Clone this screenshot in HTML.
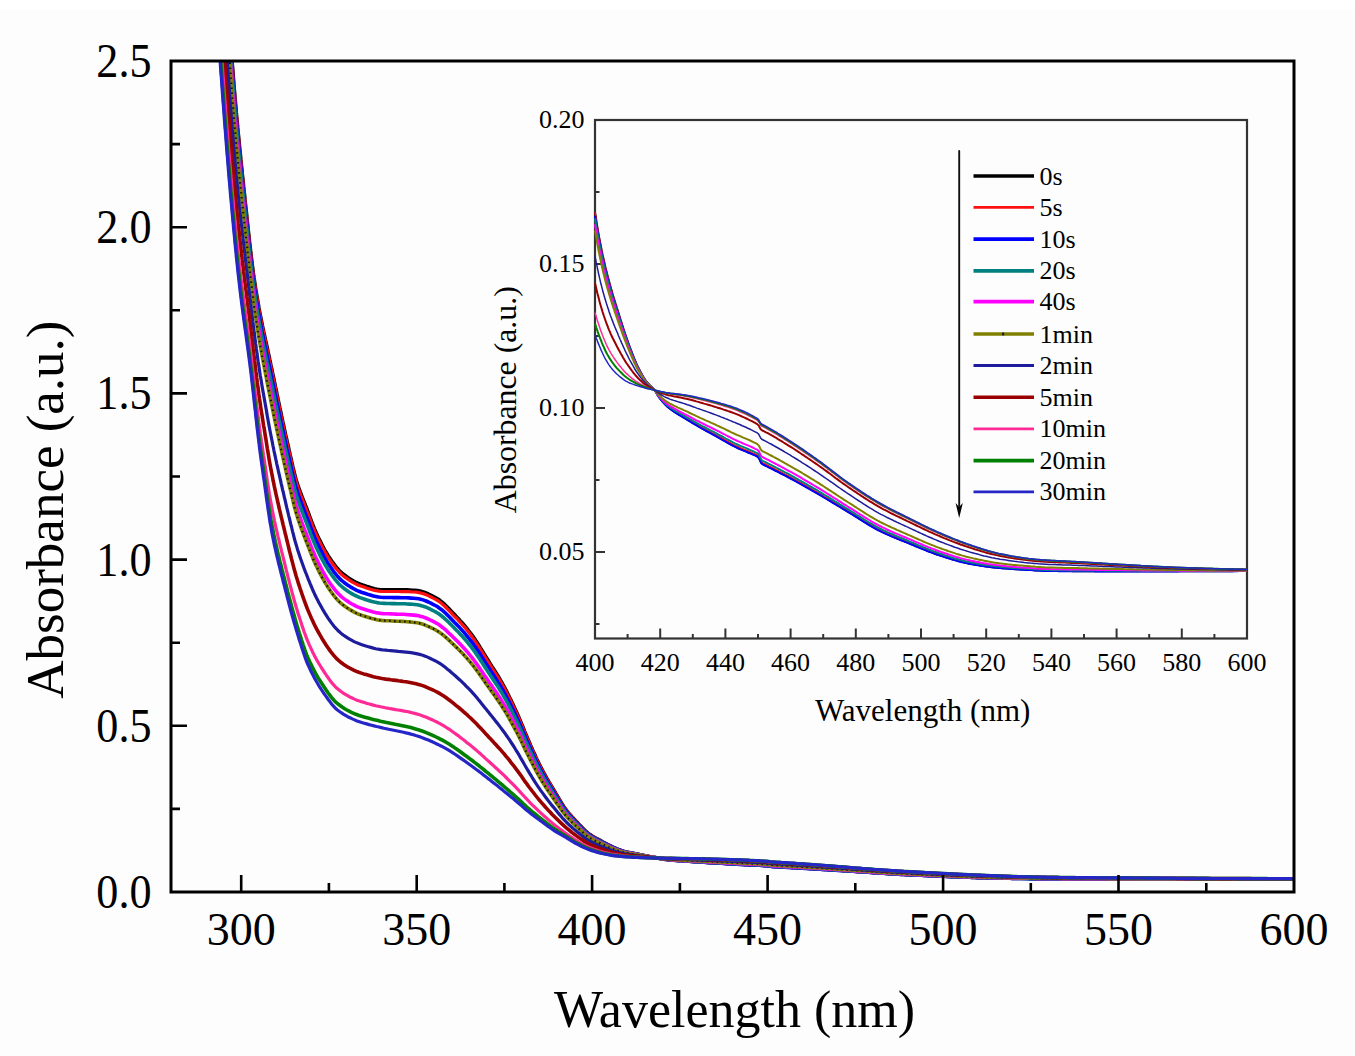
<!DOCTYPE html>
<html><head><meta charset="utf-8"><style>
html,body{margin:0;padding:0;background:#fdfdfd;}
svg{display:block;}
text{font-family:"Liberation Serif", serif;fill:#000;}
</style></head><body>
<svg width="1355" height="1056" viewBox="0 0 1355 1056">
<rect width="1355" height="1056" fill="#fdfdfd"/><rect width="1355" height="9" fill="#fff"/>
<defs>
<clipPath id="cm"><rect x="171.0" y="61.0" width="1123.0" height="831.0"/></clipPath>
<clipPath id="ci"><rect x="595.0" y="120.0" width="652.0" height="518.5"/><rect x="593.5" y="120.0" width="4" height="518.5"/></clipPath>
</defs>
<g clip-path="url(#cm)" fill="none" stroke-linejoin="round" stroke-linecap="round">
<path d="M229.8 27.1L230.0 30.2 230.2 33.4 230.4 36.5 230.7 39.8 230.9 43.1 231.1 46.4 231.3 49.8 231.5 53.0 231.7 56.1 231.9 59.1 232.1 61.9 232.3 64.7 232.6 67.4 232.8 70.1 233.0 72.7 233.2 75.4 233.4 78.0 233.6 80.6 233.8 83.2 234.0 85.8 234.2 88.3 234.4 90.8 234.7 93.3 234.9 96.6 235.2 99.9 235.5 103.1 235.8 106.3 236.1 109.5 236.3 112.7 236.6 115.8 236.9 118.9 237.2 121.9 237.5 124.9 237.7 127.9 238.0 130.9 238.3 133.9 238.6 136.8 238.9 139.7 239.2 142.6 239.4 145.5 239.7 148.3 240.0 151.1 240.3 154.0 240.6 156.8 240.8 159.5 241.1 162.3 241.4 165.0 241.7 167.8 242.0 170.5 242.2 173.2 242.5 175.9 242.8 178.6 243.1 181.3 243.4 184.0 243.6 186.7 243.9 189.3 244.2 192.0 244.5 194.6 244.8 197.3 245.0 199.9 245.3 202.6 245.6 205.2 245.9 207.9 246.2 210.6 246.5 213.2 246.7 215.8 247.0 218.5 247.3 221.1 247.6 223.7 247.9 226.4 248.1 229.0 248.4 231.5 248.7 234.1 249.0 236.7 249.3 239.2 249.5 241.7 249.8 244.2 250.2 247.3 250.5 250.3 250.9 253.3 251.2 256.3 251.6 259.2 251.9 262.1 252.3 264.9 252.6 267.6 253.0 270.3 253.3 273.0 253.7 275.5 254.0 278.0 254.5 280.9 254.9 283.7 255.3 286.4 255.7 289.1 256.1 291.7 256.6 294.2 257.0 296.7 257.5 299.6 258.0 302.4 258.5 305.1 258.9 307.8 259.4 310.5 259.9 313.1 260.4 315.6 260.9 318.1 261.4 320.6 262.0 323.3 262.5 326.1 263.1 328.8 263.6 331.4 264.2 334.1 264.8 336.7 265.3 339.3 265.9 341.9 266.5 344.4 267.0 347.0 267.6 349.5 268.1 352.1 268.7 354.7 269.3 357.2 269.8 359.8 270.4 362.5 270.9 365.1 271.5 367.8 272.1 370.5 272.6 373.2 273.2 375.9 273.8 378.6 274.3 381.3 274.9 384.0 275.4 386.8 276.0 389.5 276.6 392.2 277.1 394.9 277.7 397.5 278.2 400.2 278.8 402.9 279.4 405.6 279.9 408.2 280.5 410.9 281.1 413.5 281.6 416.2 282.2 418.8 282.7 421.4 283.3 424.0 283.9 426.6 284.4 429.2 285.0 431.8 285.5 434.3 286.1 436.9 286.7 439.4 287.2 441.9 287.8 444.5 288.4 446.9 288.9 449.4 289.5 451.9 290.0 454.3 290.6 456.8 291.2 459.2 291.7 461.7 292.3 464.2 292.8 466.6 293.5 469.3 294.1 472.0 294.7 474.5 295.4 477.2 296.1 479.7 296.9 482.2 297.7 484.7 298.5 487.2 299.4 489.6 300.3 492.1 301.2 494.5 302.1 496.9 303.1 499.4 304.1 501.9 305.1 504.3 306.0 506.8 307.0 509.2 307.9 511.6 308.8 514.0 309.7 516.5 310.6 518.9 311.5 521.3 312.4 523.7 313.3 526.0 314.3 528.5 315.3 530.8 316.4 533.2 317.4 535.4 318.5 537.8 319.7 540.1 320.8 542.4 322.0 544.8 323.2 547.1 324.4 549.3 325.6 551.5 327.0 553.8 328.3 555.9 329.7 558.0 331.2 560.2 332.6 562.2 334.2 564.3 335.7 566.3 337.3 568.3 339.0 570.2 340.9 572.0 342.7 573.7 344.8 575.3 346.8 576.8 348.9 578.2 351.0 579.6 353.2 580.9 355.5 582.1 357.8 583.2 360.1 584.1 362.5 585.0 364.9 585.8 367.2 586.6 369.6 587.3 372.1 588.1 374.5 588.7 377.0 589.2 379.5 589.6 382.1 589.8 384.6 589.8 387.1 589.8 389.6 589.8 392.2 589.8 394.7 589.8 397.2 589.8 399.7 589.8 402.3 589.8 404.8 589.9 407.3 589.9 409.8 590.0 412.4 590.2 414.9 590.4 417.4 590.6 420.0 591.0 422.4 591.7 424.8 592.5 427.2 593.4 429.5 594.5 431.7 595.6 434.0 596.8 436.2 598.0 438.4 599.3 440.4 600.8 442.4 602.4 444.3 604.1 446.1 605.9 448.0 607.7 449.7 609.5 451.5 611.4 453.2 613.2 455.0 615.1 456.7 616.9 458.5 618.8 460.2 620.7 461.9 622.5 463.6 624.5 465.3 626.5 466.9 628.4 468.5 630.5 470.1 632.5 471.6 634.5 473.1 636.6 474.6 638.7 476.0 640.9 477.4 643.0 478.8 645.2 480.1 647.4 481.4 649.5 482.8 651.7 484.1 653.9 485.4 656.0 486.8 658.2 488.1 660.3 489.4 662.4 490.8 664.7 492.2 666.9 493.7 669.1 495.0 671.2 496.3 673.3 497.7 675.5 499.0 677.7 500.3 680.0 501.6 682.2 502.8 684.4 504.1 686.7 505.3 688.9 506.5 691.2 507.7 693.5 508.8 695.8 509.9 698.0 511.1 700.4 512.2 702.7 513.3 705.1 514.4 707.5 515.5 709.8 516.5 712.1 517.6 714.4 518.6 716.8 519.6 719.1 520.6 721.5 521.6 723.9 522.6 726.3 523.6 728.7 524.5 731.1 525.5 733.5 526.5 735.8 527.5 738.1 528.5 740.5 529.6 743.0 530.6 745.4 531.7 747.8 532.7 750.1 533.8 752.5 534.9 754.8 535.9 757.2 537.0 759.6 538.2 761.9 539.3 764.2 540.5 766.6 541.7 768.9 542.9 771.1 544.1 773.4 545.4 775.7 546.6 777.9 547.9 780.1 549.2 782.3 550.5 784.5 551.8 786.8 553.2 789.0 554.5 791.2 555.8 793.5 557.2 795.8 558.5 798.0 559.8 800.3 561.2 802.5 562.5 804.6 563.9 806.7 565.4 808.8 566.9 810.8 568.5 812.8 570.2 814.8 571.9 816.7 573.7 818.6 575.4 820.5 577.2 822.3 578.9 824.2 580.7 826.0 582.4 827.9 584.3 829.7 586.1 831.5 588.1 833.1 590.1 834.6 592.2 836.0 594.4 837.3 596.6 838.5 598.9 839.7 601.1 840.9 603.4 842.2 605.6 843.4 607.8 844.6 610.1 845.7 612.4 846.8 614.7 847.8 617.0 848.8 619.4 849.8 621.7 850.6 624.2 851.4 626.7 852.0 629.1 852.5 631.6 853.0 634.2 853.4 636.6 853.9 639.1 854.4 641.5 854.9 644.0 855.4 646.5 855.9 648.9 856.4 651.4 856.9 654.0 857.3 656.5 857.8 658.9 858.3 661.4 858.8 663.9 859.2 666.5 859.5 669.0 859.8 671.5 860.0 674.0 860.2 676.6 860.4 679.1 860.6 681.6 860.8 684.1 861.0 686.7 861.1 689.2 861.3 691.7 861.4 694.2 861.6 696.8 861.8 699.3 861.9 701.8 862.1 704.4 862.2 706.9 862.4 709.4 862.6 711.9 862.7 714.5 862.8 717.0 863.0 719.5 863.1 722.0 863.3 724.6 863.4 727.1 863.6 729.6 863.7 732.1 863.9 734.7 864.0 737.2 864.2 739.7 864.3 742.3 864.5 744.8 864.6 747.3 864.7 749.8 864.9 752.4 865.0 754.9 865.1 757.4 865.2 759.9 865.3 762.5 865.4 765.0 865.6 767.5 865.7 770.0 866.2 772.5 866.5 775.0 866.7 777.6 866.8 780.1 866.9 782.6 867.1 785.1 867.2 787.7 867.3 790.2 867.5 792.7 867.6 795.2 867.8 797.8 867.9 800.3 868.0 802.8 868.2 805.4 868.3 807.9 868.5 810.4 868.6 812.9 868.8 815.5 868.9 818.0 869.1 820.5 869.2 823.0 869.4 825.6 869.5 828.1 869.7 830.6 869.9 833.1 870.0 835.7 870.2 838.2 870.3 840.7 870.5 843.3 870.7 845.8 870.8 848.3 871.0 850.8 871.2 853.4 871.3 855.9 871.5 858.4 871.7 860.9 871.8 863.5 872.0 866.0 872.1 868.5 872.3 871.1 872.5 873.6 872.6 876.1 872.8 878.6 873.0 881.2 873.2 883.7 873.3 886.2 873.5 888.7 873.7 891.3 873.8 893.8 874.0 896.3 874.1 898.8 874.3 901.4 874.4 903.9 874.5 906.4 874.6 909.0 874.8 911.5 874.9 914.0 875.0 916.5 875.1 919.1 875.2 921.6 875.3 924.1 875.4 926.6 875.5 929.2 875.6 931.7 875.8 934.2 875.9 936.7 876.0 939.3 876.1 941.8 876.2 944.3 876.3 946.9 876.4 949.4 876.5 951.9 876.6 954.4 876.7 957.0 876.8 959.5 876.9 962.0 877.0 964.5 877.1 967.1 877.2 969.6 877.3 972.1 877.4 974.6 877.5 977.2 877.6 979.7 877.6 982.2 877.7 984.8 877.8 987.3 877.9 989.8 877.9 992.3 878.0 994.9 878.0 997.4 878.1 999.9 878.1 1002.4 878.2 1005.0 878.2 1007.5 878.3 1010.0 878.3 1012.5 878.4 1015.1 878.4 1017.6 878.4 1020.1 878.5 1022.7 878.5 1025.2 878.5 1027.7 878.5 1030.2 878.6 1032.8 878.6 1035.3 878.6 1037.8 878.6 1040.3 878.6 1042.9 878.7 1045.4 878.7 1047.9 878.7 1050.4 878.7 1053.0 878.7 1055.5 878.7 1058.0 878.8 1060.6 878.8 1063.1 878.8 1065.6 878.8 1068.1 878.8 1070.7 878.8 1073.2 878.9 1075.7 878.9 1078.2 878.9 1080.8 878.9 1083.3 878.9 1085.8 878.9 1088.4 878.9 1090.9 878.9 1093.4 878.9 1095.9 878.9 1098.5 878.9 1101.0 878.9 1103.5 878.9 1106.0 878.9 1108.6 878.9 1111.1 878.9 1113.6 878.9 1116.1 878.9 1118.7 878.9 1121.2 878.9 1123.7 878.9 1126.3 878.9 1128.8 878.9 1131.3 878.9 1133.8 878.9 1136.4 878.9 1138.9 878.9 1141.4 878.9 1143.9 878.9 1146.5 878.9 1149.0 878.9 1151.5 878.9 1154.0 878.9 1156.6 878.9 1159.1 878.9 1161.6 878.9 1164.2 878.9 1166.7 878.9 1169.2 878.9 1171.7 878.9 1174.3 878.9 1176.8 878.9 1179.3 878.9 1181.8 878.9 1184.4 878.9 1186.9 878.9 1189.4 878.9 1191.9 878.9 1194.5 878.9 1197.0 878.9 1199.5 878.9 1202.1 878.9 1204.6 878.9 1207.1 878.9 1209.6 878.9 1212.2 878.9 1214.7 878.9 1217.2 878.9 1219.7 878.9 1222.3 878.9 1224.8 878.9 1227.3 878.9 1229.8 878.9 1232.4 878.9 1234.9 878.9 1237.4 878.9 1240.0 878.9 1242.5 878.9 1245.0 878.9 1247.5 878.9 1250.1 878.9 1252.6 878.9 1255.1 878.9 1257.6 878.9 1260.2 878.9 1262.7 878.9 1265.2 878.9 1267.7 878.9 1270.3 878.9 1272.8 878.9 1275.3 878.9 1277.9 878.9 1280.4 878.9 1282.9 878.9 1285.4 878.9 1288.0 878.9 1290.5 878.9 1293.0 878.9 1294.0 878.9" stroke="#000000" stroke-width="3.6"/>
<path d="M229.7 26.9L229.9 30.0 230.1 33.2 230.3 36.3 230.5 39.5 230.7 42.8 230.9 46.1 231.2 49.4 231.4 52.7 231.6 55.9 231.8 59.0 232.0 61.9 232.2 64.6 232.4 67.4 232.6 70.1 232.8 72.8 233.0 75.4 233.3 78.1 233.5 80.7 233.7 83.3 233.9 85.8 234.1 88.4 234.3 90.9 234.5 93.4 234.8 96.7 235.1 100.0 235.4 103.3 235.6 106.5 235.9 109.7 236.2 112.8 236.5 115.9 236.8 119.0 237.0 122.1 237.3 125.1 237.6 128.1 237.9 131.1 238.2 134.1 238.5 137.0 238.7 140.0 239.0 142.8 239.3 145.7 239.6 148.6 239.9 151.4 240.1 154.2 240.4 157.0 240.7 159.8 241.0 162.6 241.3 165.3 241.5 168.1 241.8 170.8 242.1 173.5 242.4 176.2 242.7 178.9 242.9 181.6 243.2 184.2 243.5 186.9 243.8 189.6 244.1 192.2 244.3 194.9 244.6 197.5 244.9 200.2 245.2 202.8 245.5 205.5 245.7 208.1 246.0 210.7 246.3 213.4 246.6 216.0 246.9 218.7 247.2 221.3 247.4 223.9 247.7 226.5 248.0 229.1 248.3 231.7 248.6 234.3 248.8 236.8 249.1 239.4 249.4 241.9 249.7 244.4 250.0 247.5 250.4 250.6 250.7 253.6 251.1 256.6 251.4 259.5 251.8 262.4 252.1 265.2 252.5 268.0 252.8 270.7 253.2 273.4 253.5 276.0 253.9 278.5 254.3 281.4 254.7 284.3 255.2 287.0 255.6 289.7 256.0 292.3 256.4 294.9 256.8 297.4 257.3 299.9 257.8 302.8 258.2 305.6 258.7 308.3 259.2 311.0 259.7 313.6 260.2 316.2 260.7 318.7 261.2 321.2 261.7 323.7 262.2 326.4 262.8 329.2 263.4 331.9 263.9 334.5 264.5 337.2 265.1 339.8 265.6 342.4 266.2 345.0 266.7 347.5 267.3 350.1 267.9 352.7 268.4 355.3 269.0 357.9 269.5 360.5 270.1 363.1 270.7 365.7 271.2 368.4 271.8 371.1 272.4 373.8 272.9 376.5 273.5 379.2 274.0 381.9 274.6 384.7 275.2 387.4 275.7 390.1 276.3 392.8 276.8 395.5 277.4 398.1 278.0 400.8 278.5 403.5 279.1 406.2 279.7 408.8 280.2 411.5 280.8 414.1 281.3 416.8 281.9 419.4 282.5 422.0 283.0 424.6 283.6 427.2 284.1 429.8 284.7 432.4 285.3 434.9 285.8 437.5 286.4 440.0 286.9 442.5 287.5 445.1 288.1 447.6 288.6 450.0 289.2 452.5 289.8 455.0 290.4 457.7 291.0 460.1 291.5 462.6 292.1 465.1 292.6 467.5 293.3 470.3 293.9 472.9 294.5 475.5 295.2 477.9 295.9 480.5 296.6 483.1 297.4 485.6 298.2 488.2 299.1 490.6 299.9 493.0 300.8 495.4 301.8 497.8 302.7 500.2 303.7 502.6 304.6 505.1 305.6 507.6 306.5 509.9 307.4 512.3 308.4 514.7 309.3 517.2 310.2 519.6 311.1 522.0 312.0 524.4 312.9 526.8 313.9 529.2 314.9 531.6 315.9 534.0 317.0 536.3 318.1 538.7 319.2 541.0 320.4 543.3 321.5 545.6 322.7 547.9 323.9 550.1 325.1 552.4 326.4 554.6 327.7 556.8 329.1 558.9 330.6 561.1 332.1 563.2 333.6 565.2 335.1 567.2 336.7 569.2 338.4 571.2 340.2 573.0 342.0 574.8 344.0 576.4 346.0 577.9 348.2 579.4 350.3 580.8 352.4 582.1 354.7 583.3 356.9 584.5 359.2 585.5 361.6 586.3 364.0 587.1 366.4 588.0 368.8 588.7 371.2 589.5 373.7 590.1 376.2 590.7 378.7 591.1 381.2 591.4 383.7 591.5 386.3 591.5 388.8 591.5 391.3 591.5 393.8 591.5 396.4 591.5 398.9 591.5 401.4 591.6 404.0 591.6 406.5 591.6 409.0 591.7 411.5 591.9 414.1 592.0 416.6 592.2 419.1 592.6 421.6 593.2 424.0 593.9 426.3 594.8 428.7 595.9 431.0 597.0 433.2 598.1 435.5 599.3 437.6 600.6 439.7 602.0 441.7 603.6 443.6 605.2 445.5 607.0 447.3 608.8 449.1 610.6 450.8 612.4 452.6 614.3 454.3 616.1 456.1 617.9 457.9 619.7 459.6 621.6 461.3 623.5 463.0 625.4 464.7 627.3 466.3 629.3 467.9 631.3 469.5 633.3 471.1 635.3 472.5 637.4 474.0 639.5 475.4 641.6 476.8 643.7 478.2 645.9 479.6 648.1 480.9 650.2 482.3 652.4 483.6 654.5 484.9 656.7 486.3 658.8 487.6 661.0 489.0 663.2 490.4 665.4 491.8 667.6 493.2 669.8 494.6 672.0 496.0 674.1 497.3 676.3 498.6 678.4 500.0 680.7 501.3 683.0 502.6 685.2 503.8 687.4 505.0 689.6 506.2 691.9 507.4 694.2 508.6 696.5 509.7 698.8 510.8 701.1 512.0 703.4 513.1 705.8 514.2 708.2 515.3 710.6 516.4 712.9 517.4 715.2 518.5 717.5 519.6 720.0 520.5 722.3 521.5 724.7 522.5 727.1 523.5 729.5 524.5 731.9 525.4 734.2 526.4 736.6 527.5 739.0 528.5 741.4 529.6 743.8 530.6 746.2 531.7 748.6 532.7 750.9 533.8 753.3 534.9 755.6 535.9 757.9 537.0 760.3 538.2 762.6 539.3 764.9 540.5 767.2 541.7 769.5 542.9 771.7 544.1 774.0 545.4 776.3 546.6 778.5 547.9 780.7 549.2 782.9 550.6 785.2 551.9 787.4 553.2 789.6 554.6 791.8 555.9 794.1 557.2 796.3 558.6 798.6 559.9 800.8 561.2 803.0 562.6 805.2 564.0 807.3 565.5 809.3 567.1 811.3 568.7 813.3 570.4 815.3 572.1 817.1 573.8 819.0 575.6 820.9 577.3 822.7 579.1 824.6 580.8 826.4 582.6 828.3 584.4 830.1 586.3 831.9 588.3 833.5 590.3 835.0 592.5 836.3 594.7 837.6 596.9 838.8 599.1 840.0 601.4 841.2 603.6 842.4 605.9 843.7 608.1 844.8 610.4 845.9 612.7 847.0 615.0 848.0 617.3 849.0 619.7 850.0 622.1 850.8 624.6 851.5 627.0 852.1 629.5 852.6 632.0 853.1 634.5 853.5 637.0 854.0 639.4 854.5 641.9 855.0 644.3 855.5 646.8 856.0 649.3 856.5 651.8 857.0 654.3 857.4 656.8 857.8 659.3 858.4 661.8 858.8 664.3 859.2 666.8 859.5 669.3 859.8 671.9 860.0 674.4 860.2 676.9 860.4 679.4 860.6 682.0 860.7 684.5 860.9 687.0 861.1 689.5 861.2 692.1 861.4 694.6 861.5 697.1 861.7 699.7 861.9 702.2 862.0 704.7 862.2 707.2 862.3 709.8 862.5 712.3 862.6 714.8 862.8 717.3 862.9 719.9 863.0 722.4 863.2 724.9 863.3 727.4 863.5 730.0 863.6 732.5 863.8 735.0 863.9 737.6 864.1 740.1 864.2 742.6 864.4 745.1 864.5 747.7 864.6 750.2 864.7 752.7 864.9 755.2 865.0 757.8 865.1 760.3 865.2 762.8 865.3 765.3 865.4 767.9 865.6 770.3 866.1 772.9 866.4 775.4 866.5 777.9 866.7 780.4 866.8 783.0 867.0 785.5 867.1 788.0 867.2 790.5 867.4 793.1 867.5 795.6 867.7 798.1 867.8 800.7 867.9 803.2 868.1 805.7 868.2 808.2 868.4 810.8 868.5 813.3 868.7 815.8 868.8 818.3 869.0 820.9 869.1 823.4 869.3 825.9 869.5 828.4 869.6 831.0 869.8 833.5 869.9 836.0 870.1 838.6 870.2 841.1 870.4 843.6 870.6 846.1 870.7 848.7 870.9 851.2 871.1 853.7 871.2 856.2 871.4 858.8 871.6 861.3 871.7 863.8 871.9 866.3 872.1 868.9 872.2 871.4 872.4 873.9 872.6 876.5 872.7 879.0 872.9 881.5 873.1 884.0 873.3 886.6 873.4 889.1 873.6 891.6 873.7 894.1 873.9 896.7 874.0 899.2 874.2 901.7 874.3 904.2 874.4 906.8 874.6 909.3 874.7 911.8 874.8 914.4 874.9 916.9 875.0 919.4 875.1 921.9 875.2 924.5 875.4 927.0 875.5 929.5 875.6 932.0 875.7 934.6 875.8 937.1 875.9 939.6 876.0 942.2 876.1 944.7 876.3 947.2 876.4 949.7 876.5 952.3 876.6 954.8 876.7 957.3 876.8 959.8 876.9 962.4 877.0 964.9 877.1 967.4 877.1 969.9 877.2 972.5 877.3 975.0 877.4 977.5 877.5 980.1 877.6 982.6 877.6 985.1 877.7 987.6 877.8 990.2 877.9 992.7 877.9 995.2 878.0 997.7 878.0 1000.3 878.1 1002.8 878.1 1005.3 878.2 1007.8 878.2 1010.4 878.3 1012.9 878.3 1015.4 878.3 1018.0 878.4 1020.5 878.4 1023.0 878.4 1025.5 878.5 1028.1 878.5 1030.6 878.5 1033.1 878.5 1035.6 878.6 1038.2 878.6 1040.7 878.6 1043.2 878.6 1045.7 878.6 1048.3 878.7 1050.8 878.7 1053.3 878.7 1055.9 878.7 1058.4 878.7 1060.9 878.7 1063.4 878.8 1066.0 878.8 1068.5 878.8 1071.0 878.8 1073.5 878.8 1076.1 878.8 1078.6 878.8 1081.1 878.9 1083.6 878.9 1086.2 878.9 1088.7 878.9 1091.2 878.9 1093.8 878.9 1096.3 878.9 1098.8 878.9 1101.3 878.9 1103.9 878.9 1106.4 878.9 1108.9 878.9 1111.4 878.9 1114.0 878.9 1116.5 878.9 1119.0 878.9 1121.5 878.9 1124.1 878.9 1126.6 878.9 1129.1 878.9 1131.7 878.9 1134.2 878.9 1136.7 878.9 1139.2 878.9 1141.8 878.9 1144.3 878.9 1146.8 878.9 1149.3 878.9 1151.9 878.9 1154.4 878.9 1156.9 878.9 1159.5 878.9 1162.0 878.9 1164.5 878.9 1167.0 878.9 1169.6 878.9 1172.1 878.9 1174.6 878.9 1177.1 878.9 1179.7 878.9 1182.2 878.9 1184.7 878.9 1187.2 878.9 1189.8 878.9 1192.3 878.9 1194.8 878.9 1197.4 878.9 1199.9 878.9 1202.4 878.9 1204.9 878.9 1207.5 878.9 1210.0 878.9 1212.5 878.9 1215.0 878.9 1217.6 878.9 1220.1 878.9 1222.6 878.9 1225.1 878.9 1227.7 878.9 1230.2 878.9 1232.7 878.9 1235.3 878.9 1237.8 878.9 1240.3 878.9 1242.8 878.9 1245.4 878.9 1247.9 878.9 1250.4 878.9 1252.9 878.9 1255.5 878.9 1258.0 878.9 1260.5 878.9 1263.0 878.9 1265.6 878.9 1268.1 878.9 1270.6 878.9 1273.2 878.9 1275.7 878.9 1278.2 878.9 1280.7 878.9 1283.3 878.9 1285.8 878.9 1288.3 878.9 1290.8 878.9 1293.4 878.9 1294.0 878.9" stroke="#ff1010" stroke-width="3.2"/>
<path d="M229.3 27.6L229.5 30.7 229.7 33.8 229.9 36.9 230.1 40.0 230.3 43.1 230.5 46.2 230.7 49.5 230.9 52.7 231.2 56.0 231.4 59.3 231.6 62.4 231.8 65.5 232.0 68.4 232.2 71.1 232.4 73.8 232.6 76.5 232.8 79.2 233.0 81.8 233.3 84.4 233.5 87.0 233.7 89.6 233.9 92.2 234.1 94.7 234.3 97.2 234.5 99.7 234.8 103.0 235.1 106.3 235.4 109.5 235.6 112.7 235.9 115.9 236.2 119.0 236.5 122.1 236.8 125.2 237.0 128.2 237.3 131.3 237.6 134.3 237.9 137.2 238.2 140.2 238.5 143.1 238.7 146.0 239.0 148.9 239.3 151.7 239.6 154.6 239.9 157.4 240.1 160.2 240.4 163.0 240.7 165.7 241.0 168.5 241.3 171.2 241.5 173.9 241.8 176.6 242.1 179.3 242.4 182.0 242.7 184.6 242.9 187.3 243.2 189.9 243.5 192.6 243.8 195.2 244.1 197.8 244.3 200.5 244.6 203.1 244.9 205.7 245.2 208.3 245.5 210.9 245.7 213.6 246.0 216.2 246.3 218.8 246.6 221.4 246.9 224.0 247.2 226.6 247.4 229.2 247.7 231.8 248.0 234.4 248.3 236.9 248.6 239.5 248.8 242.0 249.1 244.6 249.4 247.1 249.7 249.5 250.0 252.6 250.4 255.7 250.7 258.7 251.1 261.7 251.4 264.6 251.8 267.5 252.1 270.3 252.5 273.1 252.8 275.9 253.2 278.5 253.5 281.2 253.9 283.7 254.2 286.2 254.7 289.1 255.1 291.9 255.5 294.6 255.9 297.3 256.3 300.0 256.8 302.6 257.2 305.1 257.6 307.6 258.1 310.5 258.6 313.3 259.1 316.0 259.6 318.7 260.1 321.4 260.6 324.0 261.1 326.5 261.5 329.1 262.0 331.5 262.6 334.3 263.2 337.1 263.7 339.8 264.3 342.5 264.8 345.2 265.4 347.9 266.0 350.5 266.5 353.2 267.1 355.8 267.6 358.5 268.2 361.1 268.8 363.7 269.3 366.4 269.9 369.0 270.5 371.7 271.0 374.4 271.6 377.0 272.1 379.8 272.7 382.5 273.3 385.2 273.8 387.9 274.4 390.6 274.9 393.4 275.5 396.1 276.1 398.7 276.6 401.4 277.2 404.1 277.8 406.8 278.3 409.4 278.9 412.1 279.4 414.7 280.0 417.4 280.6 420.0 281.1 422.6 281.7 425.2 282.2 427.8 282.8 430.4 283.4 433.0 283.9 435.6 284.5 438.2 285.1 440.7 285.6 443.2 286.2 445.8 286.7 448.3 287.3 450.8 287.9 453.3 288.4 455.7 289.0 458.2 289.5 460.6 290.2 463.4 290.8 466.1 291.4 468.6 291.9 471.0 292.5 473.4 293.1 476.2 293.8 478.8 294.4 481.4 295.0 483.9 295.7 486.4 296.4 488.9 297.2 491.4 298.0 493.8 298.8 496.3 299.7 498.7 300.6 501.2 301.5 503.6 302.4 506.0 303.3 508.3 304.3 510.8 305.3 513.3 306.3 515.8 307.2 518.2 308.1 520.6 309.0 523.0 309.9 525.4 310.8 527.8 311.7 530.2 312.6 532.5 313.6 535.0 314.6 537.4 315.7 539.8 316.7 542.1 317.8 544.4 319.0 546.8 320.1 549.1 321.3 551.4 322.5 553.7 323.7 556.0 324.9 558.2 326.2 560.4 327.5 562.6 328.9 564.8 330.4 566.9 331.9 569.0 333.3 571.1 334.9 573.1 336.5 575.1 338.2 577.0 339.9 578.9 341.8 580.6 343.8 582.2 345.8 583.7 347.9 585.2 350.0 586.6 352.2 587.9 354.5 589.2 356.7 590.3 359.0 591.3 361.4 592.2 363.8 593.0 366.2 593.8 368.6 594.6 371.0 595.3 373.5 596.0 375.9 596.5 378.5 597.0 381.0 597.3 383.5 597.5 386.1 597.5 388.6 597.5 391.1 597.5 393.6 597.6 396.2 597.6 398.7 597.6 401.2 597.7 403.7 597.7 406.3 597.8 408.8 597.9 411.3 598.1 413.8 598.3 416.4 598.5 418.9 598.8 421.4 599.4 423.7 600.1 426.1 601.0 428.4 602.0 430.8 603.2 433.0 604.3 435.3 605.5 437.5 606.7 439.6 608.2 441.6 609.7 443.6 611.4 445.5 613.1 447.3 614.9 449.2 616.7 450.9 618.5 452.7 620.4 454.4 622.2 456.2 624.0 457.9 625.8 459.7 627.6 461.4 629.5 463.1 631.4 464.8 633.3 466.5 635.3 468.1 637.3 469.7 639.3 471.3 641.3 472.8 643.4 474.3 645.5 475.8 647.6 477.2 649.7 478.6 651.8 480.0 654.0 481.4 656.2 482.8 658.4 484.2 660.7 485.6 662.9 487.0 665.1 488.4 667.3 489.8 669.4 491.2 671.6 492.6 673.7 494.0 675.9 495.4 678.1 496.8 680.3 498.1 682.4 499.5 684.5 500.8 686.7 502.1 689.0 503.4 691.2 504.7 693.4 505.9 695.8 507.1 698.0 508.3 700.3 509.5 702.6 510.7 705.0 511.8 707.2 513.0 709.5 514.1 711.8 515.2 714.2 516.3 716.6 517.4 719.0 518.5 721.3 519.6 723.6 520.6 726.1 521.6 728.4 522.6 730.7 523.6 733.0 524.5 735.3 525.6 737.8 526.6 740.2 527.7 742.6 528.7 744.9 529.8 747.2 530.9 749.6 531.9 751.9 533.0 754.2 534.0 756.4 535.1 758.8 536.3 761.2 537.4 763.5 538.5 765.8 539.7 768.1 540.9 770.3 542.2 772.7 543.4 774.9 544.7 777.2 545.9 779.3 547.3 781.6 548.6 783.8 549.9 786.0 551.3 788.2 552.6 790.4 553.9 792.5 555.3 794.7 556.6 796.9 557.9 799.0 559.3 801.2 560.6 803.4 562.0 805.6 563.4 807.6 564.9 809.7 566.4 811.7 568.1 813.7 569.7 815.6 571.4 817.5 573.2 819.4 574.9 821.2 576.7 823.0 578.4 824.8 580.2 826.6 581.9 828.4 583.8 830.2 585.6 832.0 587.6 833.6 589.6 835.1 591.7 836.5 593.9 837.8 596.1 839.0 598.4 840.2 600.6 841.3 602.9 842.5 605.1 843.7 607.4 844.9 609.6 846.0 611.9 847.0 614.2 848.0 616.6 849.0 618.9 850.0 621.3 850.8 623.8 851.6 626.2 852.2 628.7 852.7 631.2 853.1 633.7 853.6 636.3 854.0 638.7 854.5 641.2 855.0 643.6 855.5 646.1 856.0 648.6 856.4 651.1 856.9 653.6 857.3 656.1 857.7 658.6 858.2 661.0 858.7 663.6 859.2 666.1 859.5 668.6 859.8 671.2 860.0 673.7 860.2 676.2 860.4 678.7 860.6 681.3 860.8 683.8 861.0 686.3 861.1 688.8 861.3 691.4 861.4 693.9 861.6 696.4 861.8 699.0 861.9 701.5 862.1 704.0 862.3 706.5 862.4 709.1 862.6 711.6 862.7 714.1 862.9 716.6 863.0 719.2 863.2 721.7 863.3 724.2 863.4 726.7 863.6 729.3 863.8 731.8 863.9 734.3 864.1 736.9 864.2 739.4 864.4 741.9 864.5 744.4 864.6 747.0 864.8 749.5 864.9 752.0 865.0 754.5 865.1 757.1 865.2 759.6 865.3 762.1 865.5 764.6 865.6 767.2 865.7 769.7 866.1 772.2 866.6 774.8 866.7 777.3 866.8 779.8 867.0 782.3 867.1 784.9 867.2 787.4 867.4 789.9 867.5 792.4 867.7 795.0 867.8 797.5 867.9 800.0 868.1 802.5 868.2 805.1 868.4 807.6 868.5 810.1 868.7 812.7 868.8 815.2 869.0 817.7 869.1 820.2 869.3 822.8 869.4 825.3 869.6 827.8 869.7 830.3 869.9 832.9 870.0 835.4 870.2 837.9 870.4 840.4 870.5 843.0 870.7 845.5 870.8 848.0 871.0 850.6 871.2 853.1 871.3 855.6 871.5 858.1 871.7 860.7 871.8 863.2 872.0 865.7 872.2 868.2 872.3 870.8 872.5 873.3 872.7 875.8 872.8 878.3 873.0 880.9 873.2 883.4 873.3 885.9 873.5 888.5 873.7 891.0 873.8 893.5 874.0 896.0 874.1 898.6 874.3 901.1 874.4 903.6 874.5 906.1 874.7 908.7 874.8 911.2 874.9 913.7 875.0 916.3 875.1 918.8 875.2 921.3 875.3 923.8 875.4 926.4 875.6 928.9 875.7 931.4 875.8 933.9 875.9 936.5 876.0 939.0 876.1 941.5 876.2 944.0 876.3 946.6 876.4 949.1 876.6 951.6 876.7 954.2 876.8 956.7 876.9 959.2 877.0 961.7 877.1 964.3 877.1 966.8 877.2 969.3 877.3 971.8 877.4 974.4 877.5 976.9 877.6 979.4 877.6 981.9 877.7 984.5 877.8 987.0 877.9 989.5 877.9 992.1 878.0 994.6 878.0 997.1 878.1 999.6 878.1 1002.2 878.2 1004.7 878.2 1007.2 878.3 1009.7 878.3 1012.3 878.4 1014.8 878.4 1017.3 878.4 1019.8 878.5 1022.4 878.5 1024.9 878.5 1027.4 878.6 1030.0 878.6 1032.5 878.6 1035.0 878.6 1037.5 878.6 1040.1 878.7 1042.6 878.7 1045.1 878.7 1047.6 878.7 1050.2 878.7 1052.7 878.7 1055.2 878.8 1057.7 878.8 1060.3 878.8 1062.8 878.8 1065.3 878.8 1067.9 878.8 1070.4 878.9 1072.9 878.9 1075.4 878.9 1078.0 878.9 1080.5 878.9 1083.0 878.9 1085.5 878.9 1088.1 878.9 1090.6 878.9 1093.1 878.9 1095.7 878.9 1098.2 878.9 1100.7 878.9 1103.2 878.9 1105.8 878.9 1108.3 878.9 1110.8 878.9 1113.3 878.9 1115.9 878.9 1118.4 878.9 1120.9 878.9 1123.4 878.9 1126.0 878.9 1128.5 878.9 1131.0 878.9 1133.6 878.9 1136.1 878.9 1138.6 878.9 1141.1 878.9 1143.7 878.9 1146.2 878.9 1148.7 878.9 1151.2 878.9 1153.8 878.9 1156.3 878.9 1158.8 878.9 1161.3 878.9 1163.9 878.9 1166.4 878.9 1168.9 878.9 1171.5 878.9 1174.0 878.9 1176.5 878.9 1179.0 878.9 1181.6 878.9 1184.1 878.9 1186.6 878.9 1189.1 878.9 1191.7 878.9 1194.2 878.9 1196.7 878.9 1199.2 878.9 1201.8 878.9 1204.3 878.9 1206.8 878.9 1209.4 878.9 1211.9 878.9 1214.4 878.9 1216.9 878.9 1219.5 878.9 1222.0 878.9 1224.5 878.9 1227.0 878.9 1229.6 878.9 1232.1 878.9 1234.6 878.9 1237.1 878.9 1239.7 878.9 1242.2 878.9 1244.7 878.9 1247.3 878.9 1249.8 878.9 1252.3 878.9 1254.8 878.9 1257.4 878.9 1259.9 878.9 1262.4 878.9 1264.9 878.9 1267.5 878.9 1270.0 878.9 1272.5 878.9 1275.0 878.9 1277.6 878.9 1280.1 878.9 1282.6 878.9 1285.2 878.9 1287.7 878.9 1290.2 878.9 1292.7 878.9 1294.0 878.9" stroke="#0000ff" stroke-width="3.6"/>
<path d="M228.8 27.3L229.0 30.4 229.2 33.5 229.4 36.5 229.6 39.6 229.8 42.7 230.0 45.8 230.2 48.8 230.4 51.9 230.7 55.1 230.9 58.3 231.1 61.6 231.3 64.8 231.5 67.9 231.7 71.0 231.9 73.9 232.1 76.7 232.3 79.4 232.6 82.0 232.8 84.7 233.0 87.3 233.2 89.9 233.4 92.5 233.6 95.1 233.8 97.6 234.0 100.2 234.2 102.7 234.5 106.0 234.8 109.3 235.1 112.5 235.4 115.7 235.6 118.9 235.9 122.1 236.2 125.2 236.5 128.3 236.8 131.3 237.0 134.4 237.3 137.4 237.6 140.4 237.9 143.3 238.2 146.2 238.5 149.2 238.7 152.0 239.0 154.9 239.3 157.7 239.6 160.6 239.9 163.4 240.1 166.1 240.4 168.9 240.7 171.6 241.0 174.4 241.3 177.1 241.5 179.8 241.8 182.4 242.1 185.1 242.4 187.7 242.7 190.4 242.9 193.0 243.2 195.6 243.5 198.3 243.8 200.9 244.1 203.5 244.3 206.1 244.6 208.7 244.9 211.3 245.2 213.8 245.5 216.4 245.7 219.0 246.0 221.6 246.3 224.2 246.6 226.8 246.9 229.4 247.2 231.9 247.4 234.5 247.7 237.1 248.0 239.6 248.3 242.2 248.6 244.7 248.8 247.2 249.1 249.7 249.4 252.2 249.8 255.3 250.1 258.4 250.5 261.4 250.8 264.4 251.2 267.4 251.5 270.3 251.9 273.2 252.2 276.0 252.6 278.8 252.9 281.5 253.3 284.2 253.6 286.9 254.0 289.4 254.3 292.0 254.7 294.9 255.2 297.7 255.6 300.5 256.0 303.2 256.4 305.9 256.8 308.6 257.3 311.1 257.7 313.7 258.1 316.2 258.6 319.1 259.1 321.9 259.6 324.6 260.1 327.3 260.6 330.0 261.1 332.6 261.5 335.2 262.0 337.7 262.5 340.2 263.0 342.6 263.6 345.4 264.1 348.2 264.7 350.9 265.3 353.7 265.8 356.4 266.4 359.1 266.9 361.8 267.5 364.5 268.1 367.2 268.6 369.9 269.2 372.6 269.8 375.3 270.3 378.0 270.9 380.7 271.4 383.4 272.0 386.1 272.6 388.8 273.1 391.6 273.7 394.3 274.2 397.0 274.8 399.7 275.4 402.4 275.9 405.1 276.5 407.7 277.1 410.4 277.6 413.1 278.2 415.7 278.7 418.4 279.3 421.0 279.9 423.6 280.4 426.2 281.0 428.8 281.5 431.4 282.1 434.0 282.7 436.6 283.2 439.2 283.8 441.7 284.4 444.3 284.9 446.8 285.5 449.3 286.0 451.8 286.6 454.3 287.2 456.8 287.7 459.3 288.3 461.8 288.8 464.2 289.5 467.0 290.1 469.7 290.7 472.4 291.4 475.1 292.0 477.8 292.6 480.6 293.3 483.2 293.9 485.9 294.5 488.4 295.2 490.8 295.9 493.4 296.6 496.0 297.4 498.5 298.2 501.1 299.1 503.5 299.9 505.9 300.8 508.4 301.8 510.9 302.7 513.2 303.6 515.6 304.6 518.1 305.5 520.6 306.5 522.9 307.4 525.3 308.3 527.7 309.2 530.1 310.1 532.5 311.0 534.9 311.9 537.2 312.9 539.7 313.9 542.1 314.9 544.4 315.9 546.8 317.1 549.2 318.2 551.5 319.3 553.8 320.4 556.1 321.6 558.4 322.8 560.6 324.1 562.9 325.3 565.2 326.7 567.4 328.0 569.6 329.4 571.7 330.9 573.8 332.4 575.9 333.9 577.9 335.4 579.9 337.1 581.8 338.7 583.7 340.6 585.5 342.5 587.2 344.5 588.8 346.5 590.2 348.6 591.7 350.8 593.1 353.0 594.3 355.2 595.5 357.6 596.6 359.9 597.6 362.3 598.4 364.6 599.2 367.0 600.0 369.4 600.7 371.9 601.5 374.3 602.1 376.8 602.6 379.3 603.0 381.8 603.3 384.4 603.4 386.9 603.5 389.4 603.5 392.0 603.6 394.5 603.6 397.0 603.7 399.5 603.7 402.1 603.8 404.6 603.8 407.1 604.0 409.6 604.1 412.2 604.3 414.7 604.5 417.2 604.8 419.7 605.3 422.2 605.9 424.6 606.7 427.0 607.7 429.3 608.7 431.6 609.8 433.9 611.0 436.1 612.2 438.3 613.5 440.4 615.0 442.3 616.5 444.2 618.1 446.1 619.9 448.0 621.6 449.8 623.5 451.6 625.3 453.4 627.1 455.2 628.9 457.0 630.8 458.8 632.6 460.5 634.4 462.3 636.3 464.0 638.2 465.6 640.1 467.3 642.1 468.9 644.0 470.6 646.1 472.1 648.1 473.6 650.2 475.1 652.2 476.6 654.4 478.0 656.4 479.4 658.5 480.8 660.7 482.2 662.8 483.6 665.0 485.0 667.2 486.4 669.3 487.8 671.5 489.2 673.6 490.6 675.7 492.0 677.8 493.4 679.9 494.8 682.0 496.2 684.2 497.7 686.3 499.1 688.6 500.4 690.7 501.7 692.9 503.1 695.1 504.3 697.3 505.6 699.5 506.8 701.8 508.0 704.0 509.2 706.3 510.4 708.6 511.6 710.9 512.8 713.3 513.9 715.5 515.1 717.8 516.2 720.1 517.3 722.4 518.4 724.8 519.5 727.2 520.5 729.5 521.6 731.9 522.6 734.3 523.7 736.7 524.7 739.1 525.8 741.5 526.9 743.9 527.9 746.2 529.0 748.6 530.1 751.0 531.3 753.4 532.4 755.8 533.5 758.1 534.6 760.5 535.8 762.8 536.9 765.0 538.1 767.4 539.3 769.7 540.5 771.9 541.7 774.2 543.0 776.4 544.3 778.6 545.6 780.8 546.9 783.0 548.3 785.2 549.6 787.3 550.9 789.5 552.3 791.7 553.7 793.9 555.1 796.1 556.5 798.2 557.8 800.4 559.1 802.5 560.5 804.7 561.9 806.8 563.4 808.9 565.0 811.0 566.6 813.1 568.2 815.0 569.9 816.9 571.6 818.8 573.4 820.6 575.1 822.4 577.0 824.2 578.8 826.1 580.6 827.9 582.4 829.7 584.3 831.5 586.2 833.2 588.1 834.8 590.2 836.2 592.4 837.6 594.7 838.8 596.9 840.0 599.1 841.1 601.4 842.3 603.6 843.4 605.9 844.6 608.1 845.7 610.4 846.8 612.8 847.8 615.1 848.7 617.5 849.7 619.8 850.6 622.2 851.4 624.7 852.0 627.1 852.6 629.6 853.0 632.1 853.5 634.7 853.9 637.2 854.3 639.7 854.8 642.2 855.3 644.6 855.8 647.1 856.2 649.6 856.7 652.1 857.1 654.7 857.5 657.2 857.9 659.6 858.4 662.2 858.9 664.7 859.2 667.2 859.5 669.8 859.8 672.3 860.0 674.8 860.2 677.3 860.3 679.9 860.5 682.4 860.7 684.9 860.8 687.4 861.0 690.0 861.1 692.5 861.3 695.0 861.4 697.5 861.6 700.1 861.7 702.6 861.9 705.1 862.0 707.7 862.2 710.2 862.3 712.7 862.5 715.2 862.6 717.8 862.7 720.3 862.9 722.8 863.0 725.3 863.1 727.9 863.3 730.4 863.4 732.9 863.6 735.4 863.7 738.0 863.9 740.5 864.0 743.0 864.2 745.6 864.3 748.1 864.4 750.6 864.5 753.1 864.6 755.7 864.8 758.2 864.9 760.7 865.0 763.2 865.1 765.8 865.2 768.3 865.4 770.8 866.0 773.3 866.2 775.8 866.3 778.3 866.5 780.9 866.6 783.4 866.8 785.9 866.9 788.4 867.0 791.0 867.2 793.5 867.3 796.0 867.5 798.5 867.6 801.1 867.7 803.6 867.9 806.1 868.0 808.7 868.2 811.2 868.3 813.7 868.5 816.2 868.7 818.8 868.8 821.3 869.0 823.8 869.1 826.3 869.3 828.9 869.4 831.4 869.6 833.9 869.8 836.4 869.9 839.0 870.1 841.5 870.2 844.0 870.4 846.6 870.6 849.1 870.8 851.6 870.9 854.1 871.1 856.7 871.3 859.2 871.4 861.7 871.6 864.2 871.8 866.8 871.9 869.3 872.1 871.8 872.3 874.3 872.4 876.9 872.6 879.4 872.8 881.9 872.9 884.5 873.1 887.0 873.3 889.5 873.4 892.0 873.6 894.6 873.8 897.1 873.9 899.6 874.0 902.1 874.2 904.7 874.3 907.2 874.4 909.7 874.5 912.3 874.7 914.8 874.8 917.3 874.9 919.8 875.0 922.4 875.1 924.9 875.2 927.4 875.3 929.9 875.4 932.5 875.6 935.0 875.7 937.5 875.8 940.0 875.9 942.6 876.0 945.1 876.1 947.6 876.2 950.2 876.4 952.7 876.5 955.2 876.6 957.7 876.7 960.3 876.8 962.8 876.9 965.3 876.9 967.8 877.0 970.4 877.1 972.9 877.2 975.4 877.3 977.9 877.4 980.5 877.5 983.0 877.5 985.5 877.6 988.1 877.7 990.6 877.8 993.1 877.8 995.6 877.9 998.2 877.9 1000.7 878.0 1003.2 878.0 1005.7 878.1 1008.3 878.1 1010.8 878.2 1013.3 878.2 1015.8 878.3 1018.4 878.3 1020.9 878.3 1023.4 878.4 1026.0 878.4 1028.5 878.4 1031.0 878.4 1033.5 878.5 1036.1 878.5 1038.6 878.5 1041.1 878.5 1043.6 878.6 1046.2 878.6 1048.7 878.6 1051.2 878.6 1053.7 878.6 1056.3 878.6 1058.8 878.7 1061.3 878.7 1063.9 878.7 1066.4 878.7 1068.9 878.7 1071.4 878.7 1074.0 878.8 1076.5 878.8 1079.0 878.8 1081.5 878.8 1084.1 878.8 1086.6 878.8 1089.1 878.8 1091.6 878.8 1094.2 878.8 1096.7 878.8 1099.2 878.8 1101.8 878.8 1104.3 878.8 1106.8 878.8 1109.3 878.8 1111.9 878.8 1114.4 878.8 1116.9 878.8 1119.4 878.8 1122.0 878.8 1124.5 878.8 1127.0 878.8 1129.6 878.8 1132.1 878.8 1134.6 878.8 1137.1 878.9 1139.7 878.9 1142.2 878.9 1144.7 878.9 1147.2 878.9 1149.8 878.9 1152.3 878.9 1154.8 878.9 1157.3 878.9 1159.9 878.9 1162.4 878.9 1164.9 878.9 1167.5 878.9 1170.0 878.9 1172.5 878.9 1175.0 878.9 1177.6 878.9 1180.1 878.9 1182.6 878.9 1185.1 878.9 1187.7 878.9 1190.2 878.9 1192.7 878.9 1195.2 878.9 1197.8 878.9 1200.3 878.9 1202.8 878.9 1205.4 878.9 1207.9 878.9 1210.4 878.9 1212.9 878.9 1215.5 878.9 1218.0 878.9 1220.5 878.9 1223.0 878.9 1225.6 878.9 1228.1 878.9 1230.6 878.9 1233.1 878.9 1235.7 878.9 1238.2 878.9 1240.7 878.9 1243.3 878.9 1245.8 878.9 1248.3 878.9 1250.8 878.9 1253.4 878.9 1255.9 878.9 1258.4 878.9 1260.9 878.9 1263.5 878.9 1266.0 878.9 1268.5 878.9 1271.0 878.9 1273.6 878.9 1276.1 878.9 1278.6 878.9 1281.2 878.9 1283.7 878.9 1286.2 878.9 1288.7 878.9 1291.3 878.9 1293.8 878.9 1294.0 878.9" stroke="#008080" stroke-width="3.6"/>
<path d="M227.9 27.3L228.1 30.3 228.3 33.3 228.6 36.4 228.8 39.4 229.0 42.4 229.2 45.4 229.4 48.4 229.6 51.4 229.8 54.5 230.0 57.5 230.2 60.5 230.4 63.5 230.7 66.7 230.9 69.8 231.1 73.0 231.3 76.1 231.5 79.2 231.7 82.2 231.9 85.1 232.1 87.8 232.3 90.5 232.6 93.1 232.8 95.7 233.0 98.3 233.2 100.9 233.4 103.5 233.6 106.0 233.8 108.6 234.0 111.1 234.3 114.4 234.6 117.6 234.9 120.9 235.2 124.1 235.4 127.3 235.7 130.4 236.0 133.5 236.3 136.6 236.6 139.7 236.8 142.7 237.1 145.7 237.4 148.7 237.7 151.6 238.0 154.5 238.2 157.4 238.5 160.3 238.8 163.1 239.1 166.0 239.4 168.8 239.6 171.6 239.9 174.3 240.2 177.1 240.5 179.8 240.8 182.5 241.0 185.2 241.3 187.8 241.6 190.5 241.9 193.1 242.2 195.7 242.5 198.3 242.7 200.9 243.0 203.5 243.3 206.1 243.6 208.7 243.9 211.2 244.1 213.8 244.4 216.3 244.7 218.9 245.0 221.4 245.3 224.0 245.5 226.5 245.8 229.1 246.1 231.6 246.4 234.1 246.7 236.7 246.9 239.2 247.2 241.8 247.5 244.3 247.8 246.8 248.1 249.3 248.3 251.8 248.6 254.3 249.0 257.4 249.3 260.5 249.7 263.6 250.0 266.6 250.4 269.6 250.7 272.6 251.1 275.6 251.4 278.5 251.8 281.4 252.1 284.3 252.5 287.1 252.8 289.9 253.2 292.6 253.5 295.3 253.9 297.9 254.2 300.5 254.6 303.0 255.0 306.0 255.4 308.8 255.9 311.7 256.3 314.5 256.7 317.2 257.1 319.9 257.5 322.6 258.0 325.2 258.4 327.7 258.8 330.3 259.2 332.7 259.7 335.6 260.2 338.4 260.7 341.1 261.2 343.8 261.7 346.4 262.2 349.0 262.7 351.6 263.2 354.1 263.6 356.6 264.1 359.1 264.6 361.6 265.1 364.1 265.6 366.6 266.1 369.0 266.6 371.5 267.1 373.9 267.6 376.7 268.2 379.5 268.8 382.3 269.3 385.1 269.9 387.8 270.5 390.6 271.0 393.3 271.6 396.1 272.1 398.8 272.7 401.6 273.3 404.3 273.8 407.0 274.4 409.7 274.9 412.4 275.5 415.1 276.1 417.8 276.6 420.4 277.2 423.1 277.8 425.7 278.3 428.3 278.9 430.9 279.4 433.5 280.0 436.1 280.6 438.7 281.1 441.3 281.7 443.8 282.2 446.4 282.8 448.9 283.4 451.5 283.9 454.0 284.5 456.5 285.1 459.0 285.6 461.5 286.2 464.0 286.7 466.5 287.3 468.9 287.9 471.4 288.5 474.1 289.1 476.8 289.8 479.5 290.4 482.2 291.0 484.9 291.7 487.6 292.3 490.3 292.9 492.9 293.5 495.6 294.2 498.1 294.8 500.6 295.5 503.2 296.2 505.7 297.0 508.2 297.8 510.6 298.6 513.2 299.4 515.7 300.3 518.0 301.2 520.5 302.1 523.0 303.0 525.4 303.9 527.8 304.8 530.1 305.8 532.4 306.7 534.8 307.6 537.2 308.5 539.5 309.4 541.9 310.3 544.3 311.2 546.6 312.2 549.1 313.2 551.5 314.2 553.8 315.2 556.2 316.3 558.5 317.4 560.8 318.5 563.1 319.7 565.4 320.9 567.7 322.0 570.0 323.3 572.3 324.6 574.5 325.8 576.7 327.2 578.9 328.6 581.1 330.0 583.2 331.5 585.3 333.1 587.4 334.6 589.4 336.2 591.4 337.9 593.3 339.7 595.1 341.6 596.8 343.5 598.4 345.6 599.9 347.7 601.3 349.8 602.7 351.9 604.0 354.2 605.2 356.4 606.3 358.8 607.3 361.1 608.2 363.5 609.0 365.9 609.8 368.3 610.6 370.8 611.3 373.2 612.0 375.7 612.6 378.1 613.0 380.7 613.4 383.2 613.6 385.7 613.7 388.2 613.8 390.8 613.9 393.3 614.0 395.8 614.1 398.3 614.2 400.9 614.3 403.4 614.3 405.9 614.5 408.4 614.7 411.0 614.9 413.5 615.1 416.0 615.4 418.6 615.8 421.0 616.4 423.5 617.1 425.9 618.0 428.2 619.0 430.5 620.1 432.7 621.2 435.0 622.4 437.2 623.6 439.4 625.0 441.4 626.5 443.4 628.1 445.3 629.7 447.2 631.4 449.0 633.2 450.8 634.9 452.7 636.7 454.5 638.5 456.3 640.3 458.1 642.1 460.0 644.0 461.7 645.8 463.5 647.7 465.2 649.5 466.8 651.4 468.5 653.4 470.1 655.3 471.8 657.3 473.3 659.3 474.8 661.4 476.3 663.4 477.8 665.5 479.3 667.6 480.7 669.8 482.1 671.8 483.5 673.9 484.9 676.0 486.4 678.1 487.8 680.2 489.3 682.4 490.8 684.5 492.2 686.6 493.7 688.8 495.2 690.9 496.7 693.1 498.1 695.2 499.5 697.3 500.9 699.5 502.3 701.7 503.6 703.9 505.0 706.1 506.2 708.2 507.5 710.5 508.7 712.7 510.0 715.0 511.2 717.2 512.4 719.5 513.6 721.7 514.8 724.0 516.0 726.4 517.2 728.7 518.3 731.0 519.4 733.3 520.5 735.7 521.6 738.0 522.6 740.3 523.7 742.6 524.7 744.8 525.9 747.2 527.0 749.6 528.1 751.9 529.2 754.2 530.4 756.5 531.5 758.8 532.6 761.0 533.7 763.3 534.9 765.6 536.1 767.9 537.3 770.2 538.5 772.4 539.8 774.7 541.0 776.9 542.4 779.1 543.7 781.3 545.0 783.5 546.4 785.6 547.8 787.8 549.2 790.0 550.6 792.1 552.0 794.3 553.4 796.4 554.8 798.5 556.2 800.6 557.6 802.7 559.0 804.8 560.4 806.9 561.9 809.0 563.3 811.1 564.9 813.1 566.5 815.0 568.2 816.9 569.9 818.8 571.7 820.7 573.5 822.5 575.4 824.3 577.2 826.1 579.0 827.8 580.8 829.6 582.6 831.3 584.5 833.1 586.5 834.7 588.5 836.3 590.7 837.6 592.8 838.9 595.1 840.1 597.3 841.2 599.6 842.3 601.9 843.4 604.1 844.5 606.4 845.7 608.8 846.7 611.1 847.7 613.5 848.7 615.8 849.6 618.2 850.5 620.6 851.3 623.1 852.0 625.5 852.6 628.0 853.1 630.5 853.5 633.0 853.9 635.6 854.3 638.1 854.7 640.6 855.2 643.2 855.6 645.7 856.1 648.2 856.5 650.7 856.9 653.3 857.3 655.8 857.7 658.3 858.1 660.8 858.6 663.4 859.0 665.9 859.3 668.4 859.5 670.9 859.7 673.5 859.9 676.0 860.1 678.5 860.2 681.1 860.4 683.6 860.5 686.1 860.6 688.6 860.8 691.2 860.9 693.7 861.1 696.2 861.2 698.7 861.4 701.3 861.5 703.8 861.6 706.3 861.8 708.8 861.9 711.4 862.1 713.9 862.2 716.4 862.3 719.0 862.4 721.5 862.6 724.0 862.7 726.5 862.9 729.1 863.0 731.6 863.1 734.1 863.3 736.6 863.4 739.2 863.6 741.7 863.7 744.2 863.8 746.7 863.9 749.3 864.1 751.8 864.2 754.3 864.3 756.9 864.4 759.4 864.5 761.9 864.6 764.4 864.8 767.0 864.9 769.5 865.3 772.0 865.7 774.5 865.9 777.1 866.0 779.6 866.1 782.1 866.3 784.6 866.4 787.2 866.6 789.7 866.7 792.2 866.8 794.8 867.0 797.3 867.1 799.8 867.3 802.3 867.4 804.9 867.6 807.4 867.7 809.9 867.9 812.4 868.0 815.0 868.2 817.5 868.4 820.0 868.5 822.6 868.7 825.1 868.8 827.6 869.0 830.1 869.2 832.7 869.3 835.2 869.5 837.7 869.7 840.2 869.8 842.8 870.0 845.3 870.2 847.8 870.3 850.3 870.5 852.9 870.7 855.4 870.9 857.9 871.0 860.5 871.2 863.0 871.4 865.5 871.5 868.0 871.7 870.6 871.9 873.1 872.0 875.6 872.2 878.1 872.4 880.7 872.6 883.2 872.7 885.7 872.9 888.2 873.1 890.8 873.2 893.3 873.4 895.8 873.5 898.4 873.7 900.9 873.8 903.4 873.9 905.9 874.1 908.5 874.2 911.0 874.3 913.5 874.4 916.0 874.6 918.6 874.7 921.1 874.8 923.6 874.9 926.1 875.0 928.7 875.1 931.2 875.2 933.7 875.4 936.3 875.5 938.8 875.6 941.3 875.7 943.8 875.8 946.4 875.9 948.9 876.0 951.4 876.2 953.9 876.3 956.5 876.4 959.0 876.5 961.5 876.6 964.0 876.7 966.6 876.8 969.1 876.9 971.6 876.9 974.2 877.0 976.7 877.1 979.2 877.2 981.7 877.3 984.3 877.4 986.8 877.4 989.3 877.5 991.8 877.6 994.4 877.6 996.9 877.7 999.4 877.8 1001.9 877.8 1004.5 877.9 1007.0 877.9 1009.5 878.0 1012.1 878.0 1014.6 878.1 1017.1 878.1 1019.6 878.1 1022.2 878.2 1024.7 878.2 1027.2 878.2 1029.7 878.3 1032.3 878.3 1034.8 878.3 1037.3 878.4 1039.9 878.4 1042.4 878.4 1044.9 878.4 1047.4 878.5 1050.0 878.5 1052.5 878.5 1055.0 878.5 1057.5 878.5 1060.1 878.5 1062.6 878.6 1065.1 878.6 1067.6 878.6 1070.2 878.6 1072.7 878.6 1075.2 878.7 1077.8 878.7 1080.3 878.7 1082.8 878.7 1085.3 878.7 1087.9 878.7 1090.4 878.7 1092.9 878.7 1095.4 878.7 1098.0 878.7 1100.5 878.7 1103.0 878.7 1105.5 878.7 1108.1 878.7 1110.6 878.7 1113.1 878.7 1115.7 878.7 1118.2 878.7 1120.7 878.7 1123.2 878.7 1125.8 878.7 1128.3 878.8 1130.8 878.8 1133.3 878.8 1135.9 878.8 1138.4 878.8 1140.9 878.8 1143.4 878.8 1146.0 878.8 1148.5 878.8 1151.0 878.8 1153.6 878.8 1156.1 878.8 1158.6 878.8 1161.1 878.8 1163.7 878.8 1166.2 878.8 1168.7 878.8 1171.2 878.8 1173.8 878.8 1176.3 878.8 1178.8 878.8 1181.3 878.8 1183.9 878.8 1186.4 878.8 1188.9 878.8 1191.5 878.8 1194.0 878.8 1196.5 878.8 1199.0 878.8 1201.6 878.8 1204.1 878.8 1206.6 878.8 1209.1 878.8 1211.7 878.8 1214.2 878.8 1216.7 878.9 1219.3 878.9 1221.8 878.9 1224.3 878.9 1226.8 878.9 1229.4 878.9 1231.9 878.9 1234.4 878.9 1236.9 878.9 1239.5 878.9 1242.0 878.9 1244.5 878.9 1247.0 878.9 1249.6 878.9 1252.1 878.9 1254.6 878.9 1257.2 878.9 1259.7 878.9 1262.2 878.9 1264.7 878.9 1267.3 878.9 1269.8 878.9 1272.3 878.9 1274.8 878.9 1277.4 878.9 1279.9 878.9 1282.4 878.9 1284.9 878.9 1287.5 878.9 1290.0 878.9 1292.5 878.9 1294.0 878.9" stroke="#ff00ff" stroke-width="3.6"/>
<path d="M227.4 27.6L227.6 30.6 227.8 33.5 228.0 36.5 228.2 39.5 228.4 42.5 228.6 45.5 228.8 48.5 229.0 51.5 229.3 54.5 229.5 57.5 229.7 60.4 229.9 63.4 230.1 66.4 230.3 69.4 230.5 72.4 230.7 75.5 230.9 78.6 231.2 81.7 231.4 84.8 231.6 87.8 231.8 90.8 232.0 93.5 232.2 96.2 232.4 98.9 232.6 101.5 232.8 104.1 233.0 106.6 233.3 109.2 233.5 111.7 233.7 114.3 233.9 116.8 234.2 120.1 234.4 123.3 234.7 126.6 235.0 129.8 235.3 132.9 235.6 136.1 235.9 139.2 236.1 142.3 236.4 145.3 236.7 148.3 237.0 151.3 237.3 154.3 237.5 157.2 237.8 160.2 238.1 163.1 238.4 165.9 238.7 168.8 238.9 171.6 239.2 174.4 239.5 177.1 239.8 179.9 240.1 182.6 240.3 185.3 240.6 188.0 240.9 190.7 241.2 193.3 241.5 196.0 241.7 198.6 242.0 201.2 242.3 203.8 242.6 206.3 242.9 208.9 243.2 211.5 243.4 214.0 243.7 216.5 244.0 219.1 244.3 221.6 244.6 224.1 244.8 226.6 245.1 229.1 245.4 231.6 245.7 234.2 246.0 236.7 246.2 239.2 246.5 241.7 246.8 244.2 247.1 246.7 247.4 249.2 247.6 251.7 247.9 254.2 248.3 257.3 248.6 260.4 249.0 263.4 249.3 266.5 249.7 269.5 250.0 272.6 250.4 275.6 250.7 278.5 251.1 281.5 251.4 284.4 251.8 287.3 252.1 290.2 252.5 293.1 252.8 295.9 253.2 298.6 253.5 301.3 253.9 304.0 254.2 306.6 254.6 309.2 254.9 311.7 255.4 314.6 255.8 317.5 256.2 320.4 256.6 323.2 257.0 326.0 257.5 328.7 257.9 331.4 258.3 334.0 258.7 336.6 259.2 339.1 259.6 341.6 260.1 344.5 260.6 347.3 261.1 350.0 261.5 352.7 262.0 355.4 262.5 358.0 263.0 360.6 263.5 363.2 264.0 365.7 264.5 368.3 265.0 370.8 265.5 373.4 266.0 375.9 266.5 378.4 266.9 381.0 267.4 383.5 267.9 386.0 268.4 388.5 268.9 391.0 269.4 393.4 269.9 395.9 270.5 398.7 271.0 401.5 271.6 404.2 272.1 407.0 272.7 409.7 273.3 412.5 273.8 415.2 274.4 417.9 274.9 420.6 275.5 423.2 276.1 425.9 276.6 428.5 277.2 431.2 277.8 433.8 278.3 436.4 278.9 439.0 279.4 441.6 280.0 444.1 280.6 446.7 281.1 449.2 281.7 451.8 282.2 454.3 282.8 456.8 283.4 459.3 283.9 461.9 284.5 464.4 285.1 466.8 285.6 469.3 286.2 471.8 286.7 474.2 287.3 476.7 287.9 479.4 288.6 482.1 289.2 484.8 289.8 487.5 290.5 490.1 291.1 492.8 291.7 495.5 292.4 498.2 293.0 500.8 293.6 503.4 294.2 505.9 294.9 508.4 295.6 511.0 296.3 513.4 297.1 515.9 297.8 518.4 298.7 520.9 299.5 523.4 300.4 525.8 301.3 528.3 302.2 530.8 303.1 533.2 304.0 535.6 304.9 537.9 305.8 540.3 306.7 542.6 307.7 545.0 308.6 547.3 309.5 549.7 310.4 552.0 311.4 554.5 312.4 556.9 313.3 559.3 314.4 561.8 315.4 564.1 316.6 566.5 317.7 568.8 318.8 571.1 320.0 573.4 321.2 575.7 322.4 577.9 323.7 580.2 324.9 582.4 326.3 584.6 327.6 586.7 329.0 588.9 330.5 591.0 331.9 593.0 333.5 595.1 335.1 597.1 336.8 599.1 338.5 601.0 340.4 602.8 342.3 604.4 344.4 606.0 346.4 607.4 348.5 608.8 350.7 610.2 352.9 611.4 355.1 612.6 357.4 613.7 359.8 614.6 362.2 615.5 364.6 616.2 367.0 617.0 369.4 617.8 371.9 618.5 374.3 619.1 376.8 619.7 379.3 620.1 381.8 620.4 384.4 620.6 386.9 620.7 389.4 620.8 392.0 621.0 394.5 621.1 397.0 621.2 399.5 621.3 402.1 621.4 404.6 621.5 407.1 621.7 409.6 621.9 412.2 622.2 414.7 622.5 417.2 622.8 419.7 623.3 422.1 624.0 424.5 624.8 426.9 625.8 429.2 626.8 431.5 627.9 433.8 629.0 436.0 630.2 438.2 631.5 440.3 632.9 442.3 634.4 444.3 636.0 446.2 637.7 448.1 639.4 449.9 641.1 451.7 642.9 453.6 644.6 455.4 646.4 457.2 648.1 459.0 649.9 460.9 651.8 462.6 653.6 464.4 655.5 466.1 657.4 467.8 659.3 469.5 661.2 471.1 663.1 472.7 665.1 474.3 667.1 475.8 669.2 477.4 671.3 478.8 673.3 480.3 675.4 481.8 677.5 483.3 679.6 484.7 681.7 486.2 683.9 487.7 686.0 489.2 688.0 490.6 690.1 492.1 692.2 493.6 694.2 495.1 696.3 496.5 698.4 498.0 700.6 499.5 702.7 500.9 704.8 502.3 707.0 503.7 709.2 505.0 711.4 506.4 713.6 507.7 715.9 509.0 718.1 510.2 720.3 511.5 722.6 512.7 724.9 513.9 727.1 515.1 729.3 516.3 731.5 517.5 733.8 518.7 736.2 519.8 738.4 521.0 740.7 522.1 743.1 523.2 745.4 524.3 747.8 525.4 750.1 526.6 752.4 527.7 754.7 528.9 757.0 530.1 759.4 531.3 761.7 532.5 764.0 533.7 766.3 534.9 768.6 536.0 770.8 537.3 773.1 538.6 775.4 539.8 777.5 541.2 779.8 542.5 782.0 543.8 784.1 545.2 786.3 546.6 788.4 548.0 790.6 549.5 792.7 550.9 794.8 552.4 797.0 553.9 799.1 555.3 801.2 556.8 803.4 558.3 805.5 559.8 807.7 561.2 809.7 562.8 811.8 564.3 813.8 565.9 815.7 567.6 817.6 569.4 819.5 571.1 821.3 573.0 823.2 574.8 824.9 576.6 826.6 578.4 828.3 580.3 830.1 582.2 831.8 584.1 833.5 586.0 835.2 588.1 836.7 590.2 838.1 592.3 839.3 594.6 840.5 596.8 841.6 599.1 842.7 601.5 843.8 603.8 844.9 606.1 846.0 608.4 847.1 610.7 848.0 613.1 849.0 615.5 849.9 617.9 850.7 620.3 851.5 622.7 852.2 625.2 852.8 627.6 853.3 630.2 853.7 632.7 854.1 635.2 854.5 637.7 854.9 640.3 855.3 642.8 855.7 645.3 856.1 647.9 856.6 650.4 857.0 652.9 857.3 655.4 857.7 658.0 858.1 660.5 858.5 663.0 858.8 665.5 859.0 668.1 859.3 670.6 859.4 673.1 859.6 675.6 859.7 678.2 859.9 680.7 860.0 683.2 860.1 685.8 860.2 688.3 860.4 690.8 860.5 693.3 860.6 695.9 860.7 698.4 860.9 700.9 861.0 703.4 861.1 706.0 861.2 708.5 861.4 711.0 861.5 713.5 861.6 716.1 861.7 718.6 861.9 721.1 862.0 723.7 862.1 726.2 862.2 728.7 862.4 731.2 862.5 733.8 862.6 736.3 862.7 738.8 862.9 741.3 863.0 743.9 863.1 746.4 863.2 748.9 863.4 751.5 863.5 754.0 863.6 756.5 863.7 759.0 863.8 761.6 864.0 764.1 864.1 766.6 864.2 769.1 864.6 771.7 865.0 774.2 865.2 776.7 865.3 779.2 865.4 781.8 865.6 784.3 865.7 786.8 865.9 789.4 866.0 791.9 866.2 794.4 866.3 796.9 866.5 799.5 866.6 802.0 866.8 804.5 866.9 807.0 867.1 809.6 867.2 812.1 867.4 814.6 867.6 817.1 867.7 819.7 867.9 822.2 868.0 824.7 868.2 827.3 868.4 829.8 868.5 832.3 868.7 834.8 868.9 837.4 869.1 839.9 869.2 842.4 869.4 844.9 869.6 847.5 869.8 850.0 869.9 852.5 870.1 855.0 870.3 857.6 870.5 860.1 870.7 862.6 870.8 865.2 871.0 867.7 871.2 870.2 871.3 872.7 871.5 875.3 871.7 877.8 871.9 880.3 872.0 882.8 872.2 885.4 872.4 887.9 872.6 890.4 872.7 892.9 872.9 895.5 873.0 898.0 873.2 900.5 873.3 903.1 873.4 905.6 873.6 908.1 873.7 910.6 873.8 913.2 874.0 915.7 874.1 918.2 874.2 920.7 874.3 923.3 874.4 925.8 874.5 928.3 874.7 930.8 874.8 933.4 874.9 935.9 875.0 938.4 875.1 941.0 875.3 943.5 875.4 946.0 875.5 948.5 875.6 951.1 875.7 953.6 875.8 956.1 876.0 958.6 876.1 961.2 876.2 963.7 876.3 966.2 876.4 968.8 876.5 971.3 876.6 973.8 876.6 976.3 876.7 978.9 876.8 981.4 876.9 983.9 877.0 986.4 877.1 989.0 877.2 991.5 877.2 994.0 877.3 996.5 877.4 999.1 877.4 1001.6 877.5 1004.1 877.6 1006.7 877.6 1009.2 877.7 1011.7 877.7 1014.2 877.8 1016.8 877.8 1019.3 877.9 1021.8 877.9 1024.3 878.0 1026.9 878.0 1029.4 878.0 1031.9 878.1 1034.4 878.1 1037.0 878.1 1039.5 878.2 1042.0 878.2 1044.6 878.2 1047.1 878.2 1049.6 878.3 1052.1 878.3 1054.7 878.3 1057.2 878.3 1059.7 878.3 1062.2 878.4 1064.8 878.4 1067.3 878.4 1069.8 878.4 1072.3 878.4 1074.9 878.5 1077.4 878.5 1079.9 878.5 1082.5 878.5 1085.0 878.5 1087.5 878.5 1090.0 878.5 1092.6 878.5 1095.1 878.5 1097.6 878.5 1100.1 878.5 1102.7 878.5 1105.2 878.5 1107.7 878.6 1110.2 878.6 1112.8 878.6 1115.3 878.6 1117.8 878.6 1120.4 878.6 1122.9 878.6 1125.4 878.6 1127.9 878.6 1130.5 878.6 1133.0 878.6 1135.5 878.6 1138.0 878.6 1140.6 878.6 1143.1 878.6 1145.6 878.6 1148.2 878.7 1150.7 878.7 1153.2 878.7 1155.7 878.7 1158.3 878.7 1160.8 878.7 1163.3 878.7 1165.8 878.7 1168.4 878.7 1170.9 878.7 1173.4 878.7 1175.9 878.7 1178.5 878.7 1181.0 878.7 1183.5 878.7 1186.1 878.7 1188.6 878.7 1191.1 878.7 1193.6 878.7 1196.2 878.7 1198.7 878.8 1201.2 878.8 1203.7 878.8 1206.3 878.8 1208.8 878.8 1211.3 878.8 1213.8 878.8 1216.4 878.8 1218.9 878.8 1221.4 878.8 1224.0 878.8 1226.5 878.8 1229.0 878.8 1231.5 878.8 1234.1 878.8 1236.6 878.8 1239.1 878.8 1241.6 878.8 1244.2 878.8 1246.7 878.8 1249.2 878.8 1251.7 878.8 1254.3 878.8 1256.8 878.8 1259.3 878.8 1261.9 878.8 1264.4 878.8 1266.9 878.8 1269.4 878.8 1272.0 878.8 1274.5 878.8 1277.0 878.8 1279.5 878.8 1282.1 878.8 1284.6 878.8 1287.1 878.8 1289.6 878.8 1292.2 878.8 1294.0 878.8" stroke="#808000" stroke-width="3.6"/>
<path d="M227.4 27.6L227.6 30.6 227.8 33.5 228.0 36.5 228.2 39.5 228.4 42.5 228.6 45.5 228.8 48.5 229.0 51.5 229.3 54.5 229.5 57.5 229.7 60.4 229.9 63.4 230.1 66.4 230.3 69.4 230.5 72.4 230.7 75.5 230.9 78.6 231.2 81.7 231.4 84.8 231.6 87.8 231.8 90.8 232.0 93.5 232.2 96.2 232.4 98.9 232.6 101.5 232.8 104.1 233.0 106.6 233.3 109.2 233.5 111.7 233.7 114.3 233.9 116.8 234.2 120.1 234.4 123.3 234.7 126.6 235.0 129.8 235.3 132.9 235.6 136.1 235.9 139.2 236.1 142.3 236.4 145.3 236.7 148.3 237.0 151.3 237.3 154.3 237.5 157.2 237.8 160.2 238.1 163.1 238.4 165.9 238.7 168.8 238.9 171.6 239.2 174.4 239.5 177.1 239.8 179.9 240.1 182.6 240.3 185.3 240.6 188.0 240.9 190.7 241.2 193.3 241.5 196.0 241.7 198.6 242.0 201.2 242.3 203.8 242.6 206.3 242.9 208.9 243.2 211.5 243.4 214.0 243.7 216.5 244.0 219.1 244.3 221.6 244.6 224.1 244.8 226.6 245.1 229.1 245.4 231.6 245.7 234.2 246.0 236.7 246.2 239.2 246.5 241.7 246.8 244.2 247.1 246.7 247.4 249.2 247.6 251.7 247.9 254.2 248.3 257.3 248.6 260.4 249.0 263.4 249.3 266.5 249.7 269.5 250.0 272.6 250.4 275.6 250.7 278.5 251.1 281.5 251.4 284.4 251.8 287.3 252.1 290.2 252.5 293.1 252.8 295.9 253.2 298.6 253.5 301.3 253.9 304.0 254.2 306.6 254.6 309.2 254.9 311.7 255.4 314.6 255.8 317.5 256.2 320.4 256.6 323.2 257.0 326.0 257.5 328.7 257.9 331.4 258.3 334.0 258.7 336.6 259.2 339.1 259.6 341.6 260.1 344.5 260.6 347.3 261.1 350.0 261.5 352.7 262.0 355.4 262.5 358.0 263.0 360.6 263.5 363.2 264.0 365.7 264.5 368.3 265.0 370.8 265.5 373.4 266.0 375.9 266.5 378.4 266.9 381.0 267.4 383.5 267.9 386.0 268.4 388.5 268.9 391.0 269.4 393.4 269.9 395.9 270.5 398.7 271.0 401.5 271.6 404.2 272.1 407.0 272.7 409.7 273.3 412.5 273.8 415.2 274.4 417.9 274.9 420.6 275.5 423.2 276.1 425.9 276.6 428.5 277.2 431.2 277.8 433.8 278.3 436.4 278.9 439.0 279.4 441.6 280.0 444.1 280.6 446.7 281.1 449.2 281.7 451.8 282.2 454.3 282.8 456.8 283.4 459.3 283.9 461.9 284.5 464.4 285.1 466.8 285.6 469.3 286.2 471.8 286.7 474.2 287.3 476.7 287.9 479.4 288.6 482.1 289.2 484.8 289.8 487.5 290.5 490.1 291.1 492.8 291.7 495.5 292.4 498.2 293.0 500.8 293.6 503.4 294.2 505.9 294.9 508.4 295.6 511.0 296.3 513.4 297.1 515.9 297.8 518.4 298.7 520.9 299.5 523.4 300.4 525.8 301.3 528.3 302.2 530.8 303.1 533.2 304.0 535.6 304.9 537.9 305.8 540.3 306.7 542.6 307.7 545.0 308.6 547.3 309.5 549.7 310.4 552.0 311.4 554.5 312.4 556.9 313.3 559.3 314.4 561.8 315.4 564.1 316.6 566.5 317.7 568.8 318.8 571.1 320.0 573.4 321.2 575.7 322.4 577.9 323.7 580.2 324.9 582.4 326.3 584.6 327.6 586.7 329.0 588.9 330.5 591.0 331.9 593.0 333.5 595.1 335.1 597.1 336.8 599.1 338.5 601.0 340.4 602.8 342.3 604.4 344.4 606.0 346.4 607.4 348.5 608.8 350.7 610.2 352.9 611.4 355.1 612.6 357.4 613.7 359.8 614.6 362.2 615.5 364.6 616.2 367.0 617.0 369.4 617.8 371.9 618.5 374.3 619.1 376.8 619.7 379.3 620.1 381.8 620.4 384.4 620.6 386.9 620.7 389.4 620.8 392.0 621.0 394.5 621.1 397.0 621.2 399.5 621.3 402.1 621.4 404.6 621.5 407.1 621.7 409.6 621.9 412.2 622.2 414.7 622.5 417.2 622.8 419.7 623.3 422.1 624.0 424.5 624.8 426.9 625.8 429.2 626.8 431.5 627.9 433.8 629.0 436.0 630.2 438.2 631.5 440.3 632.9 442.3 634.4 444.3 636.0 446.2 637.7 448.1 639.4 449.9 641.1 451.7 642.9 453.6 644.6 455.4 646.4 457.2 648.1 459.0 649.9 460.9 651.8 462.6 653.6 464.4 655.5 466.1 657.4 467.8 659.3 469.5 661.2 471.1 663.1 472.7 665.1 474.3 667.1 475.8 669.2 477.4 671.3 478.8 673.3 480.3 675.4 481.8 677.5 483.3 679.6 484.7 681.7 486.2 683.9 487.7 686.0 489.2 688.0 490.6 690.1 492.1 692.2 493.6 694.2 495.1 696.3 496.5 698.4 498.0 700.6 499.5 702.7 500.9 704.8 502.3 707.0 503.7 709.2 505.0 711.4 506.4 713.6 507.7 715.9 509.0 718.1 510.2 720.3 511.5 722.6 512.7 724.9 513.9 727.1 515.1 729.3 516.3 731.5 517.5 733.8 518.7 736.2 519.8 738.4 521.0 740.7 522.1 743.1 523.2 745.4 524.3 747.8 525.4 750.1 526.6 752.4 527.7 754.7 528.9 757.0 530.1 759.4 531.3 761.7 532.5 764.0 533.7 766.3 534.9 768.6 536.0 770.8 537.3 773.1 538.6 775.4 539.8 777.5 541.2 779.8 542.5 782.0 543.8 784.1 545.2 786.3 546.6 788.4 548.0 790.6 549.5 792.7 550.9 794.8 552.4 797.0 553.9 799.1 555.3 801.2 556.8 803.4 558.3 805.5 559.8 807.7 561.2 809.7 562.8 811.8 564.3 813.8 565.9 815.7 567.6 817.6 569.4 819.5 571.1 821.3 573.0 823.2 574.8 824.9 576.6 826.6 578.4 828.3 580.3 830.1 582.2 831.8 584.1 833.5 586.0 835.2 588.1 836.7 590.2 838.1 592.3 839.3 594.6 840.5 596.8 841.6 599.1 842.7 601.5 843.8 603.8 844.9 606.1 846.0 608.4 847.1 610.7 848.0 613.1 849.0 615.5 849.9 617.9 850.7 620.3 851.5 622.7 852.2 625.2 852.8 627.6 853.3 630.2 853.7 632.7 854.1 635.2 854.5 637.7 854.9 640.3 855.3 642.8 855.7 645.3 856.1 647.9 856.6 650.4 857.0 652.9 857.3 655.4 857.7 658.0 858.1 660.5 858.5 663.0 858.8 665.5 859.0 668.1 859.3 670.6 859.4 673.1 859.6 675.6 859.7 678.2 859.9 680.7 860.0 683.2 860.1 685.8 860.2 688.3 860.4 690.8 860.5 693.3 860.6 695.9 860.7 698.4 860.9 700.9 861.0 703.4 861.1 706.0 861.2 708.5 861.4 711.0 861.5 713.5 861.6 716.1 861.7 718.6 861.9 721.1 862.0 723.7 862.1 726.2 862.2 728.7 862.4 731.2 862.5 733.8 862.6 736.3 862.7 738.8 862.9 741.3 863.0 743.9 863.1 746.4 863.2 748.9 863.4 751.5 863.5 754.0 863.6 756.5 863.7 759.0 863.8 761.6 864.0 764.1 864.1 766.6 864.2 769.1 864.6 771.7 865.0 774.2 865.2 776.7 865.3 779.2 865.4 781.8 865.6 784.3 865.7 786.8 865.9 789.4 866.0 791.9 866.2 794.4 866.3 796.9 866.5 799.5 866.6 802.0 866.8 804.5 866.9 807.0 867.1 809.6 867.2 812.1 867.4 814.6 867.6 817.1 867.7 819.7 867.9 822.2 868.0 824.7 868.2 827.3 868.4 829.8 868.5 832.3 868.7 834.8 868.9 837.4 869.1 839.9 869.2 842.4 869.4 844.9 869.6 847.5 869.8 850.0 869.9 852.5 870.1 855.0 870.3 857.6 870.5 860.1 870.7 862.6 870.8 865.2 871.0 867.7 871.2 870.2 871.3 872.7 871.5 875.3 871.7 877.8 871.9 880.3 872.0 882.8 872.2 885.4 872.4 887.9 872.6 890.4 872.7 892.9 872.9 895.5 873.0 898.0 873.2 900.5 873.3 903.1 873.4 905.6 873.6 908.1 873.7 910.6 873.8 913.2 874.0 915.7 874.1 918.2 874.2 920.7 874.3 923.3 874.4 925.8 874.5 928.3 874.7 930.8 874.8 933.4 874.9 935.9 875.0 938.4 875.1 941.0 875.3 943.5 875.4 946.0 875.5 948.5 875.6 951.1 875.7 953.6 875.8 956.1 876.0 958.6 876.1 961.2 876.2 963.7 876.3 966.2 876.4 968.8 876.5 971.3 876.6 973.8 876.6 976.3 876.7 978.9 876.8 981.4 876.9 983.9 877.0 986.4 877.1 989.0 877.2 991.5 877.2 994.0 877.3 996.5 877.4 999.1 877.4 1001.6 877.5 1004.1 877.6 1006.7 877.6 1009.2 877.7 1011.7 877.7 1014.2 877.8 1016.8 877.8 1019.3 877.9 1021.8 877.9 1024.3 878.0 1026.9 878.0 1029.4 878.0 1031.9 878.1 1034.4 878.1 1037.0 878.1 1039.5 878.2 1042.0 878.2 1044.6 878.2 1047.1 878.2 1049.6 878.3 1052.1 878.3 1054.7 878.3 1057.2 878.3 1059.7 878.3 1062.2 878.4 1064.8 878.4 1067.3 878.4 1069.8 878.4 1072.3 878.4 1074.9 878.5 1077.4 878.5 1079.9 878.5 1082.5 878.5 1085.0 878.5 1087.5 878.5 1090.0 878.5 1092.6 878.5 1095.1 878.5 1097.6 878.5 1100.1 878.5 1102.7 878.5 1105.2 878.5 1107.7 878.6 1110.2 878.6 1112.8 878.6 1115.3 878.6 1117.8 878.6 1120.4 878.6 1122.9 878.6 1125.4 878.6 1127.9 878.6 1130.5 878.6 1133.0 878.6 1135.5 878.6 1138.0 878.6 1140.6 878.6 1143.1 878.6 1145.6 878.6 1148.2 878.7 1150.7 878.7 1153.2 878.7 1155.7 878.7 1158.3 878.7 1160.8 878.7 1163.3 878.7 1165.8 878.7 1168.4 878.7 1170.9 878.7 1173.4 878.7 1175.9 878.7 1178.5 878.7 1181.0 878.7 1183.5 878.7 1186.1 878.7 1188.6 878.7 1191.1 878.7 1193.6 878.7 1196.2 878.7 1198.7 878.8 1201.2 878.8 1203.7 878.8 1206.3 878.8 1208.8 878.8 1211.3 878.8 1213.8 878.8 1216.4 878.8 1218.9 878.8 1221.4 878.8 1224.0 878.8 1226.5 878.8 1229.0 878.8 1231.5 878.8 1234.1 878.8 1236.6 878.8 1239.1 878.8 1241.6 878.8 1244.2 878.8 1246.7 878.8 1249.2 878.8 1251.7 878.8 1254.3 878.8 1256.8 878.8 1259.3 878.8 1261.9 878.8 1264.4 878.8 1266.9 878.8 1269.4 878.8 1272.0 878.8 1274.5 878.8 1277.0 878.8 1279.5 878.8 1282.1 878.8 1284.6 878.8 1287.1 878.8 1289.6 878.8 1292.2 878.8 1294.0 878.8" stroke="#111" stroke-width="2.2" stroke-dasharray="1.5 3.5" stroke-linecap="butt"/>
<path d="M224.8 27.2L225.0 30.1 225.2 33.0 225.4 35.9 225.6 38.9 225.8 41.8 226.0 44.7 226.2 47.6 226.4 50.5 226.7 53.4 226.9 56.2 227.1 59.1 227.3 62.0 227.5 64.9 227.7 67.8 227.9 70.7 228.1 73.5 228.3 76.4 228.6 79.3 228.8 82.1 229.0 85.0 229.2 87.8 229.4 90.7 229.6 93.5 229.8 96.4 230.0 99.2 230.2 102.0 230.4 104.9 230.7 107.7 230.9 110.6 231.1 113.6 231.3 116.5 231.5 119.3 231.7 122.1 231.9 124.8 232.1 127.4 232.3 129.9 232.6 132.5 232.8 135.0 233.0 137.5 233.3 140.8 233.5 144.1 233.8 147.3 234.1 150.5 234.4 153.7 234.7 156.9 234.9 160.0 235.2 163.1 235.5 166.1 235.8 169.2 236.1 172.2 236.3 175.2 236.6 178.1 236.9 181.0 237.2 183.9 237.5 186.8 237.7 189.6 238.0 192.5 238.3 195.3 238.6 198.0 238.9 200.8 239.2 203.5 239.4 206.2 239.7 208.9 240.0 211.5 240.3 214.1 240.6 216.7 240.8 219.3 241.1 221.8 241.4 224.3 241.7 226.8 242.0 229.3 242.3 232.4 242.7 235.5 243.0 238.5 243.4 241.6 243.7 244.6 244.1 247.6 244.4 250.6 244.8 253.5 245.1 256.5 245.5 259.5 245.8 262.4 246.2 265.4 246.5 268.4 246.9 271.3 247.2 274.3 247.6 277.3 247.9 280.2 248.3 283.2 248.6 286.2 249.0 289.1 249.3 292.1 249.7 295.0 250.0 298.0 250.4 300.9 250.7 303.9 251.1 306.8 251.4 309.7 251.8 312.7 252.1 315.6 252.5 318.5 252.8 321.4 253.2 324.2 253.5 327.1 253.9 329.9 254.2 332.6 254.6 335.4 254.9 338.1 255.3 340.7 255.6 343.3 256.0 346.0 256.3 348.5 256.7 351.1 257.0 353.6 257.4 356.1 257.8 359.1 258.2 362.0 258.7 364.8 259.1 367.6 259.5 370.4 259.9 373.1 260.3 375.7 260.8 378.3 261.2 380.8 261.6 383.3 262.0 385.8 262.5 388.6 263.0 391.5 263.5 394.3 264.0 397.1 264.5 399.9 265.0 402.7 265.5 405.5 266.0 408.3 266.5 411.1 266.9 413.9 267.4 416.7 267.9 419.4 268.4 422.2 268.9 424.9 269.4 427.5 269.9 430.2 270.4 432.8 270.9 435.3 271.4 437.8 271.9 440.3 272.4 442.7 272.9 445.5 273.5 448.2 274.0 451.0 274.6 453.6 275.2 456.3 275.7 458.9 276.3 461.5 276.8 464.1 277.4 466.7 278.0 469.2 278.5 471.7 279.1 474.2 279.7 476.7 280.2 479.2 280.8 481.6 281.3 484.1 281.9 486.5 282.5 489.3 283.2 492.0 283.8 494.7 284.4 497.5 285.1 500.2 285.7 502.9 286.3 505.6 286.9 508.2 287.6 510.9 288.2 513.5 288.8 516.1 289.5 518.7 290.1 521.3 290.7 523.9 291.4 526.5 292.0 529.0 292.6 531.6 293.3 534.1 293.9 536.6 294.6 539.3 295.3 541.9 296.0 544.3 296.8 546.9 297.5 549.4 298.3 551.8 299.2 554.4 300.0 556.9 300.8 559.3 301.7 561.7 302.6 564.2 303.5 566.7 304.4 569.2 305.3 571.6 306.3 574.0 307.2 576.3 308.1 578.8 309.1 581.2 310.1 583.7 311.1 586.0 312.1 588.3 313.1 590.8 314.2 593.1 315.3 595.5 316.4 597.8 317.6 600.1 318.8 602.4 320.0 604.6 321.3 606.9 322.5 609.1 323.9 611.4 325.2 613.6 326.5 615.7 327.9 617.9 329.4 620.0 330.9 622.1 332.4 624.1 334.0 626.2 335.7 628.1 337.5 630.0 339.3 631.8 341.2 633.4 343.2 635.0 345.3 636.4 347.5 637.8 349.6 639.2 351.9 640.4 354.1 641.6 356.4 642.6 358.8 643.6 361.1 644.4 363.5 645.2 365.9 646.0 368.4 646.7 370.8 647.4 373.3 648.1 375.7 648.7 378.2 649.2 380.7 649.6 383.2 650.0 385.8 650.2 388.3 650.5 390.8 650.7 393.4 650.9 395.9 651.1 398.4 651.4 400.9 651.6 403.5 651.8 406.0 652.1 408.5 652.4 411.0 652.7 413.6 653.1 416.1 653.6 418.6 654.1 421.0 654.8 423.4 655.5 425.8 656.4 428.1 657.4 430.4 658.5 432.7 659.6 435.0 660.7 437.2 661.9 439.4 663.1 441.5 664.5 443.5 666.0 445.6 667.6 447.5 669.2 449.5 670.8 451.4 672.5 453.3 674.1 455.2 675.8 457.1 677.5 459.0 679.2 460.9 680.9 462.7 682.7 464.5 684.4 466.3 686.3 468.1 688.0 469.9 689.9 471.6 691.7 473.3 693.6 475.0 695.5 476.7 697.5 478.3 699.5 479.9 701.4 481.5 703.5 483.1 705.5 484.7 707.5 486.4 709.5 488.0 711.6 489.6 713.6 491.2 715.5 492.8 717.5 494.4 719.5 496.0 721.6 497.7 723.6 499.2 725.6 500.7 727.6 502.3 729.7 503.8 731.8 505.3 733.8 506.8 736.0 508.3 738.1 509.7 740.2 511.1 742.4 512.5 744.5 513.9 746.7 515.3 749.0 516.6 751.1 517.9 753.2 519.3 755.5 520.5 757.7 521.8 759.9 523.1 762.1 524.3 764.3 525.6 766.5 526.9 768.7 528.2 770.9 529.5 773.1 530.9 775.3 532.2 777.5 533.5 779.6 534.9 781.8 536.3 784.0 537.7 786.2 539.1 788.2 540.6 790.4 542.1 792.4 543.6 794.4 545.1 796.5 546.6 798.5 548.2 800.6 549.7 802.5 551.3 804.6 553.0 806.6 554.6 808.5 556.2 810.5 557.8 812.5 559.4 814.4 561.0 816.3 562.7 818.3 564.5 820.2 566.2 822.0 568.1 823.8 569.9 825.5 571.8 827.2 573.7 828.9 575.6 830.5 577.6 832.2 579.6 833.8 581.5 835.4 583.5 836.9 585.5 838.5 587.6 839.9 589.8 841.2 592.1 842.3 594.4 843.4 596.7 844.4 599.0 845.4 601.3 846.4 603.6 847.3 606.0 848.3 608.4 849.2 610.8 850.0 613.2 850.8 615.6 851.5 618.1 852.3 620.6 852.9 623.0 853.5 625.5 853.9 628.1 854.3 630.6 854.7 633.1 855.0 635.6 855.3 638.2 855.6 640.7 856.0 643.2 856.3 645.7 856.6 648.3 857.0 650.8 857.3 653.3 857.5 655.9 857.8 658.4 858.1 660.9 858.3 663.4 858.6 666.0 858.7 668.5 858.9 671.0 859.0 673.5 859.1 676.1 859.2 678.6 859.3 681.1 859.3 683.6 859.4 686.2 859.5 688.7 859.6 691.2 859.7 693.8 859.8 696.3 859.9 698.8 860.0 701.3 860.1 703.9 860.2 706.4 860.3 708.9 860.4 711.4 860.5 714.0 860.6 716.5 860.7 719.0 860.8 721.6 860.9 724.1 861.0 726.6 861.1 729.1 861.2 731.7 861.3 734.2 861.4 736.7 861.5 739.2 861.6 741.8 861.7 744.3 861.8 746.8 861.9 749.3 862.1 751.9 862.2 754.4 862.3 756.9 862.4 759.5 862.6 762.0 862.7 764.5 862.8 767.0 863.0 769.6 863.4 772.1 863.7 774.6 863.8 777.1 864.0 779.7 864.1 782.2 864.3 784.7 864.4 787.2 864.6 789.8 864.7 792.3 864.9 794.8 865.1 797.4 865.2 799.9 865.4 802.4 865.5 804.9 865.7 807.5 865.9 810.0 866.0 812.5 866.2 815.0 866.4 817.6 866.6 820.1 866.7 822.6 866.9 825.1 867.1 827.7 867.3 830.2 867.4 832.7 867.6 835.3 867.8 837.8 868.0 840.3 868.2 842.8 868.4 845.4 868.5 847.9 868.7 850.4 868.9 852.9 869.1 855.5 869.3 858.0 869.5 860.5 869.7 863.0 869.9 865.6 870.1 868.1 870.2 870.6 870.4 873.2 870.6 875.7 870.8 878.2 870.9 880.7 871.1 883.3 871.3 885.8 871.5 888.3 871.6 890.8 871.8 893.4 872.0 895.9 872.1 898.4 872.3 900.9 872.4 903.5 872.5 906.0 872.7 908.5 872.8 911.1 873.0 913.6 873.1 916.1 873.2 918.6 873.3 921.2 873.5 923.7 873.6 926.2 873.7 928.7 873.8 931.3 874.0 933.8 874.1 936.3 874.2 938.9 874.3 941.4 874.5 943.9 874.6 946.4 874.7 949.0 874.8 951.5 875.0 954.0 875.1 956.5 875.2 959.1 875.3 961.6 875.4 964.1 875.5 966.6 875.6 969.2 875.7 971.7 875.8 974.2 875.9 976.8 876.0 979.3 876.1 981.8 876.2 984.3 876.3 986.9 876.4 989.4 876.5 991.9 876.6 994.4 876.7 997.0 876.7 999.5 876.8 1002.0 876.9 1004.5 877.0 1007.1 877.0 1009.6 877.1 1012.1 877.2 1014.7 877.2 1017.2 877.3 1019.7 877.4 1022.2 877.4 1024.8 877.5 1027.3 877.5 1029.8 877.6 1032.3 877.6 1034.9 877.6 1037.4 877.7 1039.9 877.7 1042.4 877.8 1045.0 877.8 1047.5 877.8 1050.0 877.9 1052.6 877.9 1055.1 877.9 1057.6 877.9 1060.1 878.0 1062.7 878.0 1065.2 878.0 1067.7 878.0 1070.2 878.1 1072.8 878.1 1075.3 878.1 1077.8 878.1 1080.3 878.1 1082.9 878.1 1085.4 878.1 1087.9 878.2 1090.5 878.2 1093.0 878.2 1095.5 878.2 1098.0 878.2 1100.6 878.2 1103.1 878.2 1105.6 878.2 1108.1 878.2 1110.7 878.2 1113.2 878.2 1115.7 878.3 1118.3 878.3 1120.8 878.3 1123.3 878.3 1125.8 878.3 1128.4 878.3 1130.9 878.3 1133.4 878.3 1135.9 878.3 1138.5 878.4 1141.0 878.4 1143.5 878.4 1146.0 878.4 1148.6 878.4 1151.1 878.4 1153.6 878.4 1156.2 878.4 1158.7 878.4 1161.2 878.5 1163.7 878.5 1166.3 878.5 1168.8 878.5 1171.3 878.5 1173.8 878.5 1176.4 878.5 1178.9 878.5 1181.4 878.5 1183.9 878.5 1186.5 878.6 1189.0 878.6 1191.5 878.6 1194.1 878.6 1196.6 878.6 1199.1 878.6 1201.6 878.6 1204.2 878.6 1206.7 878.6 1209.2 878.6 1211.7 878.6 1214.3 878.6 1216.8 878.6 1219.3 878.7 1221.8 878.7 1224.4 878.7 1226.9 878.7 1229.4 878.7 1232.0 878.7 1234.5 878.7 1237.0 878.7 1239.5 878.7 1242.1 878.7 1244.6 878.7 1247.1 878.7 1249.6 878.7 1252.2 878.7 1254.7 878.7 1257.2 878.7 1259.7 878.7 1262.3 878.7 1264.8 878.7 1267.3 878.8 1269.9 878.8 1272.4 878.8 1274.9 878.8 1277.4 878.8 1280.0 878.8 1282.5 878.8 1285.0 878.8 1287.5 878.8 1290.1 878.8 1292.6 878.8 1294.0 878.8" stroke="#1c1c9c" stroke-width="3.2"/>
<path d="M222.2 27.2L222.4 30.2 222.6 33.1 222.8 36.0 223.0 38.9 223.2 41.8 223.4 44.7 223.6 47.5 223.9 50.4 224.1 53.3 224.3 56.2 224.5 59.0 224.7 61.9 224.9 64.7 225.1 67.6 225.3 70.4 225.5 73.3 225.7 76.1 226.0 78.9 226.2 81.7 226.4 84.5 226.6 87.4 226.8 90.1 227.0 92.9 227.2 95.7 227.4 98.5 227.6 101.3 227.9 104.0 228.1 106.8 228.3 109.5 228.5 112.3 228.7 115.0 228.9 117.7 229.1 120.5 229.3 123.2 229.5 125.9 229.7 128.6 230.0 131.3 230.2 133.9 230.4 136.6 230.6 139.3 230.8 142.0 231.0 144.7 231.2 147.4 231.4 150.1 231.6 152.8 231.9 155.3 232.1 157.9 232.3 161.1 232.6 164.4 232.9 167.6 233.2 170.8 233.5 174.0 233.7 177.2 234.0 180.3 234.3 183.4 234.6 186.5 234.9 189.5 235.2 192.5 235.4 195.5 235.7 198.5 236.0 201.4 236.3 204.3 236.6 207.2 236.8 210.1 237.1 212.9 237.4 215.7 237.7 218.5 238.0 221.2 238.2 223.9 238.5 226.6 238.8 229.3 239.1 231.9 239.4 234.6 239.6 237.2 239.9 239.7 240.2 242.2 240.5 244.7 240.8 247.8 241.2 250.9 241.5 253.9 241.9 256.9 242.2 259.8 242.6 262.7 242.9 265.6 243.3 268.5 243.6 271.4 244.0 274.2 244.3 277.0 244.7 279.9 245.0 282.7 245.4 285.5 245.7 288.3 246.1 291.1 246.5 293.9 246.8 296.7 247.2 299.5 247.5 302.3 247.9 305.1 248.2 308.0 248.6 310.8 248.9 313.6 249.3 316.5 249.6 319.3 250.0 322.2 250.3 325.1 250.7 328.0 251.0 330.9 251.4 333.9 251.7 336.8 252.1 339.8 252.4 342.7 252.8 345.7 253.1 348.7 253.5 351.6 253.8 354.5 254.2 357.5 254.5 360.4 254.9 363.2 255.2 366.1 255.6 368.9 255.9 371.8 256.3 374.6 256.6 377.3 257.0 380.1 257.3 382.8 257.7 385.5 258.0 388.1 258.4 390.8 258.7 393.3 259.1 395.9 259.4 398.3 259.9 401.3 260.3 404.1 260.7 406.9 261.1 409.7 261.5 412.4 262.0 415.0 262.4 417.7 262.8 420.3 263.2 422.9 263.6 425.5 264.1 428.1 264.5 430.7 264.9 433.3 265.3 435.9 265.8 438.6 266.2 441.2 266.6 443.8 267.0 446.5 267.4 449.1 267.9 451.6 268.3 454.2 268.7 456.7 269.1 459.2 269.6 462.1 270.1 464.8 270.6 467.5 271.1 470.2 271.6 472.7 272.1 475.2 272.6 477.7 273.1 480.5 273.7 483.2 274.2 485.9 274.8 488.6 275.4 491.2 275.9 493.7 276.5 496.3 277.1 498.8 277.6 501.3 278.2 503.7 278.8 506.5 279.4 509.2 280.1 511.9 280.7 514.6 281.3 517.2 282.0 519.9 282.6 522.5 283.2 525.1 283.9 527.8 284.5 530.4 285.1 533.0 285.8 535.6 286.4 538.2 287.0 540.8 287.7 543.4 288.3 545.9 288.9 548.5 289.5 551.0 290.2 553.5 290.8 556.0 291.4 558.4 292.1 560.9 292.7 563.4 293.4 566.1 294.1 568.7 294.8 571.3 295.5 573.8 296.2 576.2 297.0 578.7 297.8 581.2 298.5 583.7 299.4 586.3 300.2 588.8 301.1 591.3 301.9 593.8 302.7 596.2 303.6 598.6 304.5 601.1 305.4 603.6 306.3 606.0 307.2 608.3 308.2 610.8 309.2 613.1 310.3 615.6 311.3 618.0 312.4 620.3 313.5 622.7 314.6 625.0 315.8 627.4 317.0 629.7 318.3 632.0 319.5 634.2 320.8 636.4 322.1 638.7 323.4 640.8 324.8 643.0 326.2 645.2 327.6 647.3 329.1 649.4 330.5 651.4 332.1 653.4 333.7 655.4 335.4 657.3 337.2 659.2 339.1 660.9 341.1 662.5 343.1 664.0 345.2 665.4 347.4 666.8 349.6 668.0 351.8 669.2 354.1 670.3 356.4 671.4 358.8 672.3 361.2 673.1 363.6 673.9 366.1 674.6 368.5 675.3 371.0 676.0 373.4 676.7 375.9 677.3 378.3 677.8 380.8 678.3 383.3 678.7 385.8 679.1 388.4 679.4 390.9 679.8 393.4 680.1 396.0 680.4 398.5 680.8 401.0 681.1 403.5 681.5 406.1 681.8 408.6 682.2 411.1 682.7 413.6 683.2 416.0 683.7 418.5 684.4 420.9 685.1 423.3 685.9 425.7 686.8 428.0 687.8 430.3 688.8 432.7 689.9 435.0 691.0 437.2 692.1 439.5 693.4 441.6 694.7 443.7 696.0 445.9 697.5 447.9 699.0 449.9 700.5 452.0 702.1 453.9 703.7 455.9 705.3 457.9 706.9 459.8 708.5 461.8 710.2 463.7 711.9 465.6 713.5 467.5 715.2 469.4 717.0 471.3 718.7 473.1 720.5 474.9 722.3 476.7 724.1 478.4 725.9 480.2 727.8 481.9 729.6 483.7 731.5 485.4 733.4 487.2 735.3 488.9 737.2 490.7 739.1 492.5 741.0 494.2 742.9 496.0 744.8 497.7 746.7 499.4 748.5 501.1 750.4 502.8 752.4 504.5 754.3 506.1 756.3 507.7 758.2 509.3 760.2 510.9 762.3 512.5 764.3 514.0 766.2 515.6 768.3 517.1 770.3 518.6 772.4 520.1 774.4 521.6 776.5 523.1 778.7 524.5 780.8 526.0 782.8 527.5 784.9 529.0 787.0 530.6 789.0 532.1 791.0 533.7 793.0 535.2 795.0 536.8 797.0 538.4 799.0 540.0 800.9 541.7 802.9 543.4 804.8 545.1 806.7 546.8 808.6 548.5 810.5 550.3 812.3 552.0 814.2 553.8 816.0 555.6 817.8 557.5 819.6 559.3 821.4 561.1 823.1 563.0 824.9 564.9 826.6 566.9 828.3 568.8 829.9 570.8 831.5 572.8 833.1 574.8 834.6 576.8 836.1 578.9 837.6 581.0 839.1 583.1 840.5 585.2 841.9 587.4 843.2 589.7 844.3 592.0 845.4 594.3 846.3 596.7 847.3 599.1 848.1 601.5 849.0 603.8 849.8 606.2 850.6 608.7 851.4 611.1 852.1 613.6 852.7 616.1 853.2 618.5 853.8 621.0 854.3 623.5 854.7 626.0 855.0 628.6 855.3 631.1 855.6 633.6 855.9 636.1 856.1 638.7 856.4 641.2 856.6 643.7 856.9 646.2 857.1 648.8 857.3 651.3 857.5 653.8 857.7 656.3 857.9 658.9 858.1 661.4 858.2 663.9 858.4 666.5 858.5 669.0 858.5 671.5 858.6 674.0 858.7 676.6 858.7 679.1 858.8 681.6 858.8 684.1 858.9 686.7 858.9 689.2 859.0 691.7 859.1 694.2 859.1 696.8 859.2 699.3 859.3 701.8 859.3 704.4 859.4 706.9 859.5 709.4 859.6 711.9 859.6 714.5 859.7 717.0 859.8 719.5 859.9 722.0 860.0 724.6 860.1 727.1 860.1 729.6 860.2 732.1 860.3 734.7 860.4 737.2 860.5 739.7 860.6 742.3 860.7 744.8 860.8 747.3 860.9 749.8 861.0 752.4 861.2 754.9 861.3 757.4 861.4 759.9 861.6 762.5 861.7 765.0 861.8 767.5 862.0 770.1 862.4 772.6 862.7 775.1 862.8 777.6 863.0 780.2 863.1 782.7 863.3 785.2 863.4 787.7 863.6 790.3 863.7 792.8 863.9 795.3 864.1 797.8 864.2 800.4 864.4 802.9 864.6 805.4 864.8 808.0 864.9 810.5 865.1 813.0 865.3 815.5 865.5 818.1 865.6 820.6 865.8 823.1 866.0 825.6 866.2 828.2 866.4 830.7 866.6 833.2 866.8 835.7 866.9 838.3 867.1 840.8 867.3 843.3 867.5 845.9 867.7 848.4 867.9 850.9 868.1 853.4 868.3 856.0 868.5 858.5 868.7 861.0 868.9 863.5 869.1 866.1 869.3 868.6 869.5 871.1 869.7 873.6 869.9 876.2 870.0 878.7 870.2 881.2 870.4 883.8 870.6 886.3 870.7 888.8 870.9 891.3 871.1 893.9 871.2 896.4 871.4 898.9 871.5 901.4 871.7 904.0 871.8 906.5 872.0 909.0 872.1 911.5 872.3 914.1 872.4 916.6 872.5 919.1 872.7 921.7 872.8 924.2 872.9 926.7 873.0 929.2 873.2 931.8 873.3 934.3 873.4 936.8 873.6 939.3 873.7 941.9 873.8 944.4 874.0 946.9 874.1 949.4 874.2 952.0 874.4 954.5 874.5 957.0 874.6 959.6 874.7 962.1 874.8 964.6 874.9 967.1 875.1 969.7 875.2 972.2 875.3 974.7 875.4 977.2 875.5 979.8 875.6 982.3 875.7 984.8 875.8 987.4 875.9 989.9 876.0 992.4 876.1 994.9 876.2 997.5 876.3 1000.0 876.3 1002.5 876.4 1005.0 876.5 1007.6 876.6 1010.1 876.7 1012.6 876.7 1015.1 876.8 1017.7 876.9 1020.2 877.0 1022.7 877.0 1025.3 877.1 1027.8 877.1 1030.3 877.2 1032.8 877.2 1035.4 877.3 1037.9 877.3 1040.4 877.4 1042.9 877.4 1045.5 877.5 1048.0 877.5 1050.5 877.5 1053.0 877.6 1055.6 877.6 1058.1 877.6 1060.6 877.7 1063.2 877.7 1065.7 877.7 1068.2 877.8 1070.7 877.8 1073.3 877.8 1075.8 877.8 1078.3 877.8 1080.8 877.8 1083.4 877.9 1085.9 877.9 1088.4 877.9 1090.9 877.9 1093.5 877.9 1096.0 877.9 1098.5 877.9 1101.1 877.9 1103.6 878.0 1106.1 878.0 1108.6 878.0 1111.2 878.0 1113.7 878.0 1116.2 878.0 1118.7 878.0 1121.3 878.0 1123.8 878.1 1126.3 878.1 1128.8 878.1 1131.4 878.1 1133.9 878.1 1136.4 878.1 1139.0 878.1 1141.5 878.2 1144.0 878.2 1146.5 878.2 1149.1 878.2 1151.6 878.2 1154.1 878.2 1156.6 878.2 1159.2 878.3 1161.7 878.3 1164.2 878.3 1166.8 878.3 1169.3 878.3 1171.8 878.3 1174.3 878.3 1176.9 878.4 1179.4 878.4 1181.9 878.4 1184.4 878.4 1187.0 878.4 1189.5 878.4 1192.0 878.4 1194.5 878.4 1197.1 878.5 1199.6 878.5 1202.1 878.5 1204.7 878.5 1207.2 878.5 1209.7 878.5 1212.2 878.5 1214.8 878.5 1217.3 878.5 1219.8 878.6 1222.3 878.6 1224.9 878.6 1227.4 878.6 1229.9 878.6 1232.4 878.6 1235.0 878.6 1237.5 878.6 1240.0 878.6 1242.6 878.6 1245.1 878.6 1247.6 878.6 1250.1 878.6 1252.7 878.7 1255.2 878.7 1257.7 878.7 1260.2 878.7 1262.8 878.7 1265.3 878.7 1267.8 878.7 1270.3 878.7 1272.9 878.7 1275.4 878.7 1277.9 878.7 1280.5 878.7 1283.0 878.7 1285.5 878.7 1288.0 878.7 1290.6 878.7 1293.1 878.7 1294.0 878.7" stroke="#990000" stroke-width="3.6"/>
<path d="M219.6 27.7L219.9 30.8 220.1 33.9 220.3 36.9 220.5 39.8 220.7 42.8 220.9 45.7 221.1 48.7 221.3 51.6 221.5 54.5 221.7 57.4 222.0 60.3 222.2 63.2 222.4 66.1 222.6 69.0 222.8 71.9 223.0 74.8 223.2 77.6 223.4 80.5 223.6 83.3 223.9 86.1 224.1 89.0 224.3 91.8 224.5 94.6 224.7 97.4 224.9 100.2 225.1 103.0 225.3 105.7 225.5 108.5 225.7 111.2 226.0 114.0 226.2 116.7 226.4 119.4 226.6 122.1 226.8 124.8 227.0 127.5 227.2 130.2 227.4 132.9 227.6 135.6 227.9 138.2 228.1 140.8 228.3 143.5 228.5 146.1 228.7 148.7 228.9 151.3 229.1 153.9 229.3 156.5 229.5 159.0 229.7 161.6 230.0 164.1 230.2 166.7 230.4 169.2 230.6 171.7 230.8 174.2 231.0 176.8 231.2 179.3 231.5 182.6 231.8 185.8 232.1 189.0 232.3 192.2 232.6 195.4 232.9 198.5 233.2 201.6 233.5 204.6 233.7 207.7 234.0 210.7 234.3 213.7 234.6 216.7 234.9 219.7 235.2 222.6 235.4 225.5 235.7 228.4 236.0 231.2 236.3 234.1 236.6 236.9 236.8 239.7 237.1 242.4 237.4 245.1 237.7 247.8 238.0 250.5 238.2 253.2 238.5 255.8 238.8 258.4 239.1 260.9 239.4 263.5 239.6 266.0 240.0 269.1 240.3 272.1 240.7 275.1 241.0 278.0 241.4 280.9 241.7 283.8 242.1 286.6 242.5 289.4 242.8 292.1 243.2 294.9 243.5 297.6 243.9 300.3 244.2 302.9 244.6 305.6 244.9 308.2 245.3 310.9 245.6 313.5 246.0 316.2 246.3 318.8 246.7 321.4 247.0 324.1 247.4 326.7 247.7 329.4 248.1 332.1 248.4 334.8 248.8 337.5 249.1 340.3 249.5 343.0 249.8 345.8 250.2 348.6 250.5 351.5 250.9 354.4 251.2 357.3 251.6 360.2 251.9 363.2 252.3 366.2 252.6 369.3 253.0 372.3 253.3 375.4 253.7 378.4 254.0 381.5 254.4 384.6 254.7 387.6 255.1 390.7 255.4 393.7 255.8 396.8 256.1 399.8 256.5 402.8 256.8 405.7 257.2 408.7 257.5 411.6 257.9 414.5 258.2 417.3 258.6 420.1 258.9 422.9 259.3 425.6 259.6 428.2 260.0 430.8 260.3 433.4 260.7 435.9 261.1 438.8 261.5 441.7 262.0 444.6 262.4 447.4 262.8 450.2 263.2 453.0 263.6 455.8 264.1 458.6 264.5 461.4 264.9 464.2 265.3 467.1 265.8 469.9 266.2 472.8 266.6 475.6 267.0 478.5 267.4 481.3 267.9 484.1 268.3 486.9 268.7 489.6 269.1 492.2 269.5 494.8 270.0 497.4 270.4 499.9 270.9 502.6 271.4 505.3 271.9 507.9 272.4 510.4 272.8 512.9 273.4 515.6 274.0 518.3 274.5 521.0 275.1 523.6 275.6 526.2 276.2 528.7 276.8 531.1 277.4 533.9 278.0 536.6 278.7 539.2 279.3 541.9 279.9 544.5 280.6 547.0 281.2 549.6 281.8 552.1 282.5 554.7 283.1 557.2 283.7 559.8 284.4 562.3 285.0 564.9 285.6 567.4 286.2 569.9 286.9 572.4 287.5 574.9 288.1 577.4 288.8 579.8 289.4 582.3 290.1 584.9 290.8 587.6 291.5 590.3 292.2 592.9 292.9 595.5 293.6 598.0 294.3 600.6 295.0 603.1 295.7 605.5 296.5 608.1 297.3 610.7 298.0 613.2 298.8 615.6 299.6 618.0 300.4 620.4 301.2 623.0 302.0 625.6 302.9 628.1 303.7 630.6 304.6 633.0 305.5 635.5 306.4 637.9 307.4 640.4 308.4 642.7 309.4 645.1 310.5 647.4 311.6 649.8 312.7 652.2 313.8 654.4 315.0 656.7 316.2 658.9 317.5 661.2 318.7 663.3 320.1 665.5 321.4 667.7 322.8 669.9 324.2 672.0 325.6 674.2 327.0 676.2 328.5 678.3 330.0 680.4 331.6 682.4 333.2 684.4 334.9 686.3 336.7 688.1 338.7 689.7 340.7 691.3 342.8 692.8 344.9 694.1 347.1 695.4 349.3 696.7 351.6 697.8 353.9 698.9 356.2 699.9 358.6 700.8 361.0 701.6 363.5 702.3 365.9 703.1 368.4 703.8 370.8 704.4 373.3 705.1 375.7 705.7 378.2 706.2 380.7 706.8 383.1 707.3 385.6 707.8 388.0 708.2 390.5 708.7 393.1 709.1 395.6 709.6 398.1 710.0 400.7 710.4 403.2 710.9 405.6 711.3 408.1 711.8 410.5 712.4 413.0 713.0 415.5 713.6 417.9 714.3 420.3 715.1 422.7 715.9 425.1 716.8 427.5 717.8 429.8 718.8 432.1 719.8 434.4 720.9 436.7 722.0 439.0 723.2 441.2 724.4 443.5 725.6 445.6 727.0 447.7 728.3 449.9 729.7 452.0 731.2 454.0 732.7 456.0 734.1 458.1 735.6 460.1 737.2 462.1 738.8 464.2 740.3 466.1 741.9 468.1 743.5 470.1 745.0 472.0 746.6 474.0 748.3 476.0 749.9 477.9 751.6 479.8 753.2 481.6 754.9 483.5 756.6 485.4 758.4 487.3 760.1 489.2 761.8 491.1 763.5 493.0 765.2 494.9 767.0 496.8 768.7 498.7 770.5 500.6 772.2 502.4 773.9 504.3 775.7 506.1 777.5 507.9 779.3 509.7 781.1 511.5 782.9 513.3 784.7 515.1 786.5 516.8 788.4 518.6 790.2 520.3 792.1 522.0 794.0 523.7 795.8 525.4 797.7 527.2 799.6 529.0 801.5 530.7 803.3 532.5 805.1 534.4 806.9 536.2 808.6 538.0 810.4 539.9 812.1 541.8 813.9 543.7 815.6 545.6 817.3 547.5 819.0 549.4 820.6 551.3 822.3 553.3 823.9 555.3 825.5 557.3 827.0 559.3 828.5 561.4 830.0 563.4 831.5 565.5 833.0 567.6 834.5 569.7 836.0 571.8 837.4 573.9 838.9 576.1 840.2 578.2 841.5 580.4 842.8 582.6 844.1 584.8 845.3 587.1 846.4 589.4 847.4 591.8 848.3 594.2 849.2 596.5 850.0 598.9 850.8 601.4 851.5 603.8 852.2 606.3 852.8 608.8 853.4 611.2 854.0 613.7 854.4 616.3 854.8 618.8 855.2 621.3 855.6 623.8 855.9 626.4 856.1 628.9 856.3 631.4 856.5 634.0 856.7 636.5 856.9 639.0 857.1 641.5 857.2 644.1 857.4 646.6 857.5 649.1 857.7 651.6 857.8 654.2 857.9 656.7 858.0 659.2 858.1 661.8 858.2 664.3 858.3 666.8 858.3 669.3 858.4 671.9 858.4 674.4 858.5 676.9 858.5 679.4 858.6 682.0 858.6 684.5 858.6 687.0 858.7 689.5 858.7 692.1 858.8 694.6 858.8 697.1 858.9 699.7 859.0 702.2 859.0 704.7 859.1 707.2 859.2 709.8 859.2 712.3 859.3 714.8 859.4 717.3 859.4 719.9 859.5 722.4 859.6 724.9 859.7 727.4 859.7 730.0 859.8 732.5 859.9 735.0 860.0 737.6 860.1 740.1 860.2 742.6 860.3 745.1 860.4 747.7 860.5 750.2 860.6 752.7 860.7 755.2 860.9 757.8 861.0 760.3 861.1 762.8 861.3 765.3 861.4 767.9 861.6 770.4 862.1 772.9 862.2 775.5 862.4 778.0 862.5 780.5 862.7 783.0 862.8 785.6 863.0 788.1 863.2 790.6 863.3 793.1 863.5 795.7 863.7 798.2 863.8 800.7 864.0 803.2 864.2 805.8 864.3 808.3 864.5 810.8 864.7 813.4 864.9 815.9 865.1 818.4 865.3 820.9 865.4 823.5 865.6 826.0 865.8 828.5 866.0 831.0 866.2 833.6 866.4 836.1 866.6 838.6 866.8 841.2 867.0 843.7 867.2 846.2 867.4 848.7 867.6 851.3 867.8 853.8 868.0 856.3 868.2 858.8 868.4 861.4 868.6 863.9 868.8 866.4 869.0 868.9 869.2 871.5 869.4 874.0 869.5 876.5 869.7 879.1 869.9 881.6 870.1 884.1 870.3 886.6 870.4 889.2 870.6 891.7 870.8 894.2 870.9 896.7 871.1 899.3 871.2 901.8 871.4 904.3 871.5 906.8 871.7 909.4 871.8 911.9 872.0 914.4 872.1 917.0 872.2 919.5 872.4 922.0 872.5 924.5 872.6 927.1 872.8 929.6 872.9 932.1 873.0 934.6 873.2 937.2 873.3 939.7 873.4 942.2 873.6 944.7 873.7 947.3 873.8 949.8 874.0 952.3 874.1 954.9 874.2 957.4 874.3 959.9 874.5 962.4 874.6 965.0 874.7 967.5 874.8 970.0 874.9 972.5 875.0 975.1 875.2 977.6 875.3 980.1 875.4 982.6 875.5 985.2 875.6 987.7 875.7 990.2 875.8 992.8 875.9 995.3 876.0 997.8 876.1 1000.3 876.1 1002.9 876.2 1005.4 876.3 1007.9 876.4 1010.4 876.5 1013.0 876.6 1015.5 876.6 1018.0 876.7 1020.5 876.8 1023.1 876.9 1025.6 876.9 1028.1 877.0 1030.7 877.0 1033.2 877.1 1035.7 877.1 1038.2 877.2 1040.8 877.2 1043.3 877.3 1045.8 877.3 1048.3 877.4 1050.9 877.4 1053.4 877.4 1055.9 877.5 1058.5 877.5 1061.0 877.5 1063.5 877.6 1066.0 877.6 1068.6 877.6 1071.1 877.6 1073.6 877.7 1076.1 877.7 1078.7 877.7 1081.2 877.7 1083.7 877.7 1086.2 877.8 1088.8 877.8 1091.3 877.8 1093.8 877.8 1096.4 877.8 1098.9 877.8 1101.4 877.8 1103.9 877.8 1106.5 877.9 1109.0 877.9 1111.5 877.9 1114.0 877.9 1116.6 877.9 1119.1 877.9 1121.6 877.9 1124.1 878.0 1126.7 878.0 1129.2 878.0 1131.7 878.0 1134.3 878.0 1136.8 878.0 1139.3 878.1 1141.8 878.1 1144.4 878.1 1146.9 878.1 1149.4 878.1 1151.9 878.1 1154.5 878.2 1157.0 878.2 1159.5 878.2 1162.0 878.2 1164.6 878.2 1167.1 878.2 1169.6 878.2 1172.2 878.3 1174.7 878.3 1177.2 878.3 1179.7 878.3 1182.3 878.3 1184.8 878.3 1187.3 878.4 1189.8 878.4 1192.4 878.4 1194.9 878.4 1197.4 878.4 1199.9 878.4 1202.5 878.4 1205.0 878.4 1207.5 878.5 1210.1 878.5 1212.6 878.5 1215.1 878.5 1217.6 878.5 1220.2 878.5 1222.7 878.5 1225.2 878.5 1227.7 878.5 1230.3 878.5 1232.8 878.6 1235.3 878.6 1237.8 878.6 1240.4 878.6 1242.9 878.6 1245.4 878.6 1248.0 878.6 1250.5 878.6 1253.0 878.6 1255.5 878.6 1258.1 878.6 1260.6 878.6 1263.1 878.6 1265.6 878.7 1268.2 878.7 1270.7 878.7 1273.2 878.7 1275.8 878.7 1278.3 878.7 1280.8 878.7 1283.3 878.7 1285.9 878.7 1288.4 878.7 1290.9 878.7 1293.4 878.7 1294.0 878.7" stroke="#ff2a95" stroke-width="3.2"/>
<path d="M218.4 27.7L218.7 31.0 218.9 34.2 219.1 37.4 219.3 40.7 219.5 43.9 219.7 47.0 219.9 50.1 220.1 53.2 220.3 56.1 220.6 59.1 220.8 62.1 221.0 65.0 221.2 67.9 221.4 70.9 221.6 73.8 221.8 76.7 222.0 79.6 222.2 82.5 222.4 85.3 222.7 88.2 222.9 91.1 223.1 93.9 223.3 96.7 223.5 99.6 223.7 102.4 223.9 105.2 224.1 108.0 224.3 110.8 224.6 113.5 224.8 116.3 225.0 119.1 225.2 121.8 225.4 124.5 225.6 127.3 225.8 130.0 226.0 132.7 226.2 135.3 226.4 138.0 226.7 140.7 226.9 143.3 227.1 146.0 227.3 148.6 227.5 151.2 227.7 153.8 227.9 156.4 228.1 159.0 228.3 161.5 228.6 164.1 228.8 166.6 229.0 169.2 229.2 171.7 229.4 174.2 229.6 176.7 229.9 180.0 230.2 183.3 230.4 186.5 230.7 189.8 231.0 193.0 231.3 196.2 231.6 199.4 231.9 202.5 232.1 205.6 232.4 208.7 232.7 211.8 233.0 214.9 233.3 217.9 233.5 220.9 233.8 223.9 234.1 226.9 234.4 229.9 234.7 232.8 234.9 235.7 235.2 238.6 235.5 241.4 235.8 244.3 236.1 247.1 236.3 249.9 236.6 252.6 236.9 255.4 237.2 258.1 237.5 260.8 237.7 263.4 238.0 266.0 238.3 268.6 238.6 271.2 238.9 273.8 239.2 276.3 239.4 278.8 239.8 281.8 240.1 284.8 240.5 287.8 240.8 290.7 241.2 293.5 241.5 296.3 241.9 299.1 242.2 301.8 242.6 304.5 242.9 307.2 243.3 309.9 243.6 312.5 244.0 315.1 244.3 317.7 244.7 320.2 245.0 322.8 245.4 325.4 245.7 327.9 246.1 330.5 246.5 333.0 246.8 335.6 247.2 338.2 247.5 340.7 247.9 343.4 248.2 346.0 248.6 348.6 248.9 351.3 249.3 354.0 249.6 356.7 250.0 359.5 250.3 362.3 250.7 365.1 251.0 368.0 251.4 370.9 251.7 373.9 252.1 376.9 252.4 380.0 252.8 383.0 253.1 386.1 253.4 388.6 253.7 391.1 254.0 393.7 254.2 396.2 254.5 398.7 254.8 401.2 255.1 403.7 255.4 406.2 255.6 408.8 255.9 411.3 256.2 413.7 256.6 416.8 256.9 419.9 257.3 423.0 257.6 426.0 258.0 429.0 258.3 431.9 258.7 434.8 259.0 437.7 259.4 440.4 259.7 443.2 260.1 445.9 260.4 448.5 260.8 451.1 261.1 453.6 261.5 456.1 261.9 459.1 262.3 462.0 262.7 464.9 263.2 467.8 263.6 470.7 264.0 473.5 264.4 476.4 264.8 479.4 265.3 482.3 265.6 484.8 266.0 487.3 266.3 489.8 266.7 492.8 267.2 495.7 267.6 498.6 268.0 501.5 268.4 504.4 268.8 507.2 269.3 509.9 269.7 512.6 270.1 515.2 270.5 517.7 271.0 520.5 271.5 523.1 272.0 525.7 272.5 528.2 273.0 530.7 273.5 533.4 274.1 536.1 274.7 538.8 275.2 541.4 275.8 543.9 276.4 546.4 277.0 549.1 277.6 551.8 278.2 554.4 278.9 557.0 279.5 559.6 280.1 562.1 280.8 564.7 281.4 567.2 282.0 569.7 282.7 572.1 283.3 574.6 283.9 577.1 284.6 579.6 285.2 582.1 285.8 584.6 286.5 587.1 287.1 589.5 287.7 592.0 288.4 594.4 289.1 597.1 289.8 599.7 290.5 602.3 291.2 605.0 291.9 607.5 292.6 610.1 293.3 612.6 294.0 615.1 294.7 617.6 295.4 620.0 296.1 622.6 296.9 625.2 297.7 627.8 298.5 630.3 299.2 632.7 300.0 635.2 300.8 637.6 301.5 640.0 302.4 642.6 303.2 645.1 304.1 647.6 304.9 650.0 305.8 652.5 306.7 654.9 307.7 657.3 308.8 659.7 309.8 662.0 311.0 664.4 312.1 666.7 313.3 669.0 314.5 671.3 315.7 673.6 317.0 675.8 318.3 678.1 319.7 680.3 321.1 682.5 322.5 684.6 323.9 686.7 325.3 688.8 326.7 690.9 328.2 693.0 329.8 695.1 331.3 697.1 332.9 699.1 334.6 700.9 336.4 702.7 338.4 704.3 340.4 705.8 342.5 707.3 344.7 708.7 346.9 710.0 349.1 711.2 351.4 712.3 353.7 713.3 356.0 714.3 358.4 715.2 360.8 716.0 363.2 716.7 365.7 717.4 368.2 718.1 370.6 718.8 373.1 719.4 375.5 720.0 378.0 720.6 380.4 721.2 382.9 721.7 385.4 722.3 387.8 722.8 390.3 723.3 392.7 723.8 395.2 724.3 397.6 724.7 400.1 725.2 402.5 725.7 405.0 726.2 407.5 726.8 409.9 727.3 412.4 728.0 414.8 728.7 417.3 729.4 419.7 730.2 422.1 731.0 424.4 731.9 426.8 732.9 429.1 733.9 431.5 734.9 433.8 735.9 436.1 737.0 438.4 738.1 440.7 739.3 442.9 740.4 445.2 741.7 447.3 743.0 449.5 744.3 451.6 745.7 453.7 747.1 455.8 748.6 457.9 750.0 460.0 751.5 462.0 753.0 464.0 754.5 466.1 756.0 468.1 757.5 470.1 759.0 472.2 760.5 474.2 762.1 476.2 763.6 478.3 765.2 480.2 766.8 482.2 768.4 484.2 770.0 486.1 771.6 488.1 773.2 490.1 774.8 492.0 776.4 494.0 778.1 496.0 779.7 497.9 781.3 499.9 783.0 501.9 784.6 503.8 786.3 505.8 788.0 507.7 789.6 509.6 791.3 511.5 793.0 513.4 794.6 515.3 796.3 517.2 798.0 519.1 799.7 521.0 801.5 522.8 803.3 524.7 805.0 526.6 806.8 528.5 808.5 530.4 810.1 532.4 811.8 534.4 813.4 536.3 815.0 538.3 816.6 540.3 818.2 542.2 819.7 544.2 821.3 546.2 822.8 548.2 824.4 550.2 826.0 552.3 827.5 554.4 828.9 556.5 830.3 558.6 831.7 560.8 833.0 563.0 834.4 565.2 835.7 567.3 837.1 569.5 838.5 571.6 839.8 573.7 841.2 575.9 842.5 578.2 843.7 580.4 844.9 582.6 846.1 585.0 847.2 587.3 848.2 589.7 849.1 592.1 850.0 594.4 850.8 596.9 851.6 599.4 852.2 601.8 852.9 604.3 853.5 606.7 854.0 609.2 854.5 611.7 855.0 614.2 855.4 616.8 855.7 619.3 856.0 621.8 856.2 624.3 856.5 626.9 856.6 629.4 856.8 631.9 857.0 634.4 857.1 637.0 857.3 639.5 857.4 642.0 857.5 644.6 857.6 647.1 857.7 649.6 857.8 652.1 857.9 654.7 858.0 657.2 858.1 659.7 858.1 662.2 858.2 664.8 858.3 667.3 858.3 669.8 858.4 672.3 858.4 674.9 858.4 677.4 858.5 679.9 858.5 682.5 858.5 685.0 858.6 687.5 858.6 690.0 858.7 692.6 858.7 695.1 858.8 697.6 858.8 700.1 858.9 702.7 858.9 705.2 859.0 707.7 859.1 710.3 859.1 712.8 859.2 715.3 859.3 717.8 859.3 720.4 859.4 722.9 859.5 725.4 859.6 727.9 859.6 730.5 859.7 733.0 859.8 735.5 859.9 738.0 860.0 740.6 860.1 743.1 860.1 745.6 860.3 748.2 860.4 750.7 860.5 753.2 860.6 755.7 860.7 758.3 860.9 760.8 861.0 763.3 861.2 765.8 861.3 768.4 861.5 770.9 862.0 773.4 862.1 775.9 862.3 778.5 862.4 781.0 862.6 783.5 862.7 786.1 862.9 788.6 863.1 791.1 863.2 793.6 863.4 796.2 863.6 798.7 863.7 801.2 863.9 803.7 864.1 806.3 864.3 808.8 864.4 811.3 864.6 813.8 864.8 816.4 865.0 818.9 865.2 821.4 865.4 824.0 865.5 826.5 865.7 829.0 865.9 831.5 866.1 834.1 866.3 836.6 866.5 839.1 866.7 841.6 866.9 844.2 867.1 846.7 867.3 849.2 867.5 851.7 867.7 854.3 868.0 856.8 868.2 859.3 868.4 861.9 868.6 864.4 868.7 866.9 868.9 869.4 869.1 872.0 869.3 874.5 869.5 877.0 869.7 879.5 869.8 882.1 870.0 884.6 870.2 887.1 870.4 889.6 870.5 892.2 870.7 894.7 870.9 897.2 871.0 899.8 871.2 902.3 871.3 904.8 871.5 907.3 871.6 909.9 871.8 912.4 871.9 914.9 872.0 917.4 872.2 920.0 872.3 922.5 872.4 925.0 872.6 927.6 872.7 930.1 872.8 932.6 873.0 935.1 873.1 937.7 873.2 940.2 873.4 942.7 873.5 945.2 873.6 947.8 873.8 950.3 873.9 952.8 874.0 955.3 874.2 957.9 874.3 960.4 874.4 962.9 874.5 965.5 874.6 968.0 874.8 970.5 874.9 973.0 875.0 975.6 875.1 978.1 875.2 980.6 875.3 983.1 875.4 985.7 875.5 988.2 875.6 990.7 875.7 993.2 875.8 995.8 875.9 998.3 876.0 1000.8 876.1 1003.4 876.2 1005.9 876.3 1008.4 876.4 1010.9 876.4 1013.5 876.5 1016.0 876.6 1018.5 876.7 1021.0 876.8 1023.6 876.8 1026.1 876.9 1028.6 876.9 1031.1 877.0 1033.7 877.1 1036.2 877.1 1038.7 877.2 1041.3 877.2 1043.8 877.2 1046.3 877.3 1048.8 877.3 1051.4 877.4 1053.9 877.4 1056.4 877.4 1058.9 877.5 1061.5 877.5 1064.0 877.5 1066.5 877.6 1069.0 877.6 1071.6 877.6 1074.1 877.6 1076.6 877.7 1079.2 877.7 1081.7 877.7 1084.2 877.7 1086.7 877.7 1089.3 877.7 1091.8 877.7 1094.3 877.8 1096.8 877.8 1099.4 877.8 1101.9 877.8 1104.4 877.8 1107.0 877.8 1109.5 877.8 1112.0 877.8 1114.5 877.9 1117.1 877.9 1119.6 877.9 1122.1 877.9 1124.6 877.9 1127.2 877.9 1129.7 878.0 1132.2 878.0 1134.7 878.0 1137.3 878.0 1139.8 878.0 1142.3 878.0 1144.9 878.1 1147.4 878.1 1149.9 878.1 1152.4 878.1 1155.0 878.1 1157.5 878.1 1160.0 878.2 1162.5 878.2 1165.1 878.2 1167.6 878.2 1170.1 878.2 1172.6 878.2 1175.2 878.3 1177.7 878.3 1180.2 878.3 1182.8 878.3 1185.3 878.3 1187.8 878.3 1190.3 878.3 1192.9 878.4 1195.4 878.4 1197.9 878.4 1200.4 878.4 1203.0 878.4 1205.5 878.4 1208.0 878.4 1210.5 878.5 1213.1 878.5 1215.6 878.5 1218.1 878.5 1220.7 878.5 1223.2 878.5 1225.7 878.5 1228.2 878.5 1230.8 878.5 1233.3 878.5 1235.8 878.6 1238.3 878.6 1240.9 878.6 1243.4 878.6 1245.9 878.6 1248.4 878.6 1251.0 878.6 1253.5 878.6 1256.0 878.6 1258.6 878.6 1261.1 878.6 1263.6 878.6 1266.1 878.6 1268.7 878.7 1271.2 878.7 1273.7 878.7 1276.2 878.7 1278.8 878.7 1281.3 878.7 1283.8 878.7 1286.3 878.7 1288.9 878.7 1291.4 878.7 1293.9 878.7 1294.0 878.7" stroke="#008000" stroke-width="3.6"/>
<path d="M217.9 26.9L218.1 30.1 218.3 33.3 218.5 36.5 218.7 39.8 218.9 43.0 219.1 46.3 219.4 49.5 219.6 52.8 219.8 55.9 220.0 59.0 220.2 62.0 220.4 65.0 220.6 67.9 220.8 70.9 221.0 73.8 221.3 76.8 221.5 79.7 221.7 82.6 221.9 85.5 222.1 88.4 222.3 91.2 222.5 94.1 222.7 97.0 222.9 99.8 223.1 102.7 223.4 105.5 223.6 108.3 223.8 111.1 224.0 113.9 224.2 116.7 224.4 119.4 224.6 122.2 224.8 124.9 225.0 127.7 225.3 130.4 225.5 133.1 225.7 135.8 225.9 138.5 226.1 141.2 226.3 143.8 226.5 146.5 226.7 149.1 226.9 151.7 227.1 154.3 227.4 156.9 227.6 159.5 227.8 162.1 228.0 164.7 228.2 167.2 228.4 169.8 228.6 172.3 228.8 174.8 229.0 177.3 229.3 180.6 229.6 183.9 229.9 187.1 230.2 190.4 230.4 193.6 230.7 196.8 231.0 199.9 231.3 203.1 231.6 206.2 231.9 209.3 232.1 212.4 232.4 215.5 232.7 218.5 233.0 221.6 233.3 224.6 233.5 227.6 233.8 230.6 234.1 233.5 234.4 236.4 234.7 239.4 234.9 242.2 235.2 245.1 235.5 248.0 235.8 250.8 236.1 253.6 236.3 256.3 236.6 259.1 236.9 261.8 237.2 264.5 237.5 267.2 237.7 269.8 238.0 272.4 238.3 275.0 238.6 277.5 238.9 280.1 239.2 282.6 239.5 285.6 239.9 288.7 240.2 291.6 240.6 294.6 240.9 297.4 241.3 300.2 241.6 303.0 242.0 305.7 242.3 308.4 242.7 311.1 243.0 313.7 243.4 316.3 243.7 318.9 244.1 321.5 244.4 324.0 244.8 326.6 245.1 329.1 245.5 331.6 245.8 334.1 246.2 336.7 246.5 339.2 246.9 341.7 247.2 344.2 247.6 346.8 247.9 349.4 248.3 352.0 248.6 354.6 249.0 357.2 249.3 359.9 249.7 362.6 250.0 365.4 250.4 368.2 250.7 371.0 251.1 373.9 251.4 376.9 251.8 379.9 252.1 382.9 252.5 386.0 252.8 389.1 253.1 391.6 253.4 394.1 253.7 396.6 254.0 399.1 254.2 401.7 254.5 404.2 254.8 406.8 255.1 409.3 255.4 411.9 255.6 414.4 255.9 417.0 256.2 419.5 256.5 422.0 256.8 424.5 257.0 427.0 257.4 430.1 257.8 433.1 258.1 436.1 258.5 439.1 258.8 442.0 259.2 444.9 259.5 447.7 259.9 450.5 260.2 453.1 260.6 455.8 260.9 458.4 261.3 460.9 261.6 463.5 262.0 466.0 262.4 468.9 262.8 471.9 263.2 474.8 263.6 477.7 264.1 480.6 264.5 483.6 264.8 486.1 265.2 488.6 265.5 491.1 265.9 493.6 266.2 496.2 266.6 498.7 266.9 501.2 267.3 503.7 267.7 506.6 268.1 509.6 268.6 512.4 269.0 515.2 269.4 518.0 269.8 520.7 270.2 523.3 270.7 525.8 271.2 528.5 271.6 531.2 272.1 533.8 272.6 536.3 273.1 538.7 273.7 541.5 274.2 544.1 274.8 546.8 275.4 549.3 275.9 551.8 276.5 554.3 277.1 557.0 277.8 559.7 278.4 562.3 279.0 564.8 279.7 567.4 280.3 569.9 280.9 572.4 281.5 574.9 282.2 577.3 282.8 579.8 283.4 582.3 284.1 584.8 284.7 587.2 285.3 589.7 286.0 592.2 286.6 594.6 287.2 597.1 287.9 599.7 288.6 602.4 289.3 605.1 290.0 607.7 290.7 610.3 291.4 612.8 292.1 615.4 292.8 617.9 293.5 620.4 294.2 622.9 295.0 625.3 295.7 627.7 296.4 630.3 297.2 632.9 298.0 635.4 298.7 637.9 299.5 640.4 300.3 642.8 301.1 645.3 301.8 647.7 302.7 650.3 303.5 652.8 304.4 655.3 305.2 657.7 306.1 660.1 307.0 662.5 308.0 664.8 309.1 667.2 310.1 669.4 311.2 671.8 312.4 674.0 313.6 676.3 314.7 678.5 316.0 680.8 317.3 683.0 318.6 685.2 319.9 687.3 321.3 689.5 322.7 691.6 324.2 693.8 325.7 695.9 327.2 698.0 328.6 700.1 330.2 702.1 331.8 704.2 333.5 706.1 335.2 708.0 337.1 709.7 339.2 711.3 341.2 712.7 343.3 714.1 345.5 715.4 347.7 716.7 350.0 717.8 352.3 718.9 354.6 719.9 357.0 720.9 359.4 721.7 361.8 722.5 364.2 723.2 366.7 723.9 369.1 724.6 371.6 725.2 374.1 725.9 376.5 726.5 379.0 727.0 381.4 727.6 383.9 728.2 386.3 728.7 388.8 729.3 391.2 729.8 393.7 730.3 396.2 730.8 398.6 731.3 401.1 731.8 403.5 732.3 406.0 732.9 408.4 733.4 410.9 734.1 413.4 734.7 415.8 735.5 418.2 736.2 420.6 737.1 423.0 737.9 425.4 738.9 427.7 739.8 430.0 740.8 432.3 741.8 434.6 742.9 436.9 744.0 439.3 745.1 441.5 746.2 443.7 747.4 446.0 748.6 448.2 749.9 450.3 751.2 452.5 752.6 454.6 754.0 456.7 755.4 458.8 756.9 460.9 758.4 463.1 759.9 465.1 761.3 467.1 762.8 469.2 764.3 471.3 765.8 473.3 767.2 475.3 768.7 477.4 770.2 479.4 771.8 481.4 773.3 483.5 774.9 485.5 776.5 487.5 778.1 489.5 779.6 491.5 781.2 493.4 782.7 495.4 784.3 497.4 785.8 499.3 787.4 501.3 789.0 503.3 790.6 505.2 792.2 507.2 793.8 509.2 795.4 511.1 797.0 513.1 798.6 515.1 800.2 517.0 801.9 519.0 803.5 521.0 805.2 522.8 806.9 524.7 808.5 526.7 810.2 528.7 811.8 530.6 813.4 532.7 815.0 534.7 816.5 536.7 818.0 538.8 819.5 540.8 821.0 542.9 822.5 544.9 824.0 546.9 825.6 549.0 827.0 551.1 828.5 553.2 829.9 555.3 831.3 557.5 832.6 559.7 833.9 561.9 835.1 564.1 836.4 566.3 837.7 568.5 839.0 570.6 840.4 572.8 841.7 575.0 843.0 577.2 844.2 579.5 845.4 581.7 846.5 584.1 847.6 586.4 848.6 588.8 849.5 591.1 850.4 593.5 851.1 596.0 851.9 598.4 852.6 600.9 853.2 603.4 853.8 605.8 854.3 608.3 854.8 610.8 855.3 613.3 855.6 615.8 855.9 618.4 856.2 620.9 856.4 623.4 856.6 626.0 856.8 628.5 857.0 631.0 857.1 633.5 857.3 636.1 857.4 638.6 857.5 641.1 857.6 643.6 857.7 646.2 857.8 648.7 857.9 651.2 857.9 653.7 858.0 656.3 858.1 658.8 858.1 661.3 858.2 663.9 858.2 666.4 858.3 668.9 858.3 671.4 858.4 674.0 858.4 676.5 858.4 679.0 858.4 681.5 858.5 684.1 858.5 686.6 858.5 689.1 858.6 691.7 858.6 694.2 858.7 696.7 858.7 699.2 858.8 701.8 858.8 704.3 858.9 706.8 859.0 709.3 859.0 711.9 859.1 714.4 859.2 716.9 859.2 719.4 859.3 722.0 859.4 724.5 859.4 727.0 859.5 729.6 859.6 732.1 859.7 734.6 859.8 737.1 859.8 739.7 859.9 742.2 860.0 744.7 860.1 747.2 860.2 749.8 860.4 752.3 860.5 754.8 860.6 757.3 860.7 759.9 860.9 762.4 861.0 764.9 861.2 767.5 861.3 770.0 861.8 772.5 862.0 775.0 862.1 777.6 862.3 780.1 862.4 782.6 862.6 785.1 862.7 787.7 862.9 790.2 863.1 792.7 863.2 795.2 863.4 797.8 863.6 800.3 863.8 802.8 863.9 805.4 864.1 807.9 864.3 810.4 864.5 812.9 864.6 815.5 864.8 818.0 865.0 820.5 865.2 823.0 865.4 825.6 865.6 828.1 865.8 830.6 866.0 833.1 866.2 835.7 866.4 838.2 866.6 840.7 866.8 843.3 867.0 845.8 867.2 848.3 867.4 850.8 867.6 853.4 867.8 855.9 868.0 858.4 868.2 860.9 868.4 863.5 868.6 866.0 868.8 868.5 869.0 871.1 869.2 873.6 869.4 876.1 869.5 878.6 869.7 881.2 869.9 883.7 870.1 886.2 870.2 888.7 870.4 891.3 870.6 893.8 870.7 896.3 870.9 898.8 871.1 901.4 871.2 903.9 871.4 906.4 871.5 909.0 871.6 911.5 871.8 914.0 871.9 916.5 872.1 919.1 872.2 921.6 872.3 924.1 872.5 926.6 872.6 929.2 872.7 931.7 872.9 934.2 873.0 936.7 873.1 939.3 873.3 941.8 873.4 944.3 873.5 946.9 873.7 949.4 873.8 951.9 873.9 954.4 874.1 957.0 874.2 959.5 874.3 962.0 874.4 964.5 874.6 967.1 874.7 969.6 874.8 972.1 874.9 974.6 875.0 977.2 875.1 979.7 875.2 982.2 875.3 984.8 875.4 987.3 875.5 989.8 875.6 992.3 875.7 994.9 875.8 997.4 875.9 999.9 876.0 1002.4 876.1 1005.0 876.2 1007.5 876.3 1010.0 876.4 1012.5 876.5 1015.1 876.5 1017.6 876.6 1020.1 876.7 1022.7 876.8 1025.2 876.8 1027.7 876.9 1030.2 876.9 1032.8 877.0 1035.3 877.1 1037.8 877.1 1040.3 877.2 1042.9 877.2 1045.4 877.2 1047.9 877.3 1050.4 877.3 1053.0 877.4 1055.5 877.4 1058.0 877.4 1060.6 877.5 1063.1 877.5 1065.6 877.5 1068.1 877.6 1070.7 877.6 1073.2 877.6 1075.7 877.6 1078.2 877.6 1080.8 877.7 1083.3 877.7 1085.8 877.7 1088.4 877.7 1090.9 877.7 1093.4 877.7 1095.9 877.7 1098.5 877.8 1101.0 877.8 1103.5 877.8 1106.0 877.8 1108.6 877.8 1111.1 877.8 1113.6 877.8 1116.1 877.9 1118.7 877.9 1121.2 877.9 1123.7 877.9 1126.3 877.9 1128.8 877.9 1131.3 878.0 1133.8 878.0 1136.4 878.0 1138.9 878.0 1141.4 878.0 1143.9 878.0 1146.5 878.1 1149.0 878.1 1151.5 878.1 1154.0 878.1 1156.6 878.1 1159.1 878.1 1161.6 878.2 1164.2 878.2 1166.7 878.2 1169.2 878.2 1171.7 878.2 1174.3 878.2 1176.8 878.3 1179.3 878.3 1181.8 878.3 1184.4 878.3 1186.9 878.3 1189.4 878.3 1191.9 878.3 1194.5 878.4 1197.0 878.4 1199.5 878.4 1202.1 878.4 1204.6 878.4 1207.1 878.4 1209.6 878.4 1212.2 878.5 1214.7 878.5 1217.2 878.5 1219.7 878.5 1222.3 878.5 1224.8 878.5 1227.3 878.5 1229.8 878.5 1232.4 878.5 1234.9 878.5 1237.4 878.6 1240.0 878.6 1242.5 878.6 1245.0 878.6 1247.5 878.6 1250.1 878.6 1252.6 878.6 1255.1 878.6 1257.6 878.6 1260.2 878.6 1262.7 878.6 1265.2 878.6 1267.7 878.6 1270.3 878.7 1272.8 878.7 1275.3 878.7 1277.9 878.7 1280.4 878.7 1282.9 878.7 1285.4 878.7 1288.0 878.7 1290.5 878.7 1293.0 878.7 1294.0 878.7" stroke="#2626c8" stroke-width="3.2"/>
</g>
<rect x="595.0" y="120.0" width="652.0" height="518.5" fill="#fdfdfd"/>
<path d="M627.6 638.5V634.0M660.2 638.5V628.5M692.8 638.5V634.0M725.4 638.5V628.5M758.0 638.5V634.0M790.6 638.5V628.5M823.2 638.5V634.0M855.8 638.5V628.5M888.4 638.5V634.0M921.0 638.5V628.5M953.6 638.5V634.0M986.2 638.5V628.5M1018.8 638.5V634.0M1051.4 638.5V628.5M1084.0 638.5V634.0M1116.6 638.5V628.5M1149.2 638.5V634.0M1181.8 638.5V628.5M1214.4 638.5V634.0M595.0 624.1H599.5M595.0 552.1H605.0M595.0 480.1H599.5M595.0 408.1H605.0M595.0 336.0H599.5M595.0 264.0H605.0M595.0 192.0H599.5" stroke="#333" stroke-width="2" fill="none"/>
<rect x="595.0" y="120.0" width="652.0" height="518.5" fill="none" stroke="#333" stroke-width="2.2"/>
<g clip-path="url(#ci)" fill="none" stroke-linejoin="round" stroke-linecap="butt">
<path d="M595.0 212.2L595.3 214.3 595.7 216.3 596.0 218.4 596.3 220.4 596.6 222.4 597.0 224.4 597.3 226.8 597.7 229.1 598.1 231.4 598.5 233.7 598.9 235.9 599.3 238.1 599.7 240.2 600.1 242.3 600.5 244.4 600.9 246.4 601.3 248.3 601.7 250.6 602.2 252.8 602.6 254.9 603.1 257.0 603.5 259.1 604.0 261.1 604.5 263.1 604.9 265.0 605.4 267.2 606.0 269.4 606.5 271.5 607.0 273.5 607.5 275.6 608.0 277.6 608.6 279.6 609.1 281.6 609.6 283.5 610.2 285.6 610.8 287.7 611.4 289.8 612.0 291.8 612.5 293.8 613.1 295.8 613.7 297.7 614.3 299.6 615.0 301.8 615.6 303.8 616.3 305.9 616.9 308.0 617.6 310.1 618.2 312.2 618.9 314.2 619.5 316.3 620.2 318.4 620.8 320.5 621.5 322.5 622.1 324.6 622.8 326.6 623.4 328.6 624.1 330.6 624.7 332.6 625.4 334.5 626.0 336.4 626.8 338.5 627.5 340.5 628.2 342.5 628.9 344.5 629.6 346.5 630.3 348.4 631.1 350.4 631.8 352.3 632.5 354.2 633.3 356.2 634.1 358.1 634.8 360.0 635.7 362.0 636.5 363.9 637.4 365.8 638.4 367.7 639.3 369.5 640.2 371.4 641.2 373.2 642.2 375.0 643.2 376.8 644.4 378.6 645.5 380.3 646.7 382.0 648.0 383.5 649.4 385.0 650.9 386.3 652.4 387.7 653.9 389.2 655.1 390.8 656.2 392.6 657.3 394.4 658.4 396.2 659.6 397.9 660.9 399.5 662.2 401.1 663.5 402.6 664.9 404.1 666.3 405.5 667.8 406.9 669.4 408.2 671.0 409.4 672.7 410.6 674.4 411.7 676.1 412.9 677.8 413.9 679.6 415.0 681.3 416.0 683.1 417.1 684.8 418.1 686.6 419.2 688.4 420.3 690.1 421.3 691.9 422.4 693.6 423.5 695.4 424.5 697.2 425.5 698.9 426.6 700.7 427.6 702.4 428.6 704.2 429.6 706.0 430.5 707.8 431.5 709.6 432.5 711.4 433.4 713.3 434.4 715.1 435.4 716.9 436.3 718.6 437.3 720.4 438.3 722.1 439.3 723.9 440.3 725.7 441.3 727.4 442.4 729.2 443.4 730.9 444.3 732.8 445.3 734.6 446.3 736.4 447.1 738.2 448.0 740.1 448.8 742.0 449.6 743.9 450.4 745.8 451.2 747.7 452.0 749.6 452.8 751.5 453.6 753.4 454.4 755.2 455.2 757.0 456.1 758.6 457.3 759.6 459.2 760.4 461.1 761.4 463.0 763.0 464.2 764.8 465.0 766.7 465.9 768.5 466.9 770.3 467.8 772.1 468.7 774.0 469.6 775.8 470.5 777.6 471.5 779.5 472.4 781.3 473.3 783.1 474.3 784.9 475.2 786.8 476.2 788.6 477.1 790.4 478.1 792.2 479.1 794.0 480.0 795.8 481.0 797.5 482.0 799.3 482.9 801.0 483.9 802.8 484.9 804.6 485.9 806.3 486.9 808.1 487.9 809.8 488.9 811.6 489.9 813.4 490.9 815.1 491.9 816.9 492.9 818.6 493.9 820.4 495.0 822.2 496.0 823.9 497.1 825.7 498.1 827.4 499.2 829.2 500.2 831.0 501.3 832.7 502.4 834.5 503.4 836.2 504.5 838.0 505.6 839.8 506.7 841.5 507.7 843.3 508.8 845.0 509.9 846.8 510.9 848.6 512.0 850.3 513.1 852.1 514.1 853.8 515.2 855.5 516.3 857.2 517.4 858.9 518.4 860.6 519.5 862.3 520.6 864.0 521.6 865.8 522.7 867.5 523.8 869.3 524.9 871.1 525.9 872.8 526.9 874.6 527.9 876.3 528.9 878.2 529.9 880.0 530.8 881.8 531.7 883.6 532.6 885.5 533.4 887.3 534.2 889.2 535.1 891.1 535.9 893.0 536.7 894.9 537.5 896.7 538.3 898.6 539.0 900.5 539.8 902.4 540.6 904.3 541.3 906.2 542.1 908.1 542.9 910.0 543.6 911.9 544.4 913.8 545.2 915.7 546.0 917.5 546.8 919.4 547.6 921.3 548.3 923.2 549.1 925.1 549.9 927.0 550.6 928.9 551.4 930.8 552.1 932.7 552.8 934.6 553.5 936.5 554.2 938.4 554.9 940.4 555.5 942.3 556.1 944.3 556.8 946.2 557.4 948.2 558.0 950.1 558.6 952.1 559.2 954.1 559.8 956.0 560.4 958.0 560.9 959.9 561.4 961.9 561.9 963.8 562.4 965.8 562.8 967.8 563.3 969.8 563.7 971.9 564.0 973.9 564.4 975.9 564.8 977.9 565.1 979.9 565.4 982.0 565.8 984.0 566.1 986.0 566.4 988.0 566.6 990.0 566.9 992.1 567.2 994.1 567.4 996.1 567.6 998.1 567.8 1000.2 568.0 1002.2 568.2 1004.2 568.3 1006.2 568.5 1008.2 568.6 1010.3 568.8 1012.3 568.9 1014.3 569.0 1016.3 569.2 1018.3 569.3 1020.4 569.4 1022.4 569.5 1024.4 569.6 1026.4 569.8 1028.4 569.9 1030.5 570.0 1032.5 570.1 1034.5 570.2 1036.5 570.4 1038.6 570.5 1040.6 570.6 1042.6 570.7 1044.6 570.8 1046.6 570.9 1048.7 570.9 1050.7 571.0 1052.7 571.0 1054.7 571.0 1056.7 571.0 1058.8 571.1 1060.8 571.1 1062.8 571.1 1064.8 571.1 1066.9 571.1 1068.9 571.1 1070.9 571.1 1072.9 571.2 1074.9 571.2 1077.0 571.2 1079.0 571.2 1081.0 571.2 1083.0 571.2 1085.0 571.2 1087.1 571.2 1089.1 571.2 1091.1 571.3 1093.1 571.3 1095.1 571.3 1097.2 571.3 1099.2 571.3 1101.2 571.3 1103.2 571.3 1105.3 571.3 1107.3 571.3 1109.3 571.3 1111.3 571.3 1113.3 571.3 1115.4 571.3 1117.4 571.3 1119.4 571.3 1121.4 571.3 1123.4 571.3 1125.5 571.3 1127.5 571.3 1129.5 571.3 1131.5 571.3 1133.6 571.3 1135.6 571.3 1137.6 571.3 1139.6 571.3 1141.6 571.3 1143.7 571.3 1145.7 571.3 1147.7 571.3 1149.7 571.3 1151.7 571.3 1153.8 571.3 1155.8 571.3 1157.8 571.3 1159.8 571.3 1161.8 571.3 1163.9 571.3 1165.9 571.3 1167.9 571.3 1169.9 571.3 1172.0 571.3 1174.0 571.3 1176.0 571.3 1178.0 571.3 1180.0 571.3 1182.1 571.3 1184.1 571.3 1186.1 571.3 1188.1 571.3 1190.1 571.3 1192.2 571.3 1194.2 571.3 1196.2 571.3 1198.2 571.3 1200.3 571.3 1202.3 571.3 1204.3 571.3 1206.3 571.3 1208.3 571.3 1210.4 571.2 1212.4 571.2 1214.4 571.2 1216.4 571.2 1218.4 571.2 1220.5 571.2 1222.5 571.2 1224.5 571.2 1226.5 571.2 1228.5 571.2 1230.6 571.2 1232.6 571.2 1234.6 571.1 1236.6 571.1 1238.7 571.1 1240.7 571.1 1242.7 571.1 1244.7 571.1 1246.7 571.1 1247.0 571.1" stroke="#000000" stroke-width="2.0"/>
<path d="M595.0 212.2L595.3 214.3 595.7 216.3 596.0 218.4 596.3 220.4 596.6 222.4 597.0 224.4 597.3 226.8 597.7 229.1 598.1 231.4 598.5 233.7 598.9 235.9 599.3 238.1 599.7 240.2 600.1 242.3 600.5 244.4 600.9 246.4 601.3 248.3 601.7 250.6 602.2 252.8 602.6 254.9 603.1 257.0 603.5 259.1 604.0 261.1 604.5 263.1 604.9 265.0 605.4 267.2 606.0 269.4 606.5 271.5 607.0 273.5 607.5 275.6 608.0 277.6 608.6 279.6 609.1 281.6 609.6 283.5 610.2 285.6 610.8 287.7 611.4 289.8 612.0 291.8 612.5 293.8 613.1 295.8 613.7 297.7 614.3 299.6 615.0 301.8 615.6 303.8 616.3 305.9 616.9 308.0 617.6 310.1 618.2 312.2 618.9 314.2 619.5 316.3 620.2 318.4 620.8 320.5 621.5 322.5 622.1 324.6 622.8 326.6 623.4 328.6 624.1 330.6 624.7 332.6 625.4 334.5 626.0 336.4 626.8 338.5 627.5 340.5 628.2 342.5 628.9 344.5 629.6 346.5 630.3 348.4 631.1 350.4 631.8 352.3 632.5 354.2 633.3 356.2 634.1 358.1 634.8 360.0 635.7 362.0 636.5 363.9 637.4 365.8 638.4 367.7 639.3 369.5 640.2 371.4 641.2 373.2 642.2 375.0 643.2 376.8 644.4 378.6 645.5 380.3 646.7 382.0 648.0 383.5 649.4 385.0 650.9 386.3 652.4 387.7 653.9 389.2 655.1 390.8 656.2 392.6 657.3 394.3 658.4 396.0 659.6 397.7 660.9 399.3 662.2 400.9 663.6 402.4 665.0 403.9 666.5 405.3 668.1 406.7 669.7 408.0 671.3 409.1 673.0 410.3 674.7 411.4 676.4 412.5 678.2 413.6 680.0 414.6 681.7 415.6 683.5 416.6 685.2 417.7 687.0 418.7 688.8 419.7 690.5 420.8 692.3 421.8 694.0 422.9 695.8 423.9 697.6 424.9 699.3 425.9 701.1 426.9 702.8 427.9 704.6 428.8 706.4 429.8 708.3 430.8 710.1 431.7 711.9 432.7 713.7 433.6 715.6 434.6 717.4 435.6 719.1 436.5 720.9 437.5 722.7 438.5 724.4 439.5 726.2 440.5 727.9 441.5 729.7 442.5 731.5 443.5 733.3 444.4 735.1 445.3 736.9 446.2 738.8 447.0 740.7 447.9 742.5 448.7 744.4 449.5 746.3 450.2 748.2 451.0 750.1 451.8 752.0 452.6 753.8 453.5 755.7 454.3 757.5 455.2 758.8 456.6 759.8 458.5 760.6 460.4 761.7 462.1 763.4 463.1 765.2 464.0 767.1 465.0 768.9 465.9 770.7 466.8 772.5 467.7 774.4 468.6 776.2 469.6 778.0 470.5 779.8 471.4 781.7 472.4 783.5 473.3 785.3 474.3 787.1 475.2 789.0 476.2 790.8 477.2 792.6 478.1 794.3 479.1 796.1 480.1 797.8 481.0 799.6 482.0 801.4 483.0 803.1 484.0 804.9 485.0 806.6 486.0 808.4 487.0 810.2 488.0 811.9 489.0 813.7 490.0 815.4 491.1 817.2 492.1 819.0 493.1 820.7 494.2 822.5 495.2 824.2 496.3 826.0 497.3 827.8 498.4 829.5 499.5 831.3 500.5 833.0 501.6 834.8 502.7 836.6 503.8 838.3 504.9 840.1 505.9 841.8 507.0 843.6 508.1 845.4 509.2 847.1 510.2 848.9 511.3 850.6 512.4 852.4 513.5 854.2 514.6 855.9 515.6 857.6 516.7 859.3 517.8 861.0 518.9 862.6 519.9 864.3 521.0 866.1 522.1 867.9 523.2 869.6 524.2 871.4 525.3 873.1 526.3 874.9 527.3 876.7 528.2 878.5 529.2 880.3 530.1 882.1 531.0 884.0 531.9 885.8 532.7 887.6 533.6 889.5 534.4 891.4 535.2 893.3 536.0 895.2 536.8 897.1 537.6 899.0 538.4 900.9 539.2 902.7 539.9 904.6 540.7 906.5 541.5 908.4 542.2 910.3 543.0 912.2 543.8 914.1 544.6 916.0 545.4 917.9 546.2 919.8 547.0 921.7 547.8 923.5 548.5 925.4 549.3 927.3 550.1 929.2 550.8 931.1 551.5 933.0 552.2 934.9 552.9 936.8 553.6 938.7 554.3 940.7 554.9 942.6 555.6 944.6 556.2 946.6 556.8 948.5 557.5 950.5 558.1 952.4 558.7 954.4 559.3 956.3 559.8 958.3 560.4 960.3 560.9 962.2 561.4 964.2 561.9 966.1 562.3 968.1 562.7 970.2 563.1 972.2 563.5 974.2 563.9 976.2 564.3 978.2 564.6 980.3 565.0 982.3 565.3 984.3 565.6 986.3 565.9 988.4 566.2 990.4 566.5 992.4 566.7 994.4 567.0 996.4 567.2 998.5 567.4 1000.5 567.6 1002.5 567.8 1004.5 567.9 1006.5 568.1 1008.6 568.3 1010.6 568.4 1012.6 568.5 1014.6 568.7 1016.6 568.8 1018.7 568.9 1020.7 569.1 1022.7 569.2 1024.7 569.3 1026.8 569.4 1028.8 569.6 1030.8 569.7 1032.8 569.8 1034.8 569.9 1036.9 570.1 1038.9 570.2 1040.9 570.3 1042.9 570.4 1044.9 570.5 1047.0 570.6 1049.0 570.6 1051.0 570.7 1053.0 570.7 1055.1 570.7 1057.1 570.7 1059.1 570.7 1061.1 570.8 1063.1 570.8 1065.2 570.8 1067.2 570.8 1069.2 570.8 1071.2 570.9 1073.2 570.9 1075.3 570.9 1077.3 570.9 1079.3 570.9 1081.3 570.9 1083.3 570.9 1085.4 571.0 1087.4 571.0 1089.4 571.0 1091.4 571.0 1093.5 571.0 1095.5 571.0 1097.5 571.0 1099.5 571.0 1101.5 571.0 1103.6 571.1 1105.6 571.1 1107.6 571.1 1109.6 571.1 1111.6 571.1 1113.7 571.1 1115.7 571.1 1117.7 571.1 1119.7 571.1 1121.8 571.1 1123.8 571.1 1125.8 571.1 1127.8 571.1 1129.8 571.1 1131.9 571.1 1133.9 571.1 1135.9 571.1 1137.9 571.1 1139.9 571.1 1142.0 571.2 1144.0 571.2 1146.0 571.2 1148.0 571.2 1150.0 571.2 1152.1 571.2 1154.1 571.2 1156.1 571.2 1158.1 571.2 1160.2 571.2 1162.2 571.2 1164.2 571.2 1166.2 571.2 1168.2 571.2 1170.3 571.2 1172.3 571.2 1174.3 571.2 1176.3 571.2 1178.3 571.2 1180.4 571.2 1182.4 571.2 1184.4 571.2 1186.4 571.2 1188.5 571.2 1190.5 571.2 1192.5 571.2 1194.5 571.2 1196.5 571.2 1198.6 571.2 1200.6 571.2 1202.6 571.2 1204.6 571.2 1206.6 571.2 1208.7 571.2 1210.7 571.2 1212.7 571.2 1214.7 571.2 1216.7 571.2 1218.8 571.1 1220.8 571.1 1222.8 571.1 1224.8 571.1 1226.9 571.1 1228.9 571.1 1230.9 571.1 1232.9 571.1 1234.9 571.1 1237.0 571.1 1239.0 571.1 1241.0 571.1 1243.0 571.0 1245.0 571.0 1247.0 571.0" stroke="#ff1010" stroke-width="1.5"/>
<path d="M595.0 215.9L595.3 217.9 595.7 219.9 596.0 222.0 596.3 224.0 596.6 225.9 597.0 228.3 597.4 230.6 597.8 232.9 598.2 235.1 598.6 237.3 599.0 239.5 599.4 241.7 599.8 243.8 600.2 245.8 600.5 247.8 600.9 249.8 601.4 252.0 601.8 254.2 602.3 256.4 602.8 258.5 603.2 260.5 603.7 262.5 604.1 264.5 604.6 266.7 605.2 268.9 605.7 271.0 606.2 273.1 606.7 275.2 607.3 277.2 607.8 279.2 608.3 281.2 608.8 283.1 609.4 285.2 610.0 287.4 610.6 289.4 611.2 291.5 611.8 293.5 612.3 295.4 612.9 297.4 613.5 299.3 614.2 301.4 614.8 303.4 615.5 305.5 616.1 307.6 616.8 309.6 617.4 311.6 618.1 313.7 618.7 315.7 619.4 317.7 620.0 319.7 620.7 321.8 621.3 323.8 622.0 325.8 622.6 327.8 623.3 329.7 623.9 331.7 624.6 333.6 625.3 335.5 626.0 337.6 626.7 339.6 627.4 341.6 628.1 343.5 628.8 345.5 629.6 347.4 630.3 349.3 631.0 351.2 631.8 353.2 632.6 355.2 633.3 357.2 634.1 359.1 634.9 360.9 635.7 362.9 636.6 364.7 637.5 366.6 638.4 368.4 639.4 370.3 640.4 372.1 641.4 373.9 642.4 375.7 643.4 377.4 644.6 379.2 645.7 380.9 647.0 382.5 648.3 384.0 649.8 385.4 651.3 386.8 652.8 388.2 654.2 389.6 655.4 391.3 656.5 393.1 657.5 394.9 658.6 396.6 659.9 398.3 661.1 399.9 662.4 401.5 663.8 403.0 665.2 404.5 666.6 405.9 668.1 407.2 669.7 408.5 671.3 409.7 673.0 410.9 674.7 412.1 676.4 413.2 678.1 414.3 679.8 415.4 681.6 416.4 683.3 417.5 685.1 418.5 686.9 419.6 688.6 420.7 690.4 421.7 692.1 422.8 693.9 423.9 695.7 424.9 697.4 426.0 699.2 427.0 700.9 428.0 702.7 429.0 704.5 430.0 706.2 431.0 708.0 431.9 709.8 432.9 711.6 433.9 713.5 434.9 715.3 435.8 717.1 436.8 718.8 437.8 720.6 438.8 722.3 439.8 724.1 440.8 725.9 441.8 727.6 442.8 729.4 443.9 731.1 444.8 733.0 445.8 734.8 446.7 736.6 447.6 738.4 448.5 740.3 449.3 742.2 450.1 744.1 450.9 746.0 451.7 747.9 452.5 749.8 453.2 751.7 454.0 753.6 454.9 755.4 455.7 757.2 456.5 758.7 457.9 759.6 459.7 760.5 461.7 761.5 463.4 763.2 464.6 765.0 465.5 766.8 466.4 768.6 467.3 770.5 468.2 772.3 469.2 774.1 470.1 775.9 471.0 777.8 471.9 779.6 472.8 781.4 473.8 783.2 474.7 785.1 475.7 786.9 476.6 788.7 477.6 790.5 478.5 792.4 479.5 794.1 480.5 795.9 481.4 797.6 482.4 799.4 483.4 801.2 484.3 802.9 485.3 804.7 486.3 806.4 487.3 808.2 488.3 810.0 489.3 811.7 490.3 813.5 491.3 815.2 492.3 817.0 493.3 818.8 494.4 820.5 495.4 822.3 496.4 824.0 497.5 825.8 498.5 827.6 499.6 829.3 500.6 831.1 501.7 832.8 502.8 834.6 503.8 836.4 504.9 838.1 506.0 839.9 507.0 841.7 508.1 843.4 509.2 845.2 510.2 846.9 511.3 848.7 512.4 850.5 513.4 852.2 514.5 854.0 515.6 855.7 516.7 857.4 517.7 859.1 518.8 860.8 519.9 862.5 521.0 864.2 522.1 866.0 523.1 867.7 524.2 869.5 525.3 871.3 526.3 873.0 527.3 874.8 528.3 876.5 529.3 878.4 530.3 880.2 531.2 882.0 532.1 883.8 532.9 885.7 533.8 887.5 534.6 889.4 535.4 891.3 536.3 893.2 537.1 895.1 537.8 896.9 538.6 898.8 539.4 900.7 540.2 902.6 540.9 904.5 541.7 906.4 542.4 908.3 543.2 910.2 544.0 912.1 544.7 914.0 545.5 915.8 546.3 917.7 547.1 919.6 547.9 921.5 548.7 923.4 549.4 925.3 550.2 927.2 551.0 929.1 551.7 931.0 552.4 932.9 553.1 934.8 553.8 936.6 554.5 938.6 555.1 940.6 555.8 942.5 556.4 944.5 557.1 946.4 557.7 948.4 558.3 950.3 558.9 952.3 559.5 954.3 560.1 956.2 560.6 958.2 561.2 960.1 561.7 962.1 562.2 964.0 562.6 966.0 563.1 968.0 563.5 970.0 563.9 972.1 564.3 974.1 564.6 976.1 565.0 978.1 565.3 980.1 565.6 982.2 566.0 984.2 566.3 986.2 566.6 988.2 566.8 990.2 567.1 992.3 567.3 994.3 567.6 996.3 567.8 998.3 568.0 1000.3 568.1 1002.4 568.3 1004.4 568.5 1006.4 568.6 1008.4 568.8 1010.5 568.9 1012.5 569.1 1014.5 569.2 1016.5 569.3 1018.5 569.4 1020.6 569.5 1022.6 569.7 1024.6 569.8 1026.6 569.9 1028.6 570.0 1030.7 570.1 1032.7 570.2 1034.7 570.4 1036.7 570.5 1038.8 570.6 1040.8 570.7 1042.8 570.8 1044.8 570.9 1046.8 571.0 1048.9 571.1 1050.9 571.1 1052.9 571.1 1054.9 571.1 1056.9 571.1 1059.0 571.2 1061.0 571.2 1063.0 571.2 1065.0 571.2 1067.0 571.2 1069.1 571.2 1071.1 571.2 1073.1 571.3 1075.1 571.3 1077.2 571.3 1079.2 571.3 1081.2 571.3 1083.2 571.3 1085.2 571.3 1087.3 571.3 1089.3 571.3 1091.3 571.3 1093.3 571.3 1095.3 571.4 1097.4 571.4 1099.4 571.4 1101.4 571.4 1103.4 571.4 1105.5 571.4 1107.5 571.4 1109.5 571.4 1111.5 571.4 1113.5 571.4 1115.6 571.4 1117.6 571.4 1119.6 571.4 1121.6 571.4 1123.6 571.4 1125.7 571.4 1127.7 571.4 1129.7 571.4 1131.7 571.4 1133.7 571.4 1135.8 571.4 1137.8 571.4 1139.8 571.4 1141.8 571.4 1143.9 571.4 1145.9 571.4 1147.9 571.4 1149.9 571.4 1151.9 571.4 1154.0 571.4 1156.0 571.4 1158.0 571.4 1160.0 571.4 1162.0 571.4 1164.1 571.4 1166.1 571.4 1168.1 571.4 1170.1 571.4 1172.2 571.4 1174.2 571.4 1176.2 571.4 1178.2 571.4 1180.2 571.3 1182.3 571.3 1184.3 571.3 1186.3 571.3 1188.3 571.3 1190.3 571.3 1192.4 571.3 1194.4 571.3 1196.4 571.3 1198.4 571.3 1200.4 571.3 1202.5 571.3 1204.5 571.3 1206.5 571.3 1208.5 571.3 1210.6 571.3 1212.6 571.3 1214.6 571.3 1216.6 571.3 1218.6 571.2 1220.7 571.2 1222.7 571.2 1224.7 571.2 1226.7 571.2 1228.7 571.2 1230.8 571.2 1232.8 571.2 1234.8 571.2 1236.8 571.2 1238.8 571.1 1240.9 571.1 1242.9 571.1 1244.9 571.1 1246.9 571.1 1247.0 571.1" stroke="#0000ff" stroke-width="2.0"/>
<path d="M595.0 218.3L595.3 220.3 595.7 222.3 596.0 224.3 596.3 226.3 596.7 228.7 597.1 231.0 597.5 233.3 597.9 235.5 598.3 237.7 598.7 239.9 599.0 242.1 599.4 244.2 599.8 246.2 600.2 248.2 600.6 250.2 601.1 252.5 601.5 254.7 602.0 256.8 602.4 258.9 602.9 261.0 603.3 263.0 603.8 265.0 604.3 267.2 604.8 269.4 605.4 271.5 605.9 273.6 606.4 275.7 606.9 277.7 607.5 279.7 608.0 281.6 608.5 283.6 609.1 285.7 609.7 287.8 610.3 289.9 610.8 291.9 611.4 293.9 612.0 295.9 612.6 297.8 613.3 299.9 613.9 302.0 614.6 304.0 615.2 306.1 615.9 308.1 616.5 310.1 617.2 312.1 617.8 314.1 618.5 316.1 619.1 318.1 619.8 320.1 620.4 322.1 621.1 324.1 621.7 326.1 622.4 328.0 623.0 330.0 623.7 331.9 624.3 333.8 625.1 335.9 625.8 337.9 626.5 339.9 627.2 341.9 627.9 343.8 628.6 345.7 629.4 347.6 630.1 349.5 630.9 351.5 631.6 353.5 632.4 355.5 633.2 357.4 634.0 359.3 634.8 361.3 635.7 363.2 636.5 365.0 637.4 366.8 638.4 368.6 639.3 370.5 640.3 372.3 641.3 374.0 642.3 375.8 643.4 377.6 644.6 379.3 645.7 381.0 647.0 382.6 648.3 384.1 649.8 385.5 651.4 386.9 652.9 388.3 654.3 389.7 655.5 391.4 656.6 393.1 657.7 394.9 659.0 396.5 660.3 398.1 661.6 399.7 662.9 401.2 664.4 402.7 665.9 404.1 667.4 405.4 669.1 406.7 670.7 407.9 672.4 409.0 674.1 410.1 675.8 411.2 677.6 412.2 679.4 413.2 681.1 414.2 682.9 415.2 684.6 416.1 686.4 417.1 688.2 418.2 689.9 419.2 691.7 420.2 693.5 421.2 695.2 422.2 697.0 423.2 698.7 424.1 700.5 425.1 702.3 426.1 704.1 427.0 706.0 428.0 707.8 428.9 709.6 429.9 711.4 430.8 713.3 431.7 715.1 432.7 716.9 433.6 718.7 434.6 720.6 435.6 722.3 436.5 724.1 437.5 725.9 438.5 727.6 439.5 729.4 440.4 731.2 441.4 733.0 442.4 734.9 443.3 736.7 444.1 738.5 445.0 740.4 445.8 742.3 446.6 744.2 447.4 746.1 448.2 748.0 449.0 749.8 449.8 751.7 450.6 753.6 451.4 755.4 452.3 757.2 453.1 758.7 454.5 759.6 456.3 760.5 458.2 761.5 460.0 763.2 461.1 765.0 461.9 766.9 462.9 768.7 463.8 770.5 464.7 772.3 465.7 774.2 466.6 776.0 467.5 777.8 468.5 779.6 469.4 781.5 470.4 783.3 471.3 785.1 472.3 786.9 473.2 788.8 474.2 790.5 475.2 792.3 476.1 794.1 477.1 795.8 478.1 797.6 479.1 799.3 480.1 801.1 481.1 802.9 482.1 804.6 483.1 806.4 484.1 808.1 485.1 809.9 486.1 811.7 487.1 813.4 488.2 815.2 489.2 816.9 490.2 818.7 491.3 820.5 492.3 822.2 493.4 824.0 494.5 825.7 495.5 827.5 496.6 829.3 497.7 831.0 498.8 832.8 499.9 834.5 501.0 836.3 502.1 838.1 503.2 839.8 504.3 841.6 505.4 843.3 506.4 845.1 507.5 846.9 508.6 848.6 509.7 850.4 510.8 852.1 511.9 853.8 512.9 855.5 514.0 857.2 515.1 858.9 516.1 860.6 517.2 862.3 518.3 864.0 519.4 865.8 520.5 867.5 521.5 869.3 522.6 871.1 523.7 872.8 524.7 874.6 525.7 876.3 526.7 878.2 527.6 880.0 528.6 881.8 529.5 883.6 530.4 885.5 531.2 887.3 532.1 889.1 532.9 891.0 533.7 892.9 534.5 894.8 535.3 896.7 536.1 898.6 536.9 900.5 537.7 902.4 538.5 904.2 539.2 906.1 540.0 908.0 540.8 909.9 541.6 911.8 542.4 913.7 543.2 915.6 544.0 917.5 544.8 919.4 545.6 921.3 546.4 923.2 547.2 925.0 547.9 926.9 548.7 928.8 549.5 930.7 550.2 932.6 550.9 934.5 551.6 936.4 552.3 938.3 553.0 940.2 553.6 942.2 554.3 944.1 555.0 946.1 555.6 948.1 556.2 950.0 556.9 952.0 557.5 953.9 558.1 955.9 558.7 957.8 559.2 959.8 559.8 961.7 560.3 963.7 560.8 965.7 561.2 967.6 561.7 969.6 562.1 971.7 562.5 973.7 562.9 975.7 563.3 977.7 563.7 979.7 564.0 981.8 564.4 983.8 564.7 985.8 565.0 987.8 565.3 989.9 565.6 991.9 565.9 993.9 566.1 995.9 566.4 997.9 566.6 1000.0 566.8 1002.0 567.0 1004.0 567.2 1006.0 567.4 1008.0 567.5 1010.1 567.7 1012.1 567.9 1014.1 568.0 1016.1 568.2 1018.1 568.3 1020.2 568.4 1022.2 568.6 1024.2 568.7 1026.2 568.8 1028.3 568.9 1030.3 569.1 1032.3 569.2 1034.3 569.3 1036.3 569.5 1038.4 569.6 1040.4 569.7 1042.4 569.8 1044.4 569.9 1046.4 570.0 1048.5 570.1 1050.5 570.1 1052.5 570.2 1054.5 570.2 1056.6 570.2 1058.6 570.2 1060.6 570.2 1062.6 570.3 1064.6 570.3 1066.7 570.3 1068.7 570.3 1070.7 570.4 1072.7 570.4 1074.7 570.4 1076.8 570.4 1078.8 570.4 1080.8 570.5 1082.8 570.5 1084.8 570.5 1086.9 570.5 1088.9 570.5 1090.9 570.5 1092.9 570.6 1095.0 570.6 1097.0 570.6 1099.0 570.6 1101.0 570.6 1103.0 570.6 1105.1 570.7 1107.1 570.7 1109.1 570.7 1111.1 570.7 1113.1 570.7 1115.2 570.7 1117.2 570.7 1119.2 570.7 1121.2 570.8 1123.3 570.8 1125.3 570.8 1127.3 570.8 1129.3 570.8 1131.3 570.8 1133.4 570.8 1135.4 570.8 1137.4 570.8 1139.4 570.9 1141.4 570.9 1143.5 570.9 1145.5 570.9 1147.5 570.9 1149.5 570.9 1151.5 570.9 1153.6 570.9 1155.6 570.9 1157.6 570.9 1159.6 570.9 1161.7 571.0 1163.7 571.0 1165.7 571.0 1167.7 571.0 1169.7 571.0 1171.8 571.0 1173.8 571.0 1175.8 571.0 1177.8 571.0 1179.8 571.0 1181.9 571.0 1183.9 571.0 1185.9 571.0 1187.9 571.0 1189.9 571.0 1192.0 571.0 1194.0 571.0 1196.0 571.0 1198.0 571.0 1200.1 571.0 1202.1 571.0 1204.1 571.0 1206.1 571.0 1208.1 571.0 1210.2 571.0 1212.2 571.0 1214.2 571.0 1216.2 571.0 1218.2 571.0 1220.3 571.0 1222.3 571.0 1224.3 571.0 1226.3 571.0 1228.4 571.0 1230.4 571.0 1232.4 571.0 1234.4 571.0 1236.4 571.0 1238.5 571.0 1240.5 571.0 1242.5 571.0 1244.5 571.0 1246.5 570.9 1247.0 570.9" stroke="#008080" stroke-width="2.0"/>
<path d="M595.0 224.4L595.3 226.4 595.7 228.7 596.1 231.1 596.5 233.3 596.9 235.6 597.3 237.8 597.7 240.0 598.1 242.2 598.5 244.3 598.8 246.4 599.2 248.5 599.6 250.5 600.0 252.5 600.5 254.8 600.9 257.0 601.4 259.2 601.8 261.3 602.3 263.3 602.8 265.3 603.2 267.3 603.7 269.5 604.3 271.7 604.8 273.8 605.3 275.9 605.8 277.9 606.3 279.9 606.9 281.9 607.4 283.8 608.0 285.9 608.6 288.0 609.1 290.1 609.7 292.2 610.3 294.2 610.9 296.1 611.5 298.0 612.1 300.1 612.8 302.2 613.5 304.2 614.1 306.2 614.8 308.2 615.4 310.2 616.1 312.1 616.7 314.0 617.4 316.0 618.0 317.9 618.7 319.8 619.3 321.8 620.0 323.7 620.6 325.6 621.3 327.5 621.9 329.4 622.6 331.5 623.4 333.5 624.1 335.5 624.8 337.5 625.5 339.5 626.2 341.4 626.9 343.3 627.7 345.3 628.5 347.3 629.3 349.3 630.1 351.3 630.9 353.2 631.6 355.1 632.4 357.0 633.2 358.8 634.1 360.8 634.9 362.7 635.8 364.6 636.7 366.5 637.7 368.3 638.7 370.1 639.7 371.9 640.7 373.7 641.7 375.5 642.9 377.3 644.0 378.9 645.1 380.6 646.4 382.2 647.7 383.8 649.2 385.2 650.8 386.5 652.4 387.9 653.8 389.3 655.2 390.8 656.4 392.5 657.5 394.2 658.8 395.8 660.1 397.3 661.5 398.8 662.9 400.3 664.4 401.7 666.0 403.1 667.6 404.3 669.3 405.5 671.0 406.6 672.8 407.7 674.5 408.7 676.3 409.7 678.1 410.7 680.0 411.6 681.8 412.6 683.6 413.5 685.4 414.5 687.3 415.4 689.1 416.4 690.9 417.4 692.7 418.4 694.6 419.3 696.4 420.3 698.2 421.2 700.0 422.2 701.9 423.1 703.7 424.0 705.5 424.9 707.3 425.8 709.2 426.7 711.0 427.6 712.8 428.5 714.6 429.4 716.5 430.3 718.3 431.2 720.1 432.1 721.9 433.1 723.8 434.0 725.6 435.0 727.4 436.0 729.2 436.9 731.1 437.9 732.9 438.8 734.7 439.7 736.5 440.5 738.4 441.3 740.3 442.2 742.2 443.0 744.0 443.8 745.9 444.6 747.8 445.4 749.7 446.2 751.6 447.0 753.4 447.9 755.3 448.8 757.1 449.6 758.7 451.0 759.6 452.9 760.5 454.7 761.5 456.4 763.2 457.5 765.0 458.4 766.9 459.3 768.7 460.2 770.5 461.2 772.3 462.1 774.2 463.1 776.0 464.0 777.8 465.0 779.6 465.9 781.5 466.9 783.3 467.9 785.1 468.9 786.9 469.8 788.6 470.8 790.4 471.7 792.2 472.7 793.9 473.7 795.7 474.7 797.4 475.7 799.2 476.7 801.0 477.7 802.7 478.8 804.5 479.8 806.2 480.8 808.0 481.9 809.8 482.9 811.5 483.9 813.3 485.0 815.0 486.0 816.8 487.1 818.6 488.2 820.3 489.2 822.1 490.3 823.9 491.4 825.6 492.5 827.3 493.6 829.0 494.6 830.7 495.7 832.4 496.8 834.1 497.9 835.8 498.9 837.5 500.0 839.2 501.1 840.9 502.2 842.6 503.3 844.3 504.3 846.0 505.4 847.7 506.5 849.5 507.6 851.2 508.7 852.9 509.7 854.6 510.8 856.3 511.9 858.0 513.0 859.7 514.1 861.4 515.1 863.1 516.2 864.8 517.3 866.6 518.4 868.3 519.5 870.1 520.5 871.8 521.6 873.6 522.6 875.4 523.6 877.1 524.5 878.9 525.5 880.8 526.5 882.6 527.4 884.4 528.2 886.2 529.1 888.1 530.0 889.9 530.8 891.8 531.6 893.7 532.5 895.6 533.3 897.5 534.1 899.4 534.9 901.2 535.7 903.1 536.5 905.0 537.2 906.9 538.0 908.8 538.8 910.7 539.6 912.6 540.4 914.5 541.3 916.4 542.1 918.3 542.9 920.2 543.7 922.0 544.5 923.9 545.3 925.8 546.1 927.7 546.9 929.6 547.6 931.5 548.4 933.4 549.1 935.3 549.8 937.2 550.5 939.1 551.2 941.0 551.9 942.8 552.5 944.8 553.2 946.8 553.8 948.7 554.5 950.7 555.1 952.6 555.8 954.6 556.4 956.5 557.0 958.5 557.5 960.4 558.1 962.4 558.6 964.4 559.1 966.3 559.6 968.3 560.1 970.2 560.5 972.2 560.9 974.2 561.3 976.2 561.7 978.2 562.1 980.3 562.5 982.3 562.9 984.3 563.3 986.3 563.6 988.4 564.0 990.4 564.3 992.4 564.6 994.4 564.8 996.4 565.1 998.5 565.3 1000.5 565.6 1002.5 565.8 1004.5 566.0 1006.5 566.2 1008.6 566.4 1010.6 566.6 1012.6 566.7 1014.6 566.9 1016.6 567.1 1018.7 567.2 1020.7 567.4 1022.7 567.5 1024.7 567.7 1026.8 567.8 1028.8 567.9 1030.8 568.1 1032.8 568.2 1034.8 568.4 1036.9 568.5 1038.9 568.6 1040.9 568.8 1042.9 568.9 1044.9 569.0 1047.0 569.1 1049.0 569.1 1051.0 569.2 1053.0 569.2 1055.1 569.2 1057.1 569.3 1059.1 569.3 1061.1 569.3 1063.1 569.4 1065.2 569.4 1067.2 569.4 1069.2 569.4 1071.2 569.5 1073.2 569.5 1075.3 569.5 1077.3 569.6 1079.3 569.6 1081.3 569.6 1083.3 569.6 1085.4 569.7 1087.4 569.7 1089.4 569.7 1091.4 569.8 1093.5 569.8 1095.5 569.8 1097.5 569.9 1099.5 569.9 1101.5 569.9 1103.6 569.9 1105.6 570.0 1107.6 570.0 1109.6 570.0 1111.6 570.0 1113.7 570.1 1115.7 570.1 1117.7 570.1 1119.7 570.1 1121.8 570.1 1123.8 570.2 1125.8 570.2 1127.8 570.2 1129.8 570.2 1131.9 570.3 1133.9 570.3 1135.9 570.3 1137.9 570.3 1139.9 570.3 1142.0 570.4 1144.0 570.4 1146.0 570.4 1148.0 570.4 1150.0 570.4 1152.1 570.5 1154.1 570.5 1156.1 570.5 1158.1 570.5 1160.2 570.5 1162.2 570.5 1164.2 570.6 1166.2 570.6 1168.2 570.6 1170.3 570.6 1172.3 570.6 1174.3 570.6 1176.3 570.6 1178.3 570.7 1180.4 570.7 1182.4 570.7 1184.4 570.7 1186.4 570.7 1188.5 570.7 1190.5 570.7 1192.5 570.7 1194.5 570.7 1196.5 570.7 1198.6 570.7 1200.6 570.8 1202.6 570.8 1204.6 570.8 1206.6 570.8 1208.7 570.8 1210.7 570.8 1212.7 570.8 1214.7 570.8 1216.7 570.8 1218.8 570.8 1220.8 570.8 1222.8 570.8 1224.8 570.8 1226.9 570.8 1228.9 570.8 1230.9 570.8 1232.9 570.8 1234.9 570.8 1237.0 570.8 1239.0 570.8 1241.0 570.8 1243.0 570.8 1245.0 570.8 1247.0 570.8" stroke="#ff00ff" stroke-width="2.0"/>
<path d="M595.0 230.5L595.4 232.8 595.8 235.1 596.2 237.4 596.6 239.6 597.0 241.8 597.3 243.9 597.7 246.0 598.1 248.1 598.5 250.2 598.9 252.2 599.3 254.2 599.8 256.5 600.2 258.7 600.7 260.9 601.1 263.0 601.6 265.1 602.0 267.1 602.5 269.1 603.0 271.3 603.5 273.5 604.1 275.6 604.6 277.7 605.1 279.7 605.6 281.7 606.1 283.7 606.7 285.8 607.3 287.9 607.9 290.0 608.5 292.1 609.1 294.1 609.7 296.0 610.3 298.0 610.9 300.1 611.6 302.1 612.2 304.2 612.9 306.1 613.5 308.1 614.2 310.0 614.8 311.9 615.5 314.0 616.3 316.1 617.0 318.1 617.7 320.2 618.4 322.2 619.1 324.2 619.8 326.3 620.6 328.3 621.3 330.3 622.0 332.3 622.7 334.3 623.4 336.2 624.1 338.2 624.9 340.1 625.6 342.0 626.4 344.0 627.1 345.9 627.9 347.9 628.7 349.7 629.5 351.6 630.3 353.5 631.1 355.3 631.9 357.3 632.8 359.2 633.6 361.1 634.4 363.0 635.4 364.8 636.3 366.7 637.2 368.5 638.2 370.2 639.3 372.1 640.3 373.8 641.4 375.6 642.5 377.3 643.7 379.1 644.9 380.8 646.2 382.4 647.6 383.9 649.1 385.3 650.7 386.6 652.2 387.9 653.7 389.3 655.2 390.8 656.5 392.4 657.8 393.9 659.2 395.4 660.7 396.8 662.2 398.2 663.8 399.5 665.4 400.7 667.1 401.9 668.9 403.0 670.6 404.0 672.5 404.9 674.3 405.8 676.1 406.7 677.9 407.6 679.8 408.4 681.7 409.2 683.6 410.1 685.4 410.9 687.3 411.7 689.1 412.6 690.9 413.5 692.7 414.3 694.6 415.2 696.4 416.1 698.2 416.9 700.0 417.8 701.9 418.6 703.7 419.4 705.6 420.3 707.5 421.1 709.4 421.9 711.3 422.8 713.1 423.6 715.0 424.4 716.8 425.3 718.6 426.1 720.4 427.0 722.3 427.8 724.1 428.7 725.9 429.6 727.7 430.5 729.6 431.4 731.4 432.3 733.2 433.1 735.0 434.0 736.9 434.8 738.8 435.6 740.7 436.4 742.6 437.3 744.5 438.1 746.4 438.9 748.3 439.7 750.1 440.5 751.9 441.4 753.8 442.3 755.6 443.2 757.4 444.1 758.8 445.6 759.8 447.4 760.7 449.3 761.9 450.9 763.7 451.8 765.6 452.7 767.4 453.6 769.2 454.6 771.0 455.5 772.9 456.5 774.7 457.5 776.5 458.4 778.3 459.4 780.0 460.4 781.8 461.3 783.6 462.3 785.3 463.3 787.1 464.3 788.8 465.3 790.6 466.3 792.4 467.3 794.1 468.3 795.9 469.3 797.6 470.3 799.4 471.4 801.2 472.4 802.9 473.5 804.7 474.6 806.4 475.6 808.2 476.7 810.0 477.8 811.7 478.9 813.5 479.9 815.2 481.0 817.0 482.1 818.8 483.2 820.5 484.3 822.2 485.4 823.9 486.5 825.5 487.6 827.2 488.7 828.9 489.8 830.6 490.9 832.3 492.0 834.0 493.1 835.7 494.2 837.4 495.4 839.1 496.5 840.8 497.6 842.5 498.7 844.2 499.8 845.9 500.9 847.6 502.0 849.3 503.0 851.0 504.1 852.7 505.2 854.4 506.3 856.1 507.4 857.8 508.5 859.5 509.6 861.1 510.7 862.8 511.7 864.5 512.8 866.2 513.9 868.0 515.0 869.8 516.1 871.5 517.1 873.3 518.2 875.0 519.2 876.8 520.2 878.6 521.1 880.4 522.1 882.2 523.0 884.0 523.9 885.9 524.8 887.7 525.7 889.5 526.5 891.3 527.4 893.2 528.2 895.1 529.0 896.9 529.9 898.8 530.7 900.7 531.5 902.6 532.3 904.5 533.2 906.4 534.0 908.3 534.8 910.2 535.6 912.1 536.5 914.0 537.3 915.8 538.1 917.7 539.0 919.6 539.8 921.5 540.6 923.4 541.5 925.3 542.3 927.2 543.1 929.1 543.9 931.0 544.7 932.9 545.4 934.8 546.2 936.6 546.9 938.5 547.6 940.4 548.3 942.3 549.0 944.2 549.6 946.1 550.3 948.0 551.0 949.9 551.6 951.8 552.3 953.8 552.9 955.8 553.6 957.7 554.2 959.7 554.8 961.6 555.4 963.6 555.9 965.5 556.5 967.5 557.0 969.4 557.4 971.4 557.9 973.4 558.4 975.3 558.8 977.3 559.3 979.2 559.7 981.2 560.1 983.2 560.5 985.2 560.9 987.2 561.3 989.3 561.7 991.3 562.1 993.3 562.4 995.3 562.7 997.3 563.0 999.4 563.3 1001.4 563.5 1003.4 563.8 1005.4 564.0 1007.5 564.3 1009.5 564.5 1011.5 564.7 1013.5 564.9 1015.5 565.1 1017.6 565.3 1019.6 565.5 1021.6 565.6 1023.6 565.8 1025.6 566.0 1027.7 566.1 1029.7 566.3 1031.7 566.5 1033.7 566.6 1035.8 566.8 1037.8 566.9 1039.8 567.0 1041.8 567.2 1043.8 567.3 1045.9 567.4 1047.9 567.5 1049.9 567.5 1051.9 567.6 1053.9 567.6 1056.0 567.7 1058.0 567.7 1060.0 567.8 1062.0 567.8 1064.0 567.9 1066.1 567.9 1068.1 567.9 1070.1 568.0 1072.1 568.0 1074.2 568.1 1076.2 568.1 1078.2 568.1 1080.2 568.2 1082.2 568.2 1084.3 568.3 1086.3 568.3 1088.3 568.4 1090.3 568.4 1092.3 568.5 1094.4 568.5 1096.4 568.6 1098.4 568.6 1100.4 568.7 1102.5 568.7 1104.5 568.8 1106.5 568.8 1108.5 568.8 1110.5 568.9 1112.6 568.9 1114.6 569.0 1116.6 569.0 1118.6 569.0 1120.6 569.1 1122.7 569.1 1124.7 569.2 1126.7 569.2 1128.7 569.2 1130.7 569.3 1132.8 569.3 1134.8 569.4 1136.8 569.4 1138.8 569.4 1140.9 569.5 1142.9 569.5 1144.9 569.6 1146.9 569.6 1148.9 569.6 1151.0 569.7 1153.0 569.7 1155.0 569.7 1157.0 569.8 1159.0 569.8 1161.1 569.8 1163.1 569.9 1165.1 569.9 1167.1 569.9 1169.2 570.0 1171.2 570.0 1173.2 570.0 1175.2 570.0 1177.2 570.1 1179.3 570.1 1181.3 570.1 1183.3 570.1 1185.3 570.1 1187.3 570.2 1189.4 570.2 1191.4 570.2 1193.4 570.2 1195.4 570.2 1197.4 570.3 1199.5 570.3 1201.5 570.3 1203.5 570.3 1205.5 570.3 1207.6 570.4 1209.6 570.4 1211.6 570.4 1213.6 570.4 1215.6 570.4 1217.7 570.4 1219.7 570.4 1221.7 570.4 1223.7 570.5 1225.7 570.5 1227.8 570.5 1229.8 570.5 1231.8 570.5 1233.8 570.5 1235.9 570.5 1237.9 570.5 1239.9 570.5 1241.9 570.5 1243.9 570.5 1246.0 570.5 1247.0 570.5" stroke="#808000" stroke-width="2.0"/>
<path d="M595.0 256.3L595.4 258.2 595.8 260.2 596.2 262.5 596.7 264.7 597.2 266.9 597.6 269.1 598.1 271.2 598.5 273.3 599.0 275.4 599.4 277.4 599.9 279.4 600.4 281.6 600.9 283.8 601.5 285.8 602.0 287.9 602.5 289.9 603.0 291.8 603.6 293.9 604.2 296.0 604.8 298.0 605.4 300.0 606.0 301.9 606.6 304.0 607.3 306.1 607.9 308.1 608.6 310.0 609.2 312.0 609.9 314.0 610.6 316.0 611.4 318.0 612.1 319.9 612.9 321.9 613.6 323.9 614.4 325.8 615.2 327.7 616.0 329.6 616.8 331.5 617.6 333.3 618.3 335.2 619.2 337.2 620.0 339.2 620.9 341.1 621.7 343.1 622.6 345.0 623.4 346.9 624.3 348.8 625.1 350.6 626.0 352.5 626.9 354.4 627.9 356.2 628.8 358.1 629.8 360.0 630.8 361.8 631.8 363.6 632.8 365.4 633.8 367.2 634.8 369.0 635.9 370.8 637.1 372.5 638.2 374.1 639.4 375.8 640.6 377.4 641.9 379.0 643.2 380.6 644.6 382.1 646.0 383.6 647.5 385.0 649.1 386.2 650.8 387.4 652.5 388.5 654.1 389.8 655.7 391.1 657.3 392.3 659.0 393.4 660.7 394.5 662.5 395.6 664.2 396.6 666.1 397.5 668.0 398.3 669.8 399.1 671.7 399.7 673.7 400.4 675.7 401.0 677.6 401.6 679.6 402.2 681.5 402.8 683.5 403.4 685.4 404.0 687.4 404.7 689.3 405.3 691.2 406.0 693.1 406.7 695.0 407.4 696.8 408.1 698.7 408.7 700.6 409.4 702.5 410.1 704.4 410.8 706.3 411.4 708.2 412.1 710.1 412.8 712.0 413.5 713.9 414.2 715.8 414.9 717.6 415.6 719.5 416.3 721.4 417.1 723.3 417.8 725.2 418.6 727.1 419.3 729.0 420.1 730.9 420.9 732.8 421.7 734.7 422.4 736.5 423.2 738.4 424.0 740.3 424.8 742.2 425.7 744.1 426.5 745.9 427.3 747.8 428.2 749.6 429.0 751.4 429.9 753.2 430.8 755.1 431.8 756.9 432.7 758.5 434.0 759.6 435.9 760.5 437.8 761.8 439.3 763.7 440.2 765.5 441.1 767.3 442.1 769.1 443.1 770.9 444.0 772.7 445.0 774.4 446.0 776.2 447.0 778.0 448.0 779.7 449.0 781.5 450.0 783.2 451.0 785.0 452.1 786.8 453.1 788.5 454.2 790.3 455.2 792.0 456.3 793.8 457.4 795.6 458.5 797.3 459.5 799.0 460.6 800.7 461.7 802.4 462.8 804.1 463.8 805.8 464.9 807.5 466.0 809.2 467.1 810.9 468.2 812.6 469.4 814.3 470.5 816.0 471.6 817.7 472.7 819.4 473.8 821.0 475.0 822.7 476.1 824.4 477.3 826.1 478.5 827.8 479.7 829.5 480.9 831.2 482.0 832.9 483.2 834.6 484.4 836.3 485.6 838.0 486.8 839.7 488.0 841.4 489.2 843.1 490.4 844.8 491.5 846.5 492.7 848.2 493.8 849.9 494.9 851.6 496.0 853.3 497.2 855.0 498.3 856.6 499.4 858.3 500.5 860.0 501.6 861.7 502.7 863.4 503.8 865.1 504.9 866.8 506.0 868.6 507.1 870.3 508.2 872.1 509.2 873.9 510.3 875.6 511.3 877.4 512.3 879.1 513.3 880.9 514.3 882.7 515.2 884.6 516.2 886.4 517.1 888.2 518.0 890.0 518.9 891.9 519.8 893.7 520.7 895.5 521.5 897.3 522.4 899.2 523.2 901.0 524.1 902.8 524.9 904.6 525.7 906.5 526.6 908.3 527.4 910.1 528.3 911.9 529.1 913.8 530.0 915.6 530.8 917.4 531.7 919.2 532.5 921.1 533.4 922.9 534.2 924.7 535.0 926.5 535.9 928.4 536.7 930.3 537.5 932.1 538.3 934.0 539.1 935.9 539.9 937.8 540.7 939.7 541.5 941.6 542.2 943.5 542.9 945.4 543.7 947.3 544.4 949.2 545.1 951.1 545.8 952.9 546.5 954.8 547.2 956.7 547.8 958.7 548.5 960.6 549.2 962.6 549.8 964.6 550.4 966.5 551.0 968.5 551.6 970.4 552.2 972.4 552.7 974.3 553.3 976.3 553.8 978.2 554.3 980.2 554.9 982.2 555.4 984.1 555.9 986.1 556.3 988.0 556.8 990.0 557.2 991.9 557.7 994.0 558.1 996.0 558.5 998.0 558.8 1000.0 559.2 1002.0 559.5 1004.1 559.8 1006.1 560.1 1008.1 560.4 1010.1 560.7 1012.1 561.0 1014.2 561.3 1016.2 561.5 1018.2 561.8 1020.2 562.0 1022.3 562.2 1024.3 562.5 1026.3 562.7 1028.3 562.9 1030.3 563.1 1032.4 563.2 1034.4 563.4 1036.4 563.6 1038.4 563.8 1040.4 563.9 1042.5 564.0 1044.5 564.2 1046.5 564.3 1048.5 564.4 1050.6 564.5 1052.6 564.5 1054.6 564.6 1056.6 564.7 1058.6 564.7 1060.7 564.8 1062.7 564.9 1064.7 564.9 1066.7 565.0 1068.7 565.1 1070.8 565.1 1072.8 565.2 1074.8 565.3 1076.8 565.3 1078.8 565.4 1080.9 565.5 1082.9 565.6 1084.9 565.6 1086.9 565.7 1089.0 565.8 1091.0 565.9 1093.0 566.0 1095.0 566.1 1097.0 566.1 1099.1 566.2 1101.1 566.3 1103.1 566.4 1105.1 566.5 1107.1 566.6 1109.2 566.6 1111.2 566.7 1113.2 566.8 1115.2 566.9 1117.3 566.9 1119.3 567.0 1121.3 567.1 1123.3 567.2 1125.3 567.2 1127.4 567.3 1129.4 567.4 1131.4 567.5 1133.4 567.5 1135.4 567.6 1137.5 567.7 1139.5 567.8 1141.5 567.8 1143.5 567.9 1145.5 568.0 1147.6 568.1 1149.6 568.1 1151.6 568.2 1153.6 568.3 1155.7 568.3 1157.7 568.4 1159.7 568.5 1161.7 568.5 1163.7 568.6 1165.8 568.6 1167.8 568.7 1169.8 568.7 1171.8 568.8 1173.8 568.8 1175.9 568.9 1177.9 568.9 1179.9 569.0 1181.9 569.0 1184.0 569.1 1186.0 569.1 1188.0 569.2 1190.0 569.2 1192.0 569.2 1194.1 569.3 1196.1 569.3 1198.1 569.4 1200.1 569.4 1202.1 569.4 1204.2 569.5 1206.2 569.5 1208.2 569.5 1210.2 569.6 1212.2 569.6 1214.3 569.6 1216.3 569.7 1218.3 569.7 1220.3 569.7 1222.4 569.8 1224.4 569.8 1226.4 569.8 1228.4 569.9 1230.4 569.9 1232.5 569.9 1234.5 569.9 1236.5 569.9 1238.5 570.0 1240.5 570.0 1242.6 570.0 1244.6 570.0 1246.6 570.0 1247.0 570.0" stroke="#1c1c9c" stroke-width="1.5"/>
<path d="M595.0 283.2L595.5 285.1 596.0 287.3 596.5 289.5 597.0 291.7 597.5 293.8 598.1 295.8 598.6 297.8 599.1 299.8 599.6 301.8 600.2 303.9 600.8 306.0 601.4 308.0 602.0 309.9 602.6 312.0 603.3 314.1 603.9 316.0 604.6 318.0 605.3 320.0 606.0 322.0 606.7 324.0 607.5 325.9 608.2 327.8 609.0 329.8 609.8 331.6 610.6 333.6 611.5 335.5 612.3 337.3 613.3 339.2 614.2 341.0 615.1 342.8 616.1 344.7 617.0 346.6 618.0 348.4 619.0 350.2 620.0 352.0 620.9 353.8 622.0 355.6 623.0 357.4 624.1 359.2 625.1 360.9 626.2 362.7 627.3 364.3 628.5 366.0 629.7 367.7 630.9 369.3 632.1 371.0 633.3 372.6 634.6 374.2 635.9 375.8 637.3 377.3 638.7 378.8 640.2 380.2 641.7 381.6 643.2 383.0 644.7 384.3 646.4 385.5 648.1 386.6 649.8 387.6 651.7 388.5 653.4 389.5 655.2 390.5 657.0 391.3 658.9 392.0 660.8 392.8 662.7 393.5 664.6 394.1 666.6 394.7 668.5 395.2 670.5 395.6 672.5 396.1 674.5 396.5 676.6 396.8 678.6 397.2 680.6 397.6 682.6 398.0 684.6 398.4 686.5 398.8 688.5 399.3 690.5 399.8 692.4 400.3 694.4 400.8 696.3 401.4 698.3 401.9 700.2 402.5 702.2 403.0 704.1 403.6 706.1 404.1 708.1 404.7 710.0 405.3 712.0 405.9 713.9 406.5 715.9 407.1 717.8 407.7 719.8 408.3 721.7 408.9 723.7 409.6 725.7 410.2 727.6 410.9 729.5 411.5 731.4 412.2 733.3 412.9 735.2 413.6 737.1 414.4 739.0 415.2 740.9 416.0 742.7 416.8 744.6 417.6 746.4 418.5 748.2 419.4 750.0 420.3 751.9 421.2 753.7 422.2 755.5 423.2 757.2 424.1 758.7 425.6 759.7 427.4 760.7 429.2 762.3 430.5 764.2 431.3 766.0 432.3 767.8 433.2 769.5 434.2 771.3 435.2 773.1 436.2 774.8 437.2 776.6 438.2 778.3 439.3 780.1 440.4 781.9 441.4 783.6 442.5 785.4 443.6 787.1 444.7 788.9 445.8 790.7 446.9 792.4 447.9 794.1 449.0 795.8 450.1 797.4 451.2 799.1 452.3 800.8 453.5 802.5 454.6 804.2 455.7 805.9 456.9 807.6 458.0 809.3 459.2 811.0 460.3 812.7 461.5 814.4 462.7 816.1 463.8 817.8 465.0 819.5 466.2 821.2 467.4 822.8 468.5 824.4 469.7 826.1 470.9 827.7 472.1 829.3 473.3 831.0 474.5 832.6 475.8 834.2 477.0 835.8 478.2 837.5 479.4 839.1 480.6 840.7 481.8 842.4 483.0 844.0 484.1 845.7 485.3 847.4 486.5 849.1 487.7 850.8 488.8 852.5 490.0 854.2 491.1 855.9 492.2 857.6 493.4 859.3 494.5 861.0 495.6 862.6 496.7 864.3 497.8 866.0 498.9 867.7 500.0 869.4 501.1 871.2 502.2 872.9 503.2 874.7 504.3 876.5 505.3 878.2 506.3 880.0 507.3 881.7 508.3 883.5 509.3 885.3 510.2 887.2 511.2 889.0 512.1 890.8 513.1 892.6 514.0 894.5 514.9 896.3 515.8 898.1 516.7 899.9 517.5 901.8 518.4 903.6 519.3 905.4 520.2 907.2 521.1 909.1 521.9 910.9 522.8 912.7 523.7 914.5 524.6 916.4 525.5 918.2 526.4 920.0 527.2 921.8 528.1 923.7 529.0 925.5 529.9 927.3 530.7 929.1 531.6 931.0 532.4 932.8 533.2 934.7 534.1 936.6 534.9 938.5 535.7 940.4 536.5 942.3 537.3 944.1 538.1 946.0 538.8 947.9 539.6 949.8 540.4 951.7 541.1 953.6 541.9 955.5 542.6 957.4 543.3 959.3 544.0 961.2 544.7 963.1 545.3 964.9 546.0 966.9 546.6 968.9 547.3 970.8 547.9 972.8 548.5 974.7 549.2 976.7 549.8 978.6 550.4 980.6 551.0 982.5 551.5 984.5 552.1 986.5 552.7 988.4 553.2 990.4 553.7 992.3 554.2 994.3 554.6 996.2 555.1 998.3 555.5 1000.3 555.9 1002.3 556.3 1004.3 556.7 1006.3 557.0 1008.4 557.4 1010.4 557.7 1012.4 558.1 1014.4 558.4 1016.5 558.7 1018.5 559.0 1020.5 559.3 1022.5 559.5 1024.5 559.8 1026.6 560.0 1028.6 560.3 1030.6 560.5 1032.6 560.7 1034.6 560.9 1036.7 561.1 1038.7 561.2 1040.7 561.4 1042.7 561.5 1044.7 561.7 1046.8 561.8 1048.8 561.9 1050.8 562.0 1052.8 562.1 1054.9 562.2 1056.9 562.3 1058.9 562.4 1060.9 562.5 1062.9 562.5 1065.0 562.6 1067.0 562.7 1069.0 562.8 1071.0 562.9 1073.0 563.0 1075.1 563.1 1077.1 563.1 1079.1 563.2 1081.1 563.3 1083.2 563.4 1085.2 563.6 1087.2 563.7 1089.2 563.8 1091.2 563.9 1093.3 564.0 1095.3 564.1 1097.3 564.2 1099.3 564.3 1101.3 564.4 1103.4 564.6 1105.4 564.7 1107.4 564.8 1109.4 564.9 1111.4 565.0 1113.5 565.1 1115.5 565.2 1117.5 565.3 1119.5 565.4 1121.6 565.5 1123.6 565.6 1125.6 565.7 1127.6 565.8 1129.6 565.9 1131.7 566.0 1133.7 566.1 1135.7 566.2 1137.7 566.3 1139.7 566.4 1141.8 566.5 1143.8 566.6 1145.8 566.7 1147.8 566.8 1149.9 566.9 1151.9 567.0 1153.9 567.1 1155.9 567.2 1157.9 567.3 1160.0 567.4 1162.0 567.5 1164.0 567.5 1166.0 567.6 1168.0 567.7 1170.1 567.8 1172.1 567.8 1174.1 567.9 1176.1 568.0 1178.1 568.0 1180.2 568.1 1182.2 568.2 1184.2 568.2 1186.2 568.3 1188.3 568.3 1190.3 568.4 1192.3 568.5 1194.3 568.5 1196.3 568.6 1198.4 568.6 1200.4 568.7 1202.4 568.8 1204.4 568.8 1206.4 568.9 1208.5 568.9 1210.5 569.0 1212.5 569.0 1214.5 569.1 1216.6 569.1 1218.6 569.1 1220.6 569.2 1222.6 569.2 1224.6 569.3 1226.7 569.3 1228.7 569.4 1230.7 569.4 1232.7 569.4 1234.7 569.5 1236.8 569.5 1238.8 569.5 1240.8 569.6 1242.8 569.6 1244.8 569.6 1246.9 569.6 1247.0 569.6" stroke="#990000" stroke-width="2.0"/>
<path d="M595.0 312.6L595.6 314.6 596.2 316.5 596.8 318.5 597.4 320.6 598.1 322.6 598.7 324.6 599.4 326.6 600.0 328.5 600.7 330.6 601.5 332.5 602.2 334.5 603.0 336.5 603.7 338.4 604.5 340.3 605.4 342.3 606.2 344.2 607.1 346.1 608.0 347.9 609.0 349.8 610.0 351.6 611.0 353.4 612.1 355.1 613.2 356.9 614.3 358.5 615.5 360.2 616.7 361.9 618.0 363.6 619.2 365.2 620.5 366.8 621.8 368.4 623.1 369.9 624.5 371.5 625.9 373.0 627.4 374.4 628.9 375.7 630.5 377.1 632.0 378.3 633.7 379.6 635.3 380.8 637.0 381.9 638.7 383.0 640.4 384.0 642.2 385.0 644.0 386.0 645.9 386.9 647.7 387.7 649.6 388.4 651.6 389.1 653.5 389.8 655.4 390.5 657.3 391.0 659.3 391.5 661.2 392.1 663.2 392.6 665.2 393.1 667.2 393.5 669.2 393.8 671.2 394.2 673.2 394.4 675.3 394.7 677.3 395.0 679.3 395.2 681.3 395.5 683.3 395.8 685.4 396.2 687.4 396.6 689.4 397.0 691.4 397.4 693.3 397.9 695.3 398.3 697.2 398.8 699.2 399.3 701.1 399.7 703.1 400.2 705.1 400.7 707.0 401.2 709.0 401.7 710.9 402.3 712.9 402.8 714.8 403.3 716.8 403.9 718.7 404.5 720.7 405.0 722.7 405.6 724.6 406.2 726.6 406.8 728.5 407.4 730.5 408.1 732.4 408.7 734.3 409.4 736.2 410.1 738.1 410.9 740.0 411.7 741.9 412.5 743.7 413.3 745.5 414.2 747.4 415.1 749.2 416.0 751.0 416.9 752.8 417.9 754.6 418.9 756.4 419.8 758.1 421.0 759.2 422.7 760.2 424.5 761.5 426.1 763.3 426.9 765.2 427.8 766.9 428.8 768.7 429.8 770.5 430.8 772.2 431.8 774.0 432.8 775.7 433.8 777.5 434.9 779.3 436.0 781.0 437.1 782.8 438.2 784.5 439.3 786.2 440.3 787.9 441.4 789.6 442.5 791.3 443.6 793.0 444.7 794.7 445.8 796.4 446.9 798.1 448.0 799.8 449.1 801.5 450.3 803.2 451.4 804.9 452.6 806.6 453.8 808.3 454.9 810.0 456.1 811.7 457.3 813.4 458.5 815.0 459.7 816.7 460.9 818.4 462.1 820.1 463.2 821.7 464.4 823.3 465.6 825.0 466.8 826.6 468.0 828.2 469.3 829.9 470.5 831.5 471.8 833.1 473.0 834.7 474.2 836.4 475.5 838.0 476.7 839.6 477.9 841.3 479.1 842.9 480.3 844.5 481.5 846.2 482.7 847.8 483.9 849.5 485.0 851.2 486.2 852.9 487.4 854.6 488.5 856.3 489.7 858.0 490.8 859.7 491.9 861.4 493.1 863.1 494.2 864.8 495.3 866.5 496.4 868.2 497.4 869.9 498.5 871.6 499.6 873.4 500.7 875.2 501.7 876.9 502.8 878.7 503.8 880.4 504.8 882.2 505.8 884.0 506.8 885.8 507.7 887.6 508.7 889.4 509.7 891.3 510.6 893.1 511.5 894.9 512.4 896.7 513.3 898.6 514.3 900.4 515.1 902.2 516.0 904.0 516.9 905.9 517.8 907.7 518.7 909.5 519.6 911.4 520.5 913.2 521.4 915.0 522.3 916.8 523.2 918.7 524.1 920.5 525.0 922.3 525.9 924.1 526.8 926.0 527.7 927.8 528.6 929.6 529.4 931.4 530.3 933.3 531.1 935.1 531.9 937.0 532.8 938.9 533.6 940.8 534.4 942.6 535.2 944.5 536.0 946.4 536.8 948.3 537.6 950.2 538.4 952.1 539.1 954.0 539.9 955.9 540.6 957.8 541.4 959.7 542.1 961.6 542.8 963.4 543.5 965.3 544.1 967.2 544.8 969.2 545.5 971.1 546.1 973.1 546.8 975.1 547.4 977.0 548.1 979.0 548.7 980.9 549.3 982.9 549.9 984.8 550.5 986.8 551.1 988.7 551.7 990.7 552.2 992.7 552.7 994.6 553.2 996.6 553.7 998.5 554.1 1000.5 554.5 1002.6 554.9 1004.6 555.3 1006.6 555.7 1008.6 556.1 1010.6 556.5 1012.7 556.8 1014.7 557.2 1016.7 557.5 1018.7 557.8 1020.8 558.1 1022.8 558.4 1024.8 558.6 1026.8 558.9 1028.8 559.1 1030.9 559.4 1032.9 559.6 1034.9 559.8 1036.9 560.0 1038.9 560.2 1041.0 560.3 1043.0 560.5 1045.0 560.6 1047.0 560.7 1049.1 560.8 1051.1 561.0 1053.1 561.1 1055.1 561.2 1057.1 561.3 1059.2 561.4 1061.2 561.4 1063.2 561.5 1065.2 561.6 1067.2 561.7 1069.3 561.8 1071.3 561.9 1073.3 562.0 1075.3 562.1 1077.3 562.2 1079.4 562.3 1081.4 562.4 1083.4 562.5 1085.4 562.7 1087.5 562.8 1089.5 562.9 1091.5 563.0 1093.5 563.1 1095.5 563.3 1097.6 563.4 1099.6 563.5 1101.6 563.6 1103.6 563.8 1105.6 563.9 1107.7 564.0 1109.7 564.1 1111.7 564.3 1113.7 564.4 1115.8 564.5 1117.8 564.6 1119.8 564.7 1121.8 564.8 1123.8 564.9 1125.9 565.1 1127.9 565.2 1129.9 565.3 1131.9 565.4 1133.9 565.5 1136.0 565.6 1138.0 565.8 1140.0 565.9 1142.0 566.0 1144.0 566.1 1146.1 566.2 1148.1 566.3 1150.1 566.4 1152.1 566.5 1154.2 566.6 1156.2 566.7 1158.2 566.8 1160.2 566.9 1162.2 567.0 1164.3 567.1 1166.3 567.2 1168.3 567.3 1170.3 567.4 1172.3 567.4 1174.4 567.5 1176.4 567.6 1178.4 567.7 1180.4 567.7 1182.5 567.8 1184.5 567.9 1186.5 567.9 1188.5 568.0 1190.5 568.1 1192.6 568.1 1194.6 568.2 1196.6 568.3 1198.6 568.3 1200.6 568.4 1202.7 568.5 1204.7 568.5 1206.7 568.6 1208.7 568.6 1210.7 568.7 1212.8 568.7 1214.8 568.8 1216.8 568.9 1218.8 568.9 1220.9 569.0 1222.9 569.0 1224.9 569.1 1226.9 569.1 1228.9 569.1 1231.0 569.2 1233.0 569.2 1235.0 569.3 1237.0 569.3 1239.0 569.3 1241.1 569.4 1243.1 569.4 1245.1 569.4 1247.0 569.5" stroke="#ff2a95" stroke-width="1.5"/>
<path d="M595.0 323.6L595.7 325.6 596.3 327.6 597.0 329.5 597.6 331.4 598.3 333.4 599.0 335.4 599.8 337.3 600.5 339.2 601.3 341.2 602.0 343.1 602.8 345.0 603.7 346.9 604.5 348.8 605.4 350.7 606.3 352.5 607.3 354.4 608.3 356.1 609.3 357.9 610.5 359.6 611.6 361.4 612.8 363.0 614.0 364.7 615.3 366.3 616.6 367.9 618.0 369.4 619.4 370.9 620.8 372.3 622.3 373.8 623.8 375.2 625.3 376.5 626.9 377.8 628.6 379.0 630.3 380.1 632.1 381.2 633.9 382.2 635.7 383.2 637.5 384.1 639.3 384.9 641.2 385.7 643.1 386.5 645.0 387.2 646.9 387.9 648.9 388.5 650.8 389.1 652.8 389.6 654.7 390.2 656.7 390.7 658.6 391.2 660.6 391.7 662.5 392.1 664.5 392.6 666.5 393.0 668.5 393.3 670.6 393.6 672.6 393.8 674.6 394.1 676.6 394.3 678.7 394.5 680.7 394.8 682.7 395.1 684.7 395.4 686.7 395.7 688.8 396.1 690.8 396.5 692.8 396.9 694.8 397.4 696.7 397.8 698.7 398.3 700.6 398.7 702.6 399.2 704.5 399.6 706.5 400.1 708.4 400.6 710.4 401.1 712.4 401.7 714.3 402.2 716.3 402.7 718.2 403.3 720.2 403.8 722.1 404.4 724.1 405.0 726.1 405.5 728.0 406.1 730.0 406.7 731.9 407.4 733.8 408.1 735.7 408.7 737.6 409.5 739.5 410.3 741.4 411.1 743.2 411.9 745.0 412.7 746.9 413.6 748.7 414.5 750.5 415.5 752.3 416.5 754.1 417.4 755.8 418.4 757.6 419.4 758.9 421.0 759.9 422.8 761.0 424.4 762.8 425.5 764.6 426.3 766.4 427.3 768.2 428.3 769.9 429.3 771.7 430.3 773.5 431.3 775.2 432.4 777.0 433.4 778.7 434.5 780.5 435.6 782.3 436.7 783.9 437.8 785.6 438.8 787.3 439.9 789.0 441.0 790.7 442.1 792.4 443.2 794.1 444.3 795.8 445.4 797.5 446.5 799.2 447.7 800.9 448.8 802.6 450.0 804.3 451.1 806.0 452.3 807.7 453.5 809.4 454.7 811.1 455.8 812.8 457.0 814.5 458.2 816.2 459.4 817.8 460.6 819.4 461.8 821.0 462.9 822.7 464.1 824.3 465.4 825.9 466.6 827.6 467.8 829.2 469.1 830.8 470.3 832.5 471.6 834.1 472.8 835.7 474.0 837.3 475.3 839.0 476.5 840.6 477.7 842.2 479.0 843.9 480.2 845.5 481.3 847.2 482.5 848.9 483.7 850.6 484.9 852.3 486.0 854.0 487.2 855.7 488.4 857.4 489.5 859.1 490.6 860.8 491.8 862.5 492.9 864.1 494.0 865.8 495.1 867.5 496.2 869.2 497.2 871.0 498.3 872.8 499.4 874.5 500.5 876.3 501.6 878.0 502.6 879.8 503.6 881.6 504.6 883.3 505.6 885.1 506.5 886.9 507.5 888.7 508.5 890.6 509.4 892.4 510.4 894.2 511.3 896.0 512.2 897.9 513.1 899.7 514.0 901.5 514.9 903.3 515.8 905.2 516.7 907.0 517.6 908.8 518.5 910.6 519.4 912.5 520.3 914.3 521.2 916.1 522.1 917.9 523.0 919.8 523.9 921.6 524.8 923.4 525.7 925.2 526.6 927.1 527.5 928.9 528.4 930.7 529.2 932.5 530.1 934.4 530.9 936.2 531.7 938.1 532.6 940.0 533.4 941.9 534.2 943.8 535.0 945.6 535.8 947.5 536.6 949.4 537.4 951.3 538.2 953.2 538.9 955.1 539.7 957.0 540.4 958.9 541.2 960.8 541.9 962.7 542.6 964.6 543.3 966.4 543.9 968.3 544.6 970.3 545.3 972.2 545.9 974.2 546.6 976.2 547.3 978.1 547.9 980.1 548.5 982.0 549.2 984.0 549.8 985.9 550.4 987.9 551.0 989.9 551.5 991.8 552.0 993.8 552.5 995.7 553.0 997.7 553.5 999.6 553.9 1001.7 554.3 1003.7 554.7 1005.7 555.1 1007.7 555.5 1009.7 555.9 1011.8 556.3 1013.8 556.6 1015.8 557.0 1017.8 557.3 1019.8 557.6 1021.9 557.9 1023.9 558.2 1025.9 558.4 1027.9 558.7 1029.9 558.9 1032.0 559.1 1034.0 559.4 1036.0 559.6 1038.0 559.7 1040.1 559.9 1042.1 560.1 1044.1 560.2 1046.1 560.3 1048.1 560.5 1050.2 560.6 1052.2 560.7 1054.2 560.8 1056.2 560.9 1058.2 561.0 1060.3 561.1 1062.3 561.2 1064.3 561.3 1066.3 561.4 1068.4 561.5 1070.4 561.6 1072.4 561.7 1074.4 561.8 1076.4 561.9 1078.5 562.0 1080.5 562.1 1082.5 562.2 1084.5 562.3 1086.5 562.4 1088.6 562.6 1090.6 562.7 1092.6 562.8 1094.6 563.0 1096.6 563.1 1098.7 563.2 1100.7 563.3 1102.7 563.5 1104.7 563.6 1106.8 563.7 1108.8 563.9 1110.8 564.0 1112.8 564.1 1114.8 564.2 1116.9 564.3 1118.9 564.5 1120.9 564.6 1122.9 564.7 1124.9 564.8 1127.0 564.9 1129.0 565.0 1131.0 565.2 1133.0 565.3 1135.1 565.4 1137.1 565.5 1139.1 565.6 1141.1 565.8 1143.1 565.9 1145.2 566.0 1147.2 566.1 1149.2 566.2 1151.2 566.3 1153.2 566.4 1155.3 566.5 1157.3 566.6 1159.3 566.7 1161.3 566.8 1163.3 566.9 1165.4 567.0 1167.4 567.1 1169.4 567.2 1171.4 567.3 1173.5 567.4 1175.5 567.4 1177.5 567.5 1179.5 567.6 1181.5 567.7 1183.6 567.7 1185.6 567.8 1187.6 567.9 1189.6 567.9 1191.6 568.0 1193.7 568.1 1195.7 568.1 1197.7 568.2 1199.7 568.3 1201.8 568.3 1203.8 568.4 1205.8 568.5 1207.8 568.5 1209.8 568.6 1211.9 568.6 1213.9 568.7 1215.9 568.8 1217.9 568.8 1219.9 568.9 1222.0 568.9 1224.0 569.0 1226.0 569.0 1228.0 569.1 1230.0 569.1 1232.1 569.1 1234.1 569.2 1236.1 569.2 1238.1 569.3 1240.2 569.3 1242.2 569.3 1244.2 569.4 1246.2 569.4 1247.0 569.4" stroke="#008000" stroke-width="2.0"/>
<path d="M595.0 334.6L595.7 336.6 596.4 338.5 597.2 340.4 597.9 342.4 598.7 344.4 599.5 346.3 600.3 348.1 601.1 350.1 602.0 352.0 602.8 353.8 603.7 355.7 604.6 357.5 605.6 359.3 606.7 361.1 607.7 362.9 608.8 364.6 610.0 366.2 611.2 367.9 612.5 369.5 613.9 371.1 615.3 372.6 616.8 374.0 618.3 375.3 619.8 376.7 621.4 377.9 623.0 379.2 624.7 380.3 626.5 381.4 628.3 382.3 630.2 383.2 632.1 383.9 634.0 384.6 635.9 385.3 637.8 385.9 639.8 386.5 641.7 387.1 643.7 387.6 645.7 388.2 647.6 388.7 649.6 389.1 651.5 389.5 653.5 390.0 655.5 390.4 657.5 390.8 659.4 391.3 661.4 391.7 663.4 392.1 665.4 392.5 667.4 392.8 669.5 393.1 671.5 393.4 673.5 393.6 675.5 393.8 677.5 394.0 679.6 394.2 681.6 394.5 683.6 394.7 685.6 395.1 687.6 395.4 689.7 395.8 691.7 396.2 693.7 396.6 695.7 397.0 697.6 397.4 699.6 397.9 701.5 398.3 703.5 398.8 705.4 399.2 707.4 399.7 709.4 400.2 711.3 400.7 713.3 401.2 715.2 401.8 717.2 402.3 719.1 402.8 721.1 403.4 723.1 403.9 725.0 404.5 727.0 405.1 728.9 405.7 730.9 406.3 732.8 406.9 734.7 407.6 736.6 408.3 738.5 409.1 740.4 409.9 742.3 410.7 744.1 411.5 745.9 412.4 747.8 413.3 749.6 414.2 751.4 415.2 753.2 416.1 754.9 417.1 756.7 418.1 758.3 419.3 759.4 421.1 760.5 423.0 762.0 424.3 763.9 425.2 765.7 426.1 767.5 427.1 769.2 428.1 771.0 429.1 772.7 430.1 774.5 431.2 776.3 432.2 778.0 433.3 779.8 434.4 781.5 435.5 783.2 436.5 784.9 437.6 786.6 438.7 788.3 439.8 790.0 440.9 791.7 442.0 793.4 443.1 795.1 444.2 796.8 445.3 798.5 446.4 800.2 447.6 801.9 448.7 803.6 449.9 805.3 451.1 807.0 452.3 808.7 453.5 810.4 454.6 812.1 455.8 813.7 457.0 815.4 458.2 817.0 459.4 818.6 460.5 820.3 461.7 821.9 462.9 823.5 464.1 825.2 465.3 826.8 466.6 828.4 467.8 830.0 469.1 831.7 470.3 833.3 471.6 834.9 472.8 836.6 474.1 838.2 475.3 839.8 476.6 841.5 477.8 843.1 479.0 844.7 480.2 846.3 481.3 848.0 482.5 849.7 483.7 851.4 484.9 853.1 486.0 854.8 487.2 856.5 488.4 858.2 489.5 859.9 490.6 861.6 491.8 863.3 492.9 865.0 494.0 866.7 495.1 868.4 496.1 870.1 497.2 871.8 498.3 873.6 499.4 875.4 500.4 877.1 501.5 878.9 502.5 880.6 503.5 882.4 504.5 884.2 505.5 885.9 506.4 887.7 507.4 889.6 508.4 891.4 509.3 893.2 510.2 895.1 511.2 896.9 512.1 898.7 513.0 900.5 513.9 902.4 514.8 904.2 515.7 906.0 516.6 907.8 517.5 909.7 518.4 911.5 519.3 913.3 520.2 915.1 521.1 917.0 522.1 918.8 523.0 920.6 523.9 922.4 524.8 924.3 525.7 926.1 526.6 927.9 527.4 929.7 528.3 931.6 529.2 933.4 530.0 935.2 530.8 937.0 531.7 938.9 532.5 940.8 533.3 942.7 534.1 944.6 534.9 946.5 535.7 948.4 536.5 950.3 537.3 952.2 538.1 954.1 538.9 955.9 539.6 957.8 540.3 959.7 541.1 961.6 541.8 963.5 542.5 965.4 543.2 967.3 543.9 969.2 544.5 971.1 545.2 973.1 545.9 975.1 546.5 977.0 547.2 979.0 547.8 980.9 548.5 982.9 549.1 984.8 549.7 986.8 550.3 988.7 550.9 990.7 551.4 992.7 552.0 994.6 552.5 996.6 552.9 998.5 553.4 1000.5 553.8 1002.5 554.2 1004.5 554.6 1006.5 555.0 1008.6 555.4 1010.6 555.8 1012.6 556.2 1014.6 556.5 1016.6 556.9 1018.7 557.2 1020.7 557.5 1022.7 557.8 1024.7 558.1 1026.8 558.3 1028.8 558.6 1030.8 558.8 1032.8 559.0 1034.8 559.2 1036.9 559.4 1038.9 559.6 1040.9 559.8 1042.9 559.9 1044.9 560.0 1047.0 560.2 1049.0 560.3 1051.0 560.4 1053.0 560.5 1055.1 560.6 1057.1 560.7 1059.1 560.8 1061.1 560.9 1063.1 561.0 1065.2 561.1 1067.2 561.2 1069.2 561.3 1071.2 561.4 1073.2 561.5 1075.3 561.6 1077.3 561.7 1079.3 561.8 1081.3 561.9 1083.3 562.1 1085.4 562.2 1087.4 562.3 1089.4 562.4 1091.4 562.6 1093.5 562.7 1095.5 562.8 1097.5 563.0 1099.5 563.1 1101.5 563.2 1103.6 563.4 1105.6 563.5 1107.6 563.6 1109.6 563.8 1111.6 563.9 1113.7 564.0 1115.7 564.1 1117.7 564.2 1119.7 564.4 1121.8 564.5 1123.8 564.6 1125.8 564.7 1127.8 564.8 1129.8 565.0 1131.9 565.1 1133.9 565.2 1135.9 565.3 1137.9 565.5 1139.9 565.6 1142.0 565.7 1144.0 565.8 1146.0 565.9 1148.0 566.0 1150.0 566.2 1152.1 566.3 1154.1 566.4 1156.1 566.5 1158.1 566.6 1160.2 566.7 1162.2 566.8 1164.2 566.9 1166.2 567.0 1168.2 567.1 1170.3 567.2 1172.3 567.2 1174.3 567.3 1176.3 567.4 1178.3 567.5 1180.4 567.5 1182.4 567.6 1184.4 567.7 1186.4 567.8 1188.5 567.8 1190.5 567.9 1192.5 568.0 1194.5 568.0 1196.5 568.1 1198.6 568.2 1200.6 568.2 1202.6 568.3 1204.6 568.4 1206.6 568.4 1208.7 568.5 1210.7 568.6 1212.7 568.6 1214.7 568.7 1216.7 568.7 1218.8 568.8 1220.8 568.8 1222.8 568.9 1224.8 568.9 1226.9 569.0 1228.9 569.0 1230.9 569.1 1232.9 569.1 1234.9 569.2 1237.0 569.2 1239.0 569.2 1241.0 569.3 1243.0 569.3 1245.0 569.3 1247.0 569.4" stroke="#2626c8" stroke-width="1.5"/>
</g>
<path d="M241.2 892.0V875.0M328.9 892.0V883.0M416.7 892.0V875.0M504.4 892.0V883.0M592.1 892.0V875.0M679.9 892.0V883.0M767.6 892.0V875.0M855.3 892.0V883.0M943.1 892.0V875.0M1030.8 892.0V883.0M1118.5 892.0V875.0M1206.3 892.0V883.0M171.0 808.9H180.0M171.0 725.8H187.0M171.0 642.7H180.0M171.0 559.6H187.0M171.0 476.5H180.0M171.0 393.4H187.0M171.0 310.3H180.0M171.0 227.2H187.0M171.0 144.1H180.0" stroke="#000" stroke-width="2.6" fill="none"/>
<rect x="171.0" y="61.0" width="1123.0" height="831.0" fill="none" stroke="#000" stroke-width="3"/>
<text transform="translate(151.5 908.0) scale(0.96 1.05)" text-anchor="end" font-size="46">0.0</text>
<text transform="translate(151.5 741.8) scale(0.96 1.05)" text-anchor="end" font-size="46">0.5</text>
<text transform="translate(151.5 575.6) scale(0.96 1.05)" text-anchor="end" font-size="46">1.0</text>
<text transform="translate(151.5 409.4) scale(0.96 1.05)" text-anchor="end" font-size="46">1.5</text>
<text transform="translate(151.5 243.2) scale(0.96 1.05)" text-anchor="end" font-size="46">2.0</text>
<text transform="translate(151.5 77.0) scale(0.96 1.05)" text-anchor="end" font-size="46">2.5</text>
<text x="241.2" y="945" text-anchor="middle" font-size="46">300</text>
<text x="416.7" y="945" text-anchor="middle" font-size="46">350</text>
<text x="592.1" y="945" text-anchor="middle" font-size="46">400</text>
<text x="767.6" y="945" text-anchor="middle" font-size="46">450</text>
<text x="943.1" y="945" text-anchor="middle" font-size="46">500</text>
<text x="1118.5" y="945" text-anchor="middle" font-size="46">550</text>
<text x="1294.0" y="945" text-anchor="middle" font-size="46">600</text>
<text transform="translate(62.5 509.6) rotate(-90)" text-anchor="middle" font-size="53">Absorbance (a.u.)</text>
<text x="734.5" y="1026.6" text-anchor="middle" font-size="52">Wavelength (nm)</text>
<text x="584.5" y="559.9" text-anchor="end" font-size="26">0.05</text>
<text x="584.5" y="415.9" text-anchor="end" font-size="26">0.10</text>
<text x="584.5" y="271.8" text-anchor="end" font-size="26">0.15</text>
<text x="584.5" y="127.8" text-anchor="end" font-size="26">0.20</text>
<text x="595.0" y="671" text-anchor="middle" font-size="26">400</text>
<text x="660.2" y="671" text-anchor="middle" font-size="26">420</text>
<text x="725.4" y="671" text-anchor="middle" font-size="26">440</text>
<text x="790.6" y="671" text-anchor="middle" font-size="26">460</text>
<text x="855.8" y="671" text-anchor="middle" font-size="26">480</text>
<text x="921.0" y="671" text-anchor="middle" font-size="26">500</text>
<text x="986.2" y="671" text-anchor="middle" font-size="26">520</text>
<text x="1051.4" y="671" text-anchor="middle" font-size="26">540</text>
<text x="1116.6" y="671" text-anchor="middle" font-size="26">560</text>
<text x="1181.8" y="671" text-anchor="middle" font-size="26">580</text>
<text x="1247.0" y="671" text-anchor="middle" font-size="26">600</text>
<text transform="translate(515.8 399.7) rotate(-90)" text-anchor="middle" font-size="31.8">Absorbance (a.u.)</text>
<text x="922.7" y="721.2" text-anchor="middle" font-size="31">Wavelength (nm)</text>
<path d="M973.5 176.0H1034" stroke="#000000" stroke-width="3.6"/>
<text x="1039.5" y="184.5" font-size="26">0s</text>
<path d="M973.5 207.4H1034" stroke="#ff1010" stroke-width="2.8"/>
<text x="1039.5" y="215.9" font-size="26">5s</text>
<path d="M973.5 239.1H1034" stroke="#0000ff" stroke-width="3.6"/>
<text x="1039.5" y="247.6" font-size="26">10s</text>
<path d="M973.5 270.9H1034" stroke="#008080" stroke-width="3.6"/>
<text x="1039.5" y="279.4" font-size="26">20s</text>
<path d="M973.5 301.6H1034" stroke="#ff00ff" stroke-width="3.6"/>
<text x="1039.5" y="310.1" font-size="26">40s</text>
<path d="M973.5 334.0H1034" stroke="#808000" stroke-width="3.6"/>
<text x="1039.5" y="342.5" font-size="26">1min</text>
<path d="M973.5 365.5H1034" stroke="#1c1c9c" stroke-width="2.8"/>
<text x="1039.5" y="374.0" font-size="26">2min</text>
<path d="M973.5 397.3H1034" stroke="#990000" stroke-width="3.6"/>
<text x="1039.5" y="405.8" font-size="26">5min</text>
<path d="M973.5 428.8H1034" stroke="#ff2a95" stroke-width="2.8"/>
<text x="1039.5" y="437.2" font-size="26">10min</text>
<path d="M973.5 460.6H1034" stroke="#008000" stroke-width="3.6"/>
<text x="1039.5" y="469.1" font-size="26">20min</text>
<path d="M973.5 491.8H1034" stroke="#2626c8" stroke-width="2.8"/>
<text x="1039.5" y="500.3" font-size="26">30min</text>
<rect x="1002" y="332.6" width="2.2" height="2.8" fill="#222"/>
<path d="M959.2 151V506" stroke="#111" stroke-width="1.9" stroke-linecap="round"/>
<path d="M955.6 503 L959.2 518 L962.8 503 L959.2 507 Z" fill="#000"/>
</svg>
</body></html>
